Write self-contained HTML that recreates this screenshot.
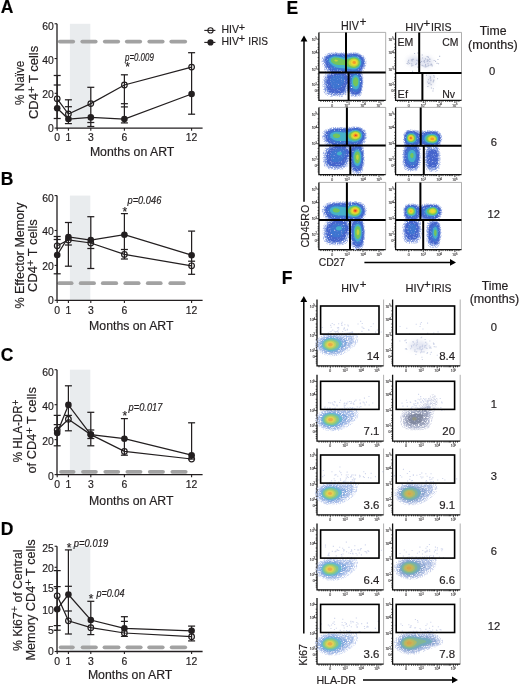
<!DOCTYPE html>
<html><head><meta charset="utf-8"><style>
html,body{margin:0;padding:0;background:#fff;}
body{width:520px;height:687px;overflow:hidden;}
svg{display:block;font-family:"Liberation Sans", sans-serif;will-change:transform;}
text{stroke:#231f20;stroke-width:0.18px;}
</style></head><body>
<svg width="520" height="687" viewBox="0 0 520 687" fill="#231f20">
<rect width="520" height="687" fill="#fff"/>
<text x="0.80" y="12.90" font-size="17.5" font-weight="bold" fill="#000">A</text>
<text x="0.80" y="184.60" font-size="17.5" font-weight="bold" fill="#000">B</text>
<text x="0.80" y="360.60" font-size="17.5" font-weight="bold" fill="#000">C</text>
<text x="0.80" y="534.60" font-size="17.5" font-weight="bold" fill="#000">D</text>
<text x="286.40" y="13.60" font-size="17.5" font-weight="bold" fill="#000">E</text>
<text x="281.80" y="283.60" font-size="17.5" font-weight="bold" fill="#000">F</text>
<rect x="69.9" y="23.80" width="20.4" height="104.30" fill="#e9ecee"/>
<line x1="59.80" y1="41.60" x2="73.20" y2="41.60" stroke="#a2a2a2" stroke-width="3.8" stroke-linecap="round"/>
<line x1="82.30" y1="41.60" x2="95.70" y2="41.60" stroke="#a2a2a2" stroke-width="3.8" stroke-linecap="round"/>
<line x1="104.80" y1="41.60" x2="118.20" y2="41.60" stroke="#a2a2a2" stroke-width="3.8" stroke-linecap="round"/>
<line x1="126.80" y1="41.60" x2="140.20" y2="41.60" stroke="#a2a2a2" stroke-width="3.8" stroke-linecap="round"/>
<line x1="149.30" y1="41.60" x2="162.70" y2="41.60" stroke="#a2a2a2" stroke-width="3.8" stroke-linecap="round"/>
<line x1="171.30" y1="41.60" x2="185.20" y2="41.60" stroke="#a2a2a2" stroke-width="3.8" stroke-linecap="round"/>
<path d="M57,23.80 V128.10 H202.6" fill="none" stroke="#231f20" stroke-width="1.3"/>
<line x1="54.6" y1="128.10" x2="57" y2="128.10" stroke="#231f20" stroke-width="1.1"/>
<text x="53.80" y="132.15" font-size="10.4" text-anchor="end">0</text>
<line x1="54.6" y1="93.32" x2="57" y2="93.32" stroke="#231f20" stroke-width="1.1"/>
<text x="53.80" y="97.85" font-size="10.4" text-anchor="end">20</text>
<line x1="54.6" y1="58.54" x2="57" y2="58.54" stroke="#231f20" stroke-width="1.1"/>
<text x="53.80" y="63.50" font-size="10.4" text-anchor="end">40</text>
<line x1="54.6" y1="23.76" x2="57" y2="23.76" stroke="#231f20" stroke-width="1.1"/>
<text x="53.80" y="29.65" font-size="10.4" text-anchor="end">60</text>
<line x1="57.20" y1="128.10" x2="57.20" y2="130.70" stroke="#231f20" stroke-width="1.1"/>
<text x="57.20" y="141.40" font-size="10.4" text-anchor="middle">0</text>
<line x1="68.40" y1="128.10" x2="68.40" y2="130.70" stroke="#231f20" stroke-width="1.1"/>
<text x="68.40" y="141.40" font-size="10.4" text-anchor="middle">1</text>
<line x1="90.80" y1="128.10" x2="90.80" y2="130.70" stroke="#231f20" stroke-width="1.1"/>
<text x="90.80" y="141.40" font-size="10.4" text-anchor="middle">3</text>
<line x1="124.40" y1="128.10" x2="124.40" y2="130.70" stroke="#231f20" stroke-width="1.1"/>
<text x="124.40" y="141.40" font-size="10.4" text-anchor="middle">6</text>
<line x1="191.60" y1="128.10" x2="191.60" y2="130.70" stroke="#231f20" stroke-width="1.1"/>
<text x="191.60" y="141.40" font-size="10.4" text-anchor="middle">12</text>
<text x="89.90" y="155.80" font-size="12" textLength="84.40" lengthAdjust="spacingAndGlyphs">Months on ART</text>
<line x1="57.20" y1="75.50" x2="57.20" y2="118.50" stroke="#231f20" stroke-width="1.25"/>
<line x1="53.70" y1="75.50" x2="60.70" y2="75.50" stroke="#231f20" stroke-width="1.25"/>
<line x1="53.70" y1="85.00" x2="60.70" y2="85.00" stroke="#231f20" stroke-width="1.25"/>
<line x1="53.70" y1="118.50" x2="60.70" y2="118.50" stroke="#231f20" stroke-width="1.25"/>
<line x1="68.40" y1="99.80" x2="68.40" y2="123.60" stroke="#231f20" stroke-width="1.25"/>
<line x1="64.90" y1="99.80" x2="71.90" y2="99.80" stroke="#231f20" stroke-width="1.25"/>
<line x1="64.90" y1="106.70" x2="71.90" y2="106.70" stroke="#231f20" stroke-width="1.25"/>
<line x1="64.90" y1="123.60" x2="71.90" y2="123.60" stroke="#231f20" stroke-width="1.25"/>
<line x1="90.80" y1="87.30" x2="90.80" y2="126.50" stroke="#231f20" stroke-width="1.25"/>
<line x1="87.30" y1="87.30" x2="94.30" y2="87.30" stroke="#231f20" stroke-width="1.25"/>
<line x1="87.30" y1="122.50" x2="94.30" y2="122.50" stroke="#231f20" stroke-width="1.25"/>
<line x1="87.30" y1="126.50" x2="94.30" y2="126.50" stroke="#231f20" stroke-width="1.25"/>
<line x1="124.40" y1="74.80" x2="124.40" y2="122.90" stroke="#231f20" stroke-width="1.25"/>
<line x1="120.90" y1="74.80" x2="127.90" y2="74.80" stroke="#231f20" stroke-width="1.25"/>
<line x1="120.90" y1="103.70" x2="127.90" y2="103.70" stroke="#231f20" stroke-width="1.25"/>
<line x1="120.90" y1="106.90" x2="127.90" y2="106.90" stroke="#231f20" stroke-width="1.25"/>
<line x1="120.90" y1="122.90" x2="127.90" y2="122.90" stroke="#231f20" stroke-width="1.25"/>
<line x1="191.60" y1="52.70" x2="191.60" y2="114.20" stroke="#231f20" stroke-width="1.25"/>
<line x1="188.10" y1="52.70" x2="195.10" y2="52.70" stroke="#231f20" stroke-width="1.25"/>
<line x1="188.10" y1="114.20" x2="195.10" y2="114.20" stroke="#231f20" stroke-width="1.25"/>
<polyline points="57.20,98.80 68.40,114.00 90.80,103.60 124.40,85.00 191.60,67.10" fill="none" stroke="#231f20" stroke-width="1.25"/>
<polyline points="57.20,108.30 68.40,119.00 90.80,117.40 124.40,119.00 191.60,94.00" fill="none" stroke="#231f20" stroke-width="1.25"/>
<circle cx="57.20" cy="108.30" r="3.3" fill="#231f20"/>
<circle cx="68.40" cy="119.00" r="3.3" fill="#231f20"/>
<circle cx="90.80" cy="117.40" r="3.3" fill="#231f20"/>
<circle cx="124.40" cy="119.00" r="3.3" fill="#231f20"/>
<circle cx="191.60" cy="94.00" r="3.3" fill="#231f20"/>
<circle cx="57.20" cy="98.80" r="2.8" fill="none" stroke="#231f20" stroke-width="1.2"/>
<circle cx="68.40" cy="114.00" r="2.8" fill="none" stroke="#231f20" stroke-width="1.2"/>
<circle cx="90.80" cy="103.60" r="2.8" fill="none" stroke="#231f20" stroke-width="1.2"/>
<circle cx="124.40" cy="85.00" r="2.8" fill="none" stroke="#231f20" stroke-width="1.2"/>
<circle cx="191.60" cy="67.10" r="2.8" fill="none" stroke="#231f20" stroke-width="1.2"/>
<text x="127.50" y="71.00" font-size="12" text-anchor="middle">*</text>
<text x="125.00" y="60.50" font-size="10.5" font-style="italic" textLength="28.80" lengthAdjust="spacingAndGlyphs">p=0.009</text>
<rect x="69.9" y="195.60" width="20.4" height="104.70" fill="#e9ecee"/>
<line x1="59.20" y1="283.20" x2="71.60" y2="283.20" stroke="#a2a2a2" stroke-width="3.8" stroke-linecap="round"/>
<line x1="80.70" y1="283.20" x2="94.00" y2="283.20" stroke="#a2a2a2" stroke-width="3.8" stroke-linecap="round"/>
<line x1="102.80" y1="283.20" x2="116.20" y2="283.20" stroke="#a2a2a2" stroke-width="3.8" stroke-linecap="round"/>
<line x1="125.30" y1="283.20" x2="138.60" y2="283.20" stroke="#a2a2a2" stroke-width="3.8" stroke-linecap="round"/>
<line x1="147.80" y1="283.20" x2="160.70" y2="283.20" stroke="#a2a2a2" stroke-width="3.8" stroke-linecap="round"/>
<line x1="170.30" y1="283.20" x2="183.80" y2="283.20" stroke="#a2a2a2" stroke-width="3.8" stroke-linecap="round"/>
<path d="M57,195.60 V300.30 H202.6" fill="none" stroke="#231f20" stroke-width="1.3"/>
<line x1="54.6" y1="300.30" x2="57" y2="300.30" stroke="#231f20" stroke-width="1.1"/>
<text x="53.80" y="304.45" font-size="10.4" text-anchor="end">0</text>
<line x1="54.6" y1="265.40" x2="57" y2="265.40" stroke="#231f20" stroke-width="1.1"/>
<text x="53.80" y="270.05" font-size="10.4" text-anchor="end">20</text>
<line x1="54.6" y1="230.50" x2="57" y2="230.50" stroke="#231f20" stroke-width="1.1"/>
<text x="53.80" y="235.45" font-size="10.4" text-anchor="end">40</text>
<line x1="54.6" y1="195.60" x2="57" y2="195.60" stroke="#231f20" stroke-width="1.1"/>
<text x="53.80" y="201.95" font-size="10.4" text-anchor="end">60</text>
<line x1="57.20" y1="300.30" x2="57.20" y2="302.90" stroke="#231f20" stroke-width="1.1"/>
<text x="57.20" y="313.60" font-size="10.4" text-anchor="middle">0</text>
<line x1="68.40" y1="300.30" x2="68.40" y2="302.90" stroke="#231f20" stroke-width="1.1"/>
<text x="68.40" y="313.60" font-size="10.4" text-anchor="middle">1</text>
<line x1="90.80" y1="300.30" x2="90.80" y2="302.90" stroke="#231f20" stroke-width="1.1"/>
<text x="90.80" y="313.60" font-size="10.4" text-anchor="middle">3</text>
<line x1="124.40" y1="300.30" x2="124.40" y2="302.90" stroke="#231f20" stroke-width="1.1"/>
<text x="124.40" y="313.60" font-size="10.4" text-anchor="middle">6</text>
<line x1="191.60" y1="300.30" x2="191.60" y2="302.90" stroke="#231f20" stroke-width="1.1"/>
<text x="191.60" y="313.60" font-size="10.4" text-anchor="middle">12</text>
<text x="89.10" y="329.80" font-size="12" textLength="84.40" lengthAdjust="spacingAndGlyphs">Months on ART</text>
<line x1="57.20" y1="236.50" x2="57.20" y2="273.80" stroke="#231f20" stroke-width="1.25"/>
<line x1="53.70" y1="236.50" x2="60.70" y2="236.50" stroke="#231f20" stroke-width="1.25"/>
<line x1="53.70" y1="239.50" x2="60.70" y2="239.50" stroke="#231f20" stroke-width="1.25"/>
<line x1="53.70" y1="273.80" x2="60.70" y2="273.80" stroke="#231f20" stroke-width="1.25"/>
<line x1="68.40" y1="222.50" x2="68.40" y2="266.20" stroke="#231f20" stroke-width="1.25"/>
<line x1="64.90" y1="222.50" x2="71.90" y2="222.50" stroke="#231f20" stroke-width="1.25"/>
<line x1="64.90" y1="245.00" x2="71.90" y2="245.00" stroke="#231f20" stroke-width="1.25"/>
<line x1="64.90" y1="266.20" x2="71.90" y2="266.20" stroke="#231f20" stroke-width="1.25"/>
<line x1="90.80" y1="216.70" x2="90.80" y2="268.50" stroke="#231f20" stroke-width="1.25"/>
<line x1="87.30" y1="216.70" x2="94.30" y2="216.70" stroke="#231f20" stroke-width="1.25"/>
<line x1="87.30" y1="248.50" x2="94.30" y2="248.50" stroke="#231f20" stroke-width="1.25"/>
<line x1="87.30" y1="268.50" x2="94.30" y2="268.50" stroke="#231f20" stroke-width="1.25"/>
<line x1="124.40" y1="213.60" x2="124.40" y2="259.00" stroke="#231f20" stroke-width="1.25"/>
<line x1="120.90" y1="213.60" x2="127.90" y2="213.60" stroke="#231f20" stroke-width="1.25"/>
<line x1="120.90" y1="249.50" x2="127.90" y2="249.50" stroke="#231f20" stroke-width="1.25"/>
<line x1="120.90" y1="259.00" x2="127.90" y2="259.00" stroke="#231f20" stroke-width="1.25"/>
<line x1="191.60" y1="231.10" x2="191.60" y2="274.30" stroke="#231f20" stroke-width="1.25"/>
<line x1="188.10" y1="231.10" x2="195.10" y2="231.10" stroke="#231f20" stroke-width="1.25"/>
<line x1="188.10" y1="261.20" x2="195.10" y2="261.20" stroke="#231f20" stroke-width="1.25"/>
<line x1="188.10" y1="274.30" x2="195.10" y2="274.30" stroke="#231f20" stroke-width="1.25"/>
<polyline points="57.20,245.80 68.40,240.00 90.80,243.00 124.40,254.40 191.60,265.80" fill="none" stroke="#231f20" stroke-width="1.25"/>
<polyline points="57.20,255.00 68.40,237.00 90.80,240.00 124.40,234.70 191.60,255.20" fill="none" stroke="#231f20" stroke-width="1.25"/>
<circle cx="57.20" cy="255.00" r="3.3" fill="#231f20"/>
<circle cx="68.40" cy="237.00" r="3.3" fill="#231f20"/>
<circle cx="90.80" cy="240.00" r="3.3" fill="#231f20"/>
<circle cx="124.40" cy="234.70" r="3.3" fill="#231f20"/>
<circle cx="191.60" cy="255.20" r="3.3" fill="#231f20"/>
<circle cx="57.20" cy="245.80" r="2.8" fill="none" stroke="#231f20" stroke-width="1.2"/>
<circle cx="68.40" cy="240.00" r="2.8" fill="none" stroke="#231f20" stroke-width="1.2"/>
<circle cx="90.80" cy="243.00" r="2.8" fill="none" stroke="#231f20" stroke-width="1.2"/>
<circle cx="124.40" cy="254.40" r="2.8" fill="none" stroke="#231f20" stroke-width="1.2"/>
<circle cx="191.60" cy="265.80" r="2.8" fill="none" stroke="#231f20" stroke-width="1.2"/>
<text x="124.80" y="215.50" font-size="12" text-anchor="middle">*</text>
<text x="127.50" y="203.70" font-size="10.5" font-style="italic" textLength="33.80" lengthAdjust="spacingAndGlyphs">p=0.046</text>
<rect x="69.9" y="369.70" width="20.4" height="104.90" fill="#e9ecee"/>
<line x1="61.00" y1="471.80" x2="73.60" y2="471.80" stroke="#a2a2a2" stroke-width="3.8" stroke-linecap="round"/>
<line x1="83.00" y1="471.80" x2="95.90" y2="471.80" stroke="#a2a2a2" stroke-width="3.8" stroke-linecap="round"/>
<line x1="105.30" y1="471.80" x2="118.20" y2="471.80" stroke="#a2a2a2" stroke-width="3.8" stroke-linecap="round"/>
<line x1="127.40" y1="471.80" x2="140.50" y2="471.80" stroke="#a2a2a2" stroke-width="3.8" stroke-linecap="round"/>
<line x1="149.80" y1="471.80" x2="163.00" y2="471.80" stroke="#a2a2a2" stroke-width="3.8" stroke-linecap="round"/>
<line x1="172.40" y1="471.80" x2="185.70" y2="471.80" stroke="#a2a2a2" stroke-width="3.8" stroke-linecap="round"/>
<path d="M57,369.70 V474.60 H202.6" fill="none" stroke="#231f20" stroke-width="1.3"/>
<line x1="54.6" y1="474.60" x2="57" y2="474.60" stroke="#231f20" stroke-width="1.1"/>
<text x="53.80" y="480.35" font-size="10.4" text-anchor="end">0</text>
<line x1="54.6" y1="439.64" x2="57" y2="439.64" stroke="#231f20" stroke-width="1.1"/>
<text x="53.80" y="445.35" font-size="10.4" text-anchor="end">20</text>
<line x1="54.6" y1="404.68" x2="57" y2="404.68" stroke="#231f20" stroke-width="1.1"/>
<text x="53.80" y="410.45" font-size="10.4" text-anchor="end">40</text>
<line x1="54.6" y1="369.72" x2="57" y2="369.72" stroke="#231f20" stroke-width="1.1"/>
<text x="53.80" y="376.35" font-size="10.4" text-anchor="end">60</text>
<line x1="57.20" y1="474.60" x2="57.20" y2="477.20" stroke="#231f20" stroke-width="1.1"/>
<text x="57.20" y="487.90" font-size="10.4" text-anchor="middle">0</text>
<line x1="68.40" y1="474.60" x2="68.40" y2="477.20" stroke="#231f20" stroke-width="1.1"/>
<text x="68.40" y="487.90" font-size="10.4" text-anchor="middle">1</text>
<line x1="90.80" y1="474.60" x2="90.80" y2="477.20" stroke="#231f20" stroke-width="1.1"/>
<text x="90.80" y="487.90" font-size="10.4" text-anchor="middle">3</text>
<line x1="124.40" y1="474.60" x2="124.40" y2="477.20" stroke="#231f20" stroke-width="1.1"/>
<text x="124.40" y="487.90" font-size="10.4" text-anchor="middle">6</text>
<line x1="191.60" y1="474.60" x2="191.60" y2="477.20" stroke="#231f20" stroke-width="1.1"/>
<text x="191.60" y="487.90" font-size="10.4" text-anchor="middle">12</text>
<text x="89.10" y="504.50" font-size="12" textLength="84.40" lengthAdjust="spacingAndGlyphs">Months on ART</text>
<line x1="57.20" y1="415.40" x2="57.20" y2="445.80" stroke="#231f20" stroke-width="1.25"/>
<line x1="53.70" y1="415.40" x2="60.70" y2="415.40" stroke="#231f20" stroke-width="1.25"/>
<line x1="53.70" y1="424.60" x2="60.70" y2="424.60" stroke="#231f20" stroke-width="1.25"/>
<line x1="53.70" y1="445.80" x2="60.70" y2="445.80" stroke="#231f20" stroke-width="1.25"/>
<line x1="68.40" y1="385.80" x2="68.40" y2="430.80" stroke="#231f20" stroke-width="1.25"/>
<line x1="64.90" y1="385.80" x2="71.90" y2="385.80" stroke="#231f20" stroke-width="1.25"/>
<line x1="64.90" y1="415.40" x2="71.90" y2="415.40" stroke="#231f20" stroke-width="1.25"/>
<line x1="64.90" y1="430.80" x2="71.90" y2="430.80" stroke="#231f20" stroke-width="1.25"/>
<line x1="90.80" y1="412.30" x2="90.80" y2="445.80" stroke="#231f20" stroke-width="1.25"/>
<line x1="87.30" y1="412.30" x2="94.30" y2="412.30" stroke="#231f20" stroke-width="1.25"/>
<line x1="87.30" y1="430.00" x2="94.30" y2="430.00" stroke="#231f20" stroke-width="1.25"/>
<line x1="87.30" y1="438.50" x2="94.30" y2="438.50" stroke="#231f20" stroke-width="1.25"/>
<line x1="87.30" y1="445.80" x2="94.30" y2="445.80" stroke="#231f20" stroke-width="1.25"/>
<line x1="124.40" y1="418.60" x2="124.40" y2="455.20" stroke="#231f20" stroke-width="1.25"/>
<line x1="120.90" y1="418.60" x2="127.90" y2="418.60" stroke="#231f20" stroke-width="1.25"/>
<line x1="120.90" y1="455.20" x2="127.90" y2="455.20" stroke="#231f20" stroke-width="1.25"/>
<line x1="191.60" y1="422.80" x2="191.60" y2="459.00" stroke="#231f20" stroke-width="1.25"/>
<line x1="188.10" y1="422.80" x2="195.10" y2="422.80" stroke="#231f20" stroke-width="1.25"/>
<line x1="188.10" y1="459.00" x2="195.10" y2="459.00" stroke="#231f20" stroke-width="1.25"/>
<polyline points="57.20,430.00 68.40,419.20 90.80,434.60 124.40,451.40 191.60,459.00" fill="none" stroke="#231f20" stroke-width="1.25"/>
<polyline points="57.20,433.00 68.40,404.90 90.80,434.60 124.40,438.70 191.60,455.20" fill="none" stroke="#231f20" stroke-width="1.25"/>
<circle cx="57.20" cy="433.00" r="3.3" fill="#231f20"/>
<circle cx="68.40" cy="404.90" r="3.3" fill="#231f20"/>
<circle cx="90.80" cy="434.60" r="3.3" fill="#231f20"/>
<circle cx="124.40" cy="438.70" r="3.3" fill="#231f20"/>
<circle cx="191.60" cy="455.20" r="3.3" fill="#231f20"/>
<circle cx="57.20" cy="430.00" r="2.8" fill="none" stroke="#231f20" stroke-width="1.2"/>
<circle cx="68.40" cy="419.20" r="2.8" fill="none" stroke="#231f20" stroke-width="1.2"/>
<circle cx="90.80" cy="434.60" r="2.8" fill="none" stroke="#231f20" stroke-width="1.2"/>
<circle cx="124.40" cy="451.40" r="2.8" fill="none" stroke="#231f20" stroke-width="1.2"/>
<circle cx="191.60" cy="459.00" r="2.8" fill="none" stroke="#231f20" stroke-width="1.2"/>
<text x="124.80" y="420.10" font-size="12" text-anchor="middle">*</text>
<text x="128.60" y="410.50" font-size="10.5" font-style="italic" textLength="33.80" lengthAdjust="spacingAndGlyphs">p=0.017</text>
<rect x="69.9" y="546.30" width="20.4" height="105.20" fill="#e9ecee"/>
<line x1="60.70" y1="647.30" x2="72.80" y2="647.30" stroke="#a2a2a2" stroke-width="3.8" stroke-linecap="round"/>
<line x1="82.60" y1="647.30" x2="95.90" y2="647.30" stroke="#a2a2a2" stroke-width="3.8" stroke-linecap="round"/>
<line x1="104.50" y1="647.30" x2="118.50" y2="647.30" stroke="#a2a2a2" stroke-width="3.8" stroke-linecap="round"/>
<line x1="127.40" y1="647.30" x2="140.70" y2="647.30" stroke="#a2a2a2" stroke-width="3.8" stroke-linecap="round"/>
<line x1="149.20" y1="647.30" x2="162.70" y2="647.30" stroke="#a2a2a2" stroke-width="3.8" stroke-linecap="round"/>
<line x1="171.70" y1="647.30" x2="185.20" y2="647.30" stroke="#a2a2a2" stroke-width="3.8" stroke-linecap="round"/>
<path d="M57,546.30 V651.50 H202.6" fill="none" stroke="#231f20" stroke-width="1.3"/>
<line x1="54.6" y1="651.50" x2="57" y2="651.50" stroke="#231f20" stroke-width="1.1"/>
<text x="53.80" y="654.65" font-size="10.4" text-anchor="end">0</text>
<line x1="54.6" y1="630.45" x2="57" y2="630.45" stroke="#231f20" stroke-width="1.1"/>
<text x="53.80" y="633.55" font-size="10.4" text-anchor="end">5</text>
<line x1="54.6" y1="609.40" x2="57" y2="609.40" stroke="#231f20" stroke-width="1.1"/>
<text x="53.80" y="613.95" font-size="10.4" text-anchor="end">10</text>
<line x1="54.6" y1="588.35" x2="57" y2="588.35" stroke="#231f20" stroke-width="1.1"/>
<text x="53.80" y="592.25" font-size="10.4" text-anchor="end">15</text>
<line x1="54.6" y1="567.30" x2="57" y2="567.30" stroke="#231f20" stroke-width="1.1"/>
<text x="53.80" y="572.45" font-size="10.4" text-anchor="end">20</text>
<line x1="54.6" y1="546.25" x2="57" y2="546.25" stroke="#231f20" stroke-width="1.1"/>
<text x="53.80" y="551.95" font-size="10.4" text-anchor="end">25</text>
<line x1="57.20" y1="651.50" x2="57.20" y2="654.10" stroke="#231f20" stroke-width="1.1"/>
<text x="57.20" y="664.80" font-size="10.4" text-anchor="middle">0</text>
<line x1="68.40" y1="651.50" x2="68.40" y2="654.10" stroke="#231f20" stroke-width="1.1"/>
<text x="68.40" y="664.80" font-size="10.4" text-anchor="middle">1</text>
<line x1="90.80" y1="651.50" x2="90.80" y2="654.10" stroke="#231f20" stroke-width="1.1"/>
<text x="90.80" y="664.80" font-size="10.4" text-anchor="middle">3</text>
<line x1="124.40" y1="651.50" x2="124.40" y2="654.10" stroke="#231f20" stroke-width="1.1"/>
<text x="124.40" y="664.80" font-size="10.4" text-anchor="middle">6</text>
<line x1="191.60" y1="651.50" x2="191.60" y2="654.10" stroke="#231f20" stroke-width="1.1"/>
<text x="191.60" y="664.80" font-size="10.4" text-anchor="middle">12</text>
<text x="87.90" y="679.00" font-size="12" textLength="84.40" lengthAdjust="spacingAndGlyphs">Months on ART</text>
<line x1="57.20" y1="570.60" x2="57.20" y2="630.20" stroke="#231f20" stroke-width="1.25"/>
<line x1="53.70" y1="570.60" x2="60.70" y2="570.60" stroke="#231f20" stroke-width="1.25"/>
<line x1="53.70" y1="586.60" x2="60.70" y2="586.60" stroke="#231f20" stroke-width="1.25"/>
<line x1="53.70" y1="625.60" x2="60.70" y2="625.60" stroke="#231f20" stroke-width="1.25"/>
<line x1="53.70" y1="630.20" x2="60.70" y2="630.20" stroke="#231f20" stroke-width="1.25"/>
<line x1="68.40" y1="549.90" x2="68.40" y2="634.00" stroke="#231f20" stroke-width="1.25"/>
<line x1="64.90" y1="549.90" x2="71.90" y2="549.90" stroke="#231f20" stroke-width="1.25"/>
<line x1="64.90" y1="586.30" x2="71.90" y2="586.30" stroke="#231f20" stroke-width="1.25"/>
<line x1="64.90" y1="611.00" x2="71.90" y2="611.00" stroke="#231f20" stroke-width="1.25"/>
<line x1="64.90" y1="634.00" x2="71.90" y2="634.00" stroke="#231f20" stroke-width="1.25"/>
<line x1="90.80" y1="601.30" x2="90.80" y2="634.60" stroke="#231f20" stroke-width="1.25"/>
<line x1="87.30" y1="601.30" x2="94.30" y2="601.30" stroke="#231f20" stroke-width="1.25"/>
<line x1="87.30" y1="634.60" x2="94.30" y2="634.60" stroke="#231f20" stroke-width="1.25"/>
<line x1="124.40" y1="616.70" x2="124.40" y2="636.40" stroke="#231f20" stroke-width="1.25"/>
<line x1="120.90" y1="616.70" x2="127.90" y2="616.70" stroke="#231f20" stroke-width="1.25"/>
<line x1="120.90" y1="621.40" x2="127.90" y2="621.40" stroke="#231f20" stroke-width="1.25"/>
<line x1="120.90" y1="636.40" x2="127.90" y2="636.40" stroke="#231f20" stroke-width="1.25"/>
<line x1="191.60" y1="626.10" x2="191.60" y2="640.90" stroke="#231f20" stroke-width="1.25"/>
<line x1="188.10" y1="626.10" x2="195.10" y2="626.10" stroke="#231f20" stroke-width="1.25"/>
<line x1="188.10" y1="640.90" x2="195.10" y2="640.90" stroke="#231f20" stroke-width="1.25"/>
<polyline points="57.20,595.80 68.40,620.80 90.80,627.70 124.40,633.00 191.60,636.70" fill="none" stroke="#231f20" stroke-width="1.25"/>
<polyline points="57.20,609.20 68.40,594.60 90.80,620.00 124.40,628.40 191.60,630.80" fill="none" stroke="#231f20" stroke-width="1.25"/>
<circle cx="57.20" cy="609.20" r="3.3" fill="#231f20"/>
<circle cx="68.40" cy="594.60" r="3.3" fill="#231f20"/>
<circle cx="90.80" cy="620.00" r="3.3" fill="#231f20"/>
<circle cx="124.40" cy="628.40" r="3.3" fill="#231f20"/>
<circle cx="191.60" cy="630.80" r="3.3" fill="#231f20"/>
<circle cx="57.20" cy="595.80" r="2.8" fill="none" stroke="#231f20" stroke-width="1.2"/>
<circle cx="68.40" cy="620.80" r="2.8" fill="none" stroke="#231f20" stroke-width="1.2"/>
<circle cx="90.80" cy="627.70" r="2.8" fill="none" stroke="#231f20" stroke-width="1.2"/>
<circle cx="124.40" cy="633.00" r="2.8" fill="none" stroke="#231f20" stroke-width="1.2"/>
<circle cx="191.60" cy="636.70" r="2.8" fill="none" stroke="#231f20" stroke-width="1.2"/>
<text x="69.00" y="552.40" font-size="12" text-anchor="middle">*</text>
<text x="73.80" y="546.60" font-size="10.5" font-style="italic" textLength="34.40" lengthAdjust="spacingAndGlyphs">p=0.019</text>
<text x="91.20" y="603.20" font-size="12" text-anchor="middle">*</text>
<text x="96.40" y="597.00" font-size="10.5" font-style="italic" textLength="28.10" lengthAdjust="spacingAndGlyphs">p=0.04</text>
<line x1="204.3" y1="30.4" x2="215.4" y2="30.4" stroke="#231f20" stroke-width="1.1"/>
<circle cx="210.5" cy="30.4" r="2.6" fill="none" stroke="#231f20" stroke-width="1.1"/>
<line x1="204.3" y1="42.4" x2="215.4" y2="42.4" stroke="#231f20" stroke-width="1.1"/>
<circle cx="210.5" cy="42.4" r="3.1" fill="#231f20"/>
<text x="221.54" y="32.60" font-size="11" textLength="17.50" lengthAdjust="spacingAndGlyphs">HIV</text>
<text x="238.66" y="30.57" font-size="10.8">+</text>
<text x="221.54" y="45.10" font-size="11" textLength="17.50" lengthAdjust="spacingAndGlyphs">HIV</text>
<text x="238.66" y="42.37" font-size="10.8">+</text>
<text x="248.34" y="45.10" font-size="11" textLength="19.60" lengthAdjust="spacingAndGlyphs">IRIS</text>
<text transform="translate(24.10,104.90) rotate(-90)" x="0" y="0" font-size="12" textLength="44.30" lengthAdjust="spacingAndGlyphs">% Naïve</text>
<text transform="translate(37.80,119.10) rotate(-90)" x="0" y="0" font-size="12" textLength="73.30" lengthAdjust="spacingAndGlyphs">CD4<tspan font-size="10.5" dy="-3.2">+</tspan><tspan dy="3.2"> T cells</tspan></text>
<text transform="translate(23.70,308.60) rotate(-90)" x="0" y="0" font-size="12" textLength="106.20" lengthAdjust="spacingAndGlyphs">% Effector Memory</text>
<text transform="translate(37.00,291.90) rotate(-90)" x="0" y="0" font-size="12" textLength="72.70" lengthAdjust="spacingAndGlyphs">CD4<tspan font-size="10.5" dy="-3.2">+</tspan><tspan dy="3.2"> T cells</tspan></text>
<text transform="translate(22.40,462.20) rotate(-90)" x="0" y="0" font-size="12" textLength="62.70" lengthAdjust="spacingAndGlyphs">% HLA-DR<tspan font-size="10.5" dy="-3.2">+</tspan><tspan dy="3.2"></tspan></text>
<text transform="translate(36.00,473.50) rotate(-90)" x="0" y="0" font-size="12" textLength="86.30" lengthAdjust="spacingAndGlyphs">of CD4<tspan font-size="10.5" dy="-3.2">+</tspan><tspan dy="3.2"> T cells</tspan></text>
<text transform="translate(21.50,651.10) rotate(-90)" x="0" y="0" font-size="12" textLength="101.60" lengthAdjust="spacingAndGlyphs">% Ki67<tspan font-size="10.5" dy="-3.2">+</tspan><tspan dy="3.2"> of Central</tspan></text>
<text transform="translate(35.10,660.60) rotate(-90)" x="0" y="0" font-size="12" textLength="121.20" lengthAdjust="spacingAndGlyphs">Memory CD4<tspan font-size="10.5" dy="-3.2">+</tspan><tspan dy="3.2"> T cells</tspan></text>
<defs><filter id="hz" x="-50%" y="-50%" width="200%" height="200%"><feGaussianBlur stdDeviation="2"/></filter><filter id="bl" x="-10%" y="-10%" width="120%" height="120%"><feGaussianBlur stdDeviation="0.6"/></filter><filter id="g1" x="0" y="0" width="100%" height="100%" filterUnits="objectBoundingBox"><feTurbulence type="fractalNoise" baseFrequency="0.85" numOctaves="2" seed="4" result="n"/><feColorMatrix in="n" type="matrix" values="0 0 0 0 0  0 0 0 0 0  0 0 0 0 0  3.5 0 0 0 -1.35" result="m"/><feComposite in="SourceGraphic" in2="m" operator="in" result="c"/><feGaussianBlur in="c" stdDeviation="0.3"/></filter><filter id="g2" x="0" y="0" width="100%" height="100%" filterUnits="objectBoundingBox"><feTurbulence type="fractalNoise" baseFrequency="0.8" numOctaves="2" seed="11" result="n"/><feColorMatrix in="n" type="matrix" values="0 0 0 0 0  0 0 0 0 0  0 0 0 0 0  3.5 0 0 0 -1.0" result="m"/><feComposite in="SourceGraphic" in2="m" operator="in" result="c"/><feGaussianBlur in="c" stdDeviation="0.35"/></filter><filter id="g3" x="0" y="0" width="100%" height="100%" filterUnits="objectBoundingBox"><feTurbulence type="fractalNoise" baseFrequency="0.7" numOctaves="2" seed="23" result="n"/><feColorMatrix in="n" type="matrix" values="0 0 0 0 0  0 0 0 0 0  0 0 0 0 0  4 0 0 0 -0.8" result="m"/><feComposite in="SourceGraphic" in2="m" operator="in" result="c"/><feGaussianBlur in="c" stdDeviation="0.4"/></filter><filter id="g" x="0" y="0" width="100%" height="100%" filterUnits="objectBoundingBox"><feTurbulence type="fractalNoise" baseFrequency="0.85" numOctaves="2" seed="4" result="n"/><feColorMatrix in="n" type="matrix" values="0 0 0 0 0  0 0 0 0 0  0 0 0 0 0  3.5 0 0 0 -1.35" result="m"/><feComposite in="SourceGraphic" in2="m" operator="in" result="c"/><feGaussianBlur in="c" stdDeviation="0.3"/></filter><filter id="d" x="0" y="0" width="100%" height="100%" filterUnits="objectBoundingBox"><feTurbulence type="fractalNoise" baseFrequency="0.7" numOctaves="2" seed="23" result="n"/><feColorMatrix in="n" type="matrix" values="0 0 0 0 0  0 0 0 0 0  0 0 0 0 0  4 0 0 0 -0.8" result="m"/><feComposite in="SourceGraphic" in2="m" operator="in" result="c"/><feGaussianBlur in="c" stdDeviation="0.4"/></filter></defs>
<path d="M318.9,32.4 H385.7 V100.4" fill="none" stroke="#9a9a9a" stroke-width="0.8"/>
<path d="M316.5,39.2h2.4M316.5,52.8h2.4M316.5,69.1h2.4M316.5,84.8h2.4M316.5,90.9h2.4M317.6,44.0h1.3M317.6,47.4h1.3M317.6,49.4h1.3M317.6,57.6h1.3M317.6,61.0h1.3M317.6,63.7h1.3M317.6,65.7h1.3M317.6,73.9h1.3M317.6,77.3h1.3M317.6,79.3h1.3M317.6,81.4h1.3M317.6,87.5h1.3M317.6,89.5h1.3M317.6,93.6h1.3M317.6,95.6h1.3M317.6,97.7h1.3" stroke="#111" stroke-width="0.7" fill="none"/>
<text x="311.7" y="40.6" font-size="3.4" fill="#999" stroke="none">10<tspan font-size="2.6" dy="-1.3">5</tspan></text><text x="311.7" y="54.2" font-size="3.4" fill="#999" stroke="none">10<tspan font-size="2.6" dy="-1.3">4</tspan></text><text x="311.7" y="70.5" font-size="3.4" fill="#999" stroke="none">10<tspan font-size="2.6" dy="-1.3">3</tspan></text><text x="311.7" y="86.2" font-size="3.4" fill="#999" stroke="none">10<tspan font-size="2.6" dy="-1.3">2</tspan></text><text x="314.7" y="92.3" font-size="3.4" fill="#999" stroke="none">0</text>
<path d="M320.9,100.4v1.5M323.6,100.4v1.5M325.6,100.4v1.5M327.6,100.4v1.5M329.6,100.4v1.5M334.9,100.4v1.5M337.6,100.4v1.5M339.6,100.4v1.5M341.6,100.4v1.5M343.6,100.4v1.5M345.0,100.4v1.5M349.0,100.4v1.5M351.0,100.4v1.5M353.6,100.4v1.5M355.6,100.4v1.5M357.6,100.4v1.5M359.0,100.4v1.5M360.3,100.4v1.5M365.0,100.4v1.5M367.0,100.4v1.5M369.7,100.4v1.5M371.7,100.4v1.5M373.7,100.4v1.5M375.0,100.4v1.5M376.3,100.4v1.5M381.0,100.4v1.5M383.0,100.4v1.5M332.3,100.4v2.6M347.0,100.4v2.6M363.0,100.4v2.6M379.0,100.4v2.6" stroke="#111" stroke-width="0.8" fill="none"/>
<text x="331.3" y="106.6" font-size="3.4" fill="#aaa" stroke="none">0</text><text x="344.4" y="106.6" font-size="3.4" fill="#aaa" stroke="none">10<tspan font-size="2.6" dy="-1.3">3</tspan></text><text x="360.4" y="106.6" font-size="3.4" fill="#aaa" stroke="none">10<tspan font-size="2.6" dy="-1.3">4</tspan></text><text x="376.4" y="106.6" font-size="3.4" fill="#aaa" stroke="none">10<tspan font-size="2.6" dy="-1.3">5</tspan></text>
<path d="M318.9,32.4 V100.4 H385.7" fill="none" stroke="#111" stroke-width="1.3"/>
<g opacity="1.0">
<path d="M358.4,97.1 L355.9,97.4 L352.9,97.1 L351.4,96.6 L347.9,94.3 L346.9,94.6 L343.9,96.2 L341.4,96.9 L337.9,97.1 L331.9,97.0 L327.9,96.1 L326.4,95.3 L324.8,93.9 L323.6,91.9 L323.0,89.9 L322.7,86.9 L322.5,81.4 L323.1,77.4 L325.0,73.4 L325.2,71.9 L322.9,66.9 L321.7,62.4 L321.5,60.4 L321.7,58.9 L322.3,57.4 L324.4,55.0 L327.9,53.1 L332.9,52.0 L336.9,52.0 L345.9,52.6 L354.9,52.1 L357.9,52.5 L360.4,53.3 L362.9,54.8 L364.6,56.4 L366.2,59.4 L366.6,62.9 L366.3,65.4 L365.6,67.4 L363.4,70.9 L362.8,72.4 L363.6,80.9 L363.1,89.4 L362.6,91.9 L361.6,94.4 L360.4,96.0 L358.4,97.1Z" fill="#a8b8ea" filter="url(#g1)"/>
<path d="M356.4,95.9 L353.9,95.8 L351.9,95.2 L350.4,94.1 L347.9,91.3 L346.9,91.5 L345.1,93.4 L343.4,94.5 L341.4,95.1 L338.9,95.4 L333.4,95.5 L330.4,95.1 L327.9,94.1 L326.0,92.4 L325.0,90.4 L324.5,88.4 L324.2,80.4 L325.1,76.9 L327.5,73.4 L327.9,72.4 L327.6,71.4 L325.9,68.9 L324.8,66.9 L323.5,62.9 L323.1,60.4 L323.7,57.9 L324.8,56.4 L325.9,55.4 L329.4,53.7 L333.4,53.0 L337.4,52.9 L345.4,53.6 L354.9,53.0 L357.9,53.5 L359.9,54.2 L361.9,55.4 L363.8,57.4 L365.0,59.9 L365.3,62.9 L364.6,66.4 L361.9,70.9 L361.5,71.9 L361.6,73.4 L362.6,77.9 L362.8,80.4 L362.7,85.4 L362.2,89.9 L361.4,92.4 L360.1,94.4 L358.4,95.6 L356.4,95.9Z" fill="#7691dc" filter="url(#g2)"/>
<path d="M357.9,94.1 L356.4,94.3 L353.9,94.2 L352.4,93.7 L351.4,93.0 L349.8,90.4 L348.4,84.9 L347.9,83.7 L347.4,83.5 L346.4,85.0 L344.5,90.4 L343.2,91.9 L341.4,92.9 L337.9,93.4 L332.4,93.3 L329.9,92.6 L327.9,91.0 L327.1,89.4 L326.6,87.4 L326.2,81.9 L326.4,79.4 L326.9,77.9 L327.8,76.4 L331.1,73.4 L331.6,72.4 L331.0,71.4 L327.6,67.9 L325.0,62.4 L324.7,60.4 L325.0,58.9 L325.8,57.4 L326.7,56.4 L329.9,54.7 L333.9,53.9 L336.9,53.9 L345.4,54.6 L354.4,54.0 L356.9,54.3 L358.9,55.0 L360.9,56.1 L362.3,57.4 L363.3,58.9 L363.8,60.4 L364.1,61.9 L364.0,63.9 L363.2,66.4 L360.5,70.4 L360.0,71.9 L361.4,76.4 L361.8,78.9 L362.0,82.4 L361.7,86.9 L361.1,89.9 L360.4,91.8 L359.4,93.1 L357.9,94.1ZM347.9,76.4 L348.9,75.7 L349.6,73.9 L349.4,73.4 L348.9,73.0 L347.1,72.9 L346.2,73.4 L346.1,74.4 L346.9,75.7 L347.9,76.4Z" fill="#4565cc" filter="url(#g3)"/>
<path d="M356.4,92.0 L353.9,91.7 L352.4,90.8 L351.3,88.9 L350.6,86.4 L350.1,81.9 L350.2,78.9 L351.0,76.4 L353.2,72.9 L353.3,72.4 L353.0,71.9 L350.9,71.0 L348.4,70.6 L340.4,70.8 L337.9,70.6 L334.9,69.9 L332.4,68.7 L329.9,66.4 L328.2,63.9 L327.1,61.9 L326.9,60.4 L327.2,58.9 L327.8,57.9 L328.8,56.9 L331.4,55.7 L334.4,55.1 L337.4,55.2 L345.4,56.1 L354.4,55.3 L356.4,55.5 L358.4,56.2 L359.9,57.1 L361.2,58.4 L362.0,59.9 L362.5,61.4 L362.5,62.9 L362.1,64.9 L360.7,67.4 L357.3,70.9 L356.8,71.9 L359.4,75.3 L360.4,77.9 L360.8,81.4 L360.5,85.9 L359.9,88.6 L359.1,90.4 L357.9,91.5 L356.4,92.0ZM338.9,88.4 L337.4,88.7 L334.9,88.6 L333.4,88.3 L332.4,87.8 L331.6,86.9 L330.9,85.3 L330.1,82.9 L329.8,80.9 L330.2,78.9 L331.9,76.9 L334.9,75.4 L338.4,74.7 L340.9,75.1 L342.9,76.1 L344.0,77.4 L344.6,79.4 L344.0,81.9 L342.4,84.7 L340.5,87.4 L338.9,88.4Z" fill="#3c74d0" filter="url(#g3)"/>
<path d="M354.9,69.5 L352.9,69.5 L345.9,68.5 L339.4,68.1 L335.9,67.4 L332.9,65.7 L330.3,63.4 L329.1,61.4 L329.1,59.4 L329.6,58.4 L330.9,57.4 L332.4,56.7 L334.4,56.3 L337.9,56.4 L344.9,57.7 L346.9,57.6 L353.4,56.4 L355.4,56.5 L357.4,57.1 L358.9,57.9 L360.4,59.6 L361.1,61.4 L361.1,63.4 L360.4,65.4 L358.9,67.4 L356.9,68.8 L354.9,69.5ZM355.9,89.4 L354.4,89.1 L352.9,87.8 L352.0,85.4 L351.5,81.9 L351.7,79.4 L352.4,77.4 L353.9,75.6 L355.4,75.1 L356.9,75.3 L358.4,76.7 L359.2,78.4 L359.6,80.9 L359.4,84.4 L358.6,87.4 L357.4,88.9 L355.9,89.4Z" fill="#44b0c9" filter="url(#bl)"/>
<path d="M355.4,67.9 L353.4,68.1 L350.9,67.8 L343.9,65.0 L338.4,64.9 L335.4,64.4 L333.4,63.5 L331.9,62.4 L331.0,60.9 L331.0,59.9 L332.1,58.4 L333.4,57.8 L334.9,57.5 L338.4,57.8 L343.4,59.5 L344.9,59.8 L346.4,59.5 L352.4,57.6 L354.4,57.4 L356.4,57.8 L357.9,58.6 L359.2,59.9 L359.9,61.4 L360.0,62.9 L359.6,64.4 L358.7,65.9 L357.4,67.0 L355.4,67.9ZM355.9,86.5 L354.9,86.2 L353.9,85.2 L353.2,83.4 L353.0,81.4 L353.3,79.4 L353.9,78.3 L354.9,77.4 L355.9,77.2 L356.9,77.6 L357.6,78.4 L358.2,79.9 L358.3,81.4 L358.1,83.4 L357.7,84.9 L356.9,86.0 L355.9,86.5Z" fill="#72c55c" filter="url(#bl)"/>
<path d="M355.4,66.5 L353.9,66.7 L352.4,66.5 L350.8,65.9 L349.5,64.9 L348.8,63.9 L348.5,62.4 L348.7,61.4 L349.4,60.4 L351.4,59.1 L353.9,58.6 L355.9,58.9 L357.6,59.9 L358.5,61.4 L358.5,63.4 L357.4,65.3 L355.4,66.5ZM336.9,61.5 L335.4,61.4 L334.6,60.9 L334.4,60.4 L334.7,59.9 L335.4,59.6 L337.3,59.9 L337.9,60.4 L337.9,60.9 L336.9,61.5Z" fill="#c3d63a" filter="url(#bl)"/>
<path d="M354.4,65.4 L352.9,65.3 L351.9,64.8 L351.0,63.9 L350.6,62.9 L350.6,61.9 L351.2,60.9 L352.4,60.0 L353.4,59.7 L354.9,59.7 L355.9,60.1 L356.9,60.9 L357.4,61.9 L357.3,63.4 L356.6,64.4 L355.4,65.2 L354.4,65.4Z" fill="#eed830" filter="url(#bl)"/>
<path d="M354.4,64.0 L352.9,63.5 L352.5,62.4 L352.9,61.5 L353.9,61.0 L355.4,61.3 L356.0,62.4 L355.6,63.4 L354.4,64.0Z" fill="#f49a28" filter="url(#bl)"/>
</g>
<path d="M346.0,32.4 V72.4 M318.9,72.4 H385.7 M348.6,72.4 V100.4" stroke="#000" stroke-width="2" fill="none"/>
<path d="M318.9,107.4 H385.7 V174.6" fill="none" stroke="#9a9a9a" stroke-width="0.8"/>
<path d="M316.5,114.1h2.4M316.5,127.6h2.4M316.5,143.7h2.4M316.5,159.1h2.4M316.5,165.2h2.4M317.6,118.8h1.3M317.6,122.2h1.3M317.6,124.2h1.3M317.6,132.3h1.3M317.6,135.6h1.3M317.6,138.3h1.3M317.6,140.3h1.3M317.6,148.4h1.3M317.6,151.8h1.3M317.6,153.8h1.3M317.6,155.8h1.3M317.6,161.8h1.3M317.6,163.8h1.3M317.6,167.9h1.3M317.6,169.9h1.3M317.6,171.9h1.3" stroke="#111" stroke-width="0.7" fill="none"/>
<text x="311.7" y="115.5" font-size="3.4" fill="#999" stroke="none">10<tspan font-size="2.6" dy="-1.3">5</tspan></text><text x="311.7" y="129.0" font-size="3.4" fill="#999" stroke="none">10<tspan font-size="2.6" dy="-1.3">4</tspan></text><text x="311.7" y="145.1" font-size="3.4" fill="#999" stroke="none">10<tspan font-size="2.6" dy="-1.3">3</tspan></text><text x="311.7" y="160.5" font-size="3.4" fill="#999" stroke="none">10<tspan font-size="2.6" dy="-1.3">2</tspan></text><text x="314.7" y="166.6" font-size="3.4" fill="#999" stroke="none">0</text>
<path d="M320.9,174.6v1.5M323.6,174.6v1.5M325.6,174.6v1.5M327.6,174.6v1.5M329.6,174.6v1.5M334.9,174.6v1.5M337.6,174.6v1.5M339.6,174.6v1.5M341.6,174.6v1.5M343.6,174.6v1.5M345.0,174.6v1.5M349.0,174.6v1.5M351.0,174.6v1.5M353.6,174.6v1.5M355.6,174.6v1.5M357.6,174.6v1.5M359.0,174.6v1.5M360.3,174.6v1.5M365.0,174.6v1.5M367.0,174.6v1.5M369.7,174.6v1.5M371.7,174.6v1.5M373.7,174.6v1.5M375.0,174.6v1.5M376.3,174.6v1.5M381.0,174.6v1.5M383.0,174.6v1.5M332.3,174.6v2.6M347.0,174.6v2.6M363.0,174.6v2.6M379.0,174.6v2.6" stroke="#111" stroke-width="0.8" fill="none"/>
<text x="331.3" y="180.8" font-size="3.4" fill="#aaa" stroke="none">0</text><text x="344.4" y="180.8" font-size="3.4" fill="#aaa" stroke="none">10<tspan font-size="2.6" dy="-1.3">3</tspan></text><text x="360.4" y="180.8" font-size="3.4" fill="#aaa" stroke="none">10<tspan font-size="2.6" dy="-1.3">4</tspan></text><text x="376.4" y="180.8" font-size="3.4" fill="#aaa" stroke="none">10<tspan font-size="2.6" dy="-1.3">5</tspan></text>
<path d="M318.9,107.4 V174.6 H385.7" fill="none" stroke="#111" stroke-width="1.3"/>
<g opacity="1.0">
<path d="M358.4,174.4 L354.9,174.3 L352.9,173.2 L351.5,171.4 L349.9,167.0 L349.4,165.9 L348.9,165.5 L348.4,165.7 L346.1,167.9 L344.4,168.9 L341.9,169.6 L338.4,169.9 L332.4,169.9 L329.4,169.4 L326.4,168.2 L324.4,166.4 L323.4,164.4 L322.8,161.9 L322.7,153.9 L323.6,150.4 L326.1,146.9 L326.3,145.9 L323.0,140.9 L322.2,138.4 L321.9,135.4 L322.0,133.9 L322.6,132.4 L323.6,130.9 L324.8,129.9 L328.4,128.1 L332.9,127.1 L337.4,126.9 L346.9,126.9 L355.9,126.1 L358.9,126.5 L361.4,127.3 L363.9,128.8 L365.5,130.4 L366.8,132.9 L367.2,135.9 L366.8,138.4 L366.2,140.4 L363.9,144.1 L363.4,145.4 L364.8,155.4 L364.7,160.4 L364.1,165.9 L363.2,169.9 L361.9,172.4 L360.4,173.8 L358.4,174.4Z" fill="#a8b8ea" filter="url(#g1)"/>
<path d="M359.4,172.5 L357.9,172.8 L355.4,172.7 L353.9,172.1 L352.9,171.2 L352.0,169.9 L351.3,167.9 L349.7,160.9 L349.4,160.1 L348.9,159.9 L345.9,165.6 L344.4,166.9 L341.9,167.9 L337.9,168.4 L331.4,168.2 L328.4,167.3 L327.0,166.4 L326.0,165.4 L325.1,163.9 L324.5,161.4 L324.3,156.4 L324.5,153.4 L325.6,150.4 L326.9,148.9 L329.2,146.9 L329.5,145.9 L328.9,144.9 L325.7,141.9 L324.5,139.9 L323.9,137.9 L323.6,135.9 L323.8,133.9 L324.4,132.4 L325.9,130.7 L328.9,129.1 L332.9,128.1 L337.4,127.8 L346.9,127.8 L355.4,127.0 L357.9,127.2 L360.9,128.1 L362.9,129.3 L364.5,130.9 L365.4,132.4 L365.8,133.9 L365.8,137.4 L364.7,140.4 L362.4,143.9 L362.0,145.4 L363.3,149.9 L363.9,153.4 L364.0,157.9 L363.7,163.4 L363.1,166.9 L362.1,169.9 L360.9,171.6 L359.4,172.5Z" fill="#7691dc" filter="url(#g2)"/>
<path d="M358.4,171.0 L356.4,171.0 L354.9,170.6 L353.9,170.0 L352.9,168.8 L351.6,164.9 L350.4,156.2 L349.9,154.6 L349.4,154.4 L346.9,158.4 L344.7,163.4 L343.4,164.9 L341.9,165.7 L338.4,166.4 L332.4,166.3 L329.9,165.6 L327.9,164.1 L327.0,162.4 L326.6,160.4 L326.3,155.4 L326.7,152.9 L327.4,151.4 L328.4,150.2 L329.9,149.1 L333.8,146.9 L334.3,146.4 L334.3,145.9 L333.9,145.4 L328.8,142.4 L327.3,140.9 L326.1,138.9 L325.5,136.9 L325.3,134.9 L326.0,132.9 L327.4,131.4 L330.4,129.8 L333.9,129.0 L337.4,128.8 L346.9,128.9 L355.4,127.9 L357.9,128.1 L359.9,128.7 L361.9,129.8 L363.5,131.4 L364.3,132.9 L364.7,134.4 L364.5,137.4 L363.5,139.9 L360.7,143.4 L360.1,144.9 L362.2,149.4 L363.0,152.9 L363.3,157.4 L363.0,162.4 L362.4,165.9 L361.4,168.6 L359.9,170.4 L358.4,171.0ZM350.2,151.4 L352.2,147.9 L352.5,146.9 L352.4,146.3 L351.4,145.6 L349.9,145.4 L347.9,145.6 L346.4,146.3 L346.1,146.9 L346.4,147.4 L349.4,151.5 L349.9,151.8 L350.2,151.4Z" fill="#4565cc" filter="url(#g3)"/>
<path d="M355.9,143.5 L340.4,143.6 L336.9,143.3 L334.4,142.7 L331.4,141.3 L329.3,139.4 L327.9,136.9 L327.7,135.4 L327.8,134.4 L328.7,132.9 L329.9,131.9 L331.4,131.1 L333.9,130.5 L337.4,130.3 L346.4,130.6 L354.9,129.0 L356.9,129.1 L358.9,129.6 L360.9,130.7 L362.5,132.4 L363.2,134.4 L363.1,136.9 L362.0,139.4 L360.4,141.2 L358.4,142.6 L355.9,143.5ZM357.9,168.4 L355.4,168.0 L354.4,167.3 L353.8,166.4 L352.6,162.9 L352.1,157.4 L352.2,153.4 L353.1,150.4 L354.9,148.1 L356.9,147.3 L358.9,147.7 L360.6,149.4 L361.7,151.9 L362.2,155.9 L362.1,160.9 L361.2,164.9 L359.9,167.4 L358.9,168.2 L357.9,168.4ZM338.9,162.0 L334.4,162.0 L332.9,161.5 L332.0,160.9 L331.1,159.4 L330.4,157.0 L330.1,155.4 L330.3,153.9 L331.4,151.9 L334.4,149.9 L338.4,148.6 L341.9,148.7 L343.9,149.5 L345.4,150.8 L346.0,152.4 L346.0,153.9 L344.9,156.3 L342.4,159.5 L340.9,161.0 L338.9,162.0Z" fill="#3c74d0" filter="url(#g3)"/>
<path d="M356.9,141.5 L353.9,141.8 L346.9,141.0 L339.4,141.1 L335.9,140.7 L333.4,139.8 L331.4,138.3 L330.2,136.4 L330.1,134.9 L330.5,133.9 L331.6,132.9 L334.4,131.9 L337.9,131.8 L345.4,132.8 L347.4,132.4 L353.4,130.2 L355.4,130.0 L357.4,130.2 L359.4,131.0 L360.9,132.2 L361.7,133.4 L362.1,135.4 L361.7,137.4 L360.8,138.9 L358.9,140.6 L356.9,141.5ZM358.9,165.4 L357.4,165.9 L356.4,165.7 L355.4,165.1 L354.3,163.4 L353.4,159.9 L353.2,155.9 L353.7,152.9 L354.9,150.7 L355.9,149.9 L356.9,149.6 L358.4,149.7 L359.8,150.9 L360.6,152.4 L361.2,154.9 L361.3,157.9 L360.9,161.4 L360.1,163.9 L358.9,165.4ZM339.4,155.4 L337.9,155.1 L337.0,154.4 L336.8,153.9 L337.0,152.9 L337.9,152.1 L338.9,151.7 L339.9,151.6 L341.1,151.9 L342.0,152.9 L341.9,153.9 L340.9,155.0 L339.4,155.4Z" fill="#44b0c9" filter="url(#bl)"/>
<path d="M355.9,140.5 L353.4,140.4 L350.9,139.6 L349.4,138.4 L348.4,136.4 L348.5,134.9 L349.5,133.4 L351.5,131.9 L353.9,131.0 L356.4,130.9 L358.4,131.4 L360.2,132.9 L361.0,134.4 L360.9,136.4 L359.9,138.4 L358.4,139.6 L355.9,140.5ZM337.9,137.9 L335.9,137.9 L334.2,137.4 L333.1,136.4 L332.8,135.9 L332.9,134.9 L334.0,133.9 L335.9,133.5 L337.9,133.7 L339.5,134.4 L340.3,135.4 L340.2,136.4 L339.2,137.4 L337.9,137.9ZM357.4,163.4 L356.4,163.1 L355.3,161.9 L354.7,159.9 L354.3,156.9 L354.5,154.9 L355.3,152.9 L356.4,151.8 L357.4,151.5 L358.4,151.8 L359.4,152.9 L360.0,154.4 L360.3,156.9 L360.0,159.9 L359.4,161.9 L358.4,163.1 L357.4,163.4Z" fill="#72c55c" filter="url(#bl)"/>
<path d="M356.9,139.1 L355.4,139.3 L353.9,139.1 L352.4,138.5 L351.4,137.5 L350.9,136.4 L350.8,134.9 L351.2,133.9 L352.2,132.9 L353.9,132.1 L355.9,131.8 L357.9,132.3 L359.3,133.4 L359.9,134.9 L359.8,136.4 L358.8,137.9 L356.9,139.1ZM357.4,159.9 L356.4,159.0 L356.0,156.9 L356.4,155.2 L357.4,154.4 L358.4,155.1 L358.8,156.9 L358.4,159.2 L357.9,159.8 L357.4,159.9Z" fill="#c3d63a" filter="url(#bl)"/>
<path d="M356.9,138.1 L355.9,138.3 L354.4,138.2 L353.4,137.7 L352.6,136.9 L352.2,135.9 L352.2,134.9 L353.2,133.4 L354.4,132.8 L355.9,132.6 L357.4,133.0 L358.5,133.9 L358.9,134.9 L358.8,136.4 L358.0,137.4 L356.9,138.1Z" fill="#eed830" filter="url(#bl)"/>
<path d="M356.9,137.0 L355.4,137.3 L354.2,136.9 L353.4,135.9 L353.4,134.9 L353.7,134.4 L354.4,133.8 L355.4,133.5 L357.1,133.9 L357.6,134.4 L358.0,135.4 L357.6,136.4 L356.9,137.0Z" fill="#f49a28" filter="url(#bl)"/>
<path d="M356.4,135.9 L355.9,136.1 L355.1,135.9 L354.8,135.4 L355.0,134.9 L355.9,134.6 L356.4,134.8 L356.6,135.4 L356.4,135.9Z" fill="#e63b27" filter="url(#bl)"/>
</g>
<path d="M346.9,107.4 V145.4 M318.9,145.4 H385.7 M350.3,145.4 V174.6" stroke="#000" stroke-width="2" fill="none"/>
<path d="M318.9,182.4 H385.7 V249.6" fill="none" stroke="#9a9a9a" stroke-width="0.8"/>
<path d="M316.5,189.1h2.4M316.5,202.6h2.4M316.5,218.7h2.4M316.5,234.1h2.4M316.5,240.2h2.4M317.6,193.8h1.3M317.6,197.2h1.3M317.6,199.2h1.3M317.6,207.3h1.3M317.6,210.6h1.3M317.6,213.3h1.3M317.6,215.3h1.3M317.6,223.4h1.3M317.6,226.8h1.3M317.6,228.8h1.3M317.6,230.8h1.3M317.6,236.8h1.3M317.6,238.8h1.3M317.6,242.9h1.3M317.6,244.9h1.3M317.6,246.9h1.3" stroke="#111" stroke-width="0.7" fill="none"/>
<text x="311.7" y="190.5" font-size="3.4" fill="#999" stroke="none">10<tspan font-size="2.6" dy="-1.3">5</tspan></text><text x="311.7" y="204.0" font-size="3.4" fill="#999" stroke="none">10<tspan font-size="2.6" dy="-1.3">4</tspan></text><text x="311.7" y="220.1" font-size="3.4" fill="#999" stroke="none">10<tspan font-size="2.6" dy="-1.3">3</tspan></text><text x="311.7" y="235.5" font-size="3.4" fill="#999" stroke="none">10<tspan font-size="2.6" dy="-1.3">2</tspan></text><text x="314.7" y="241.6" font-size="3.4" fill="#999" stroke="none">0</text>
<path d="M320.9,249.6v1.5M323.6,249.6v1.5M325.6,249.6v1.5M327.6,249.6v1.5M329.6,249.6v1.5M334.9,249.6v1.5M337.6,249.6v1.5M339.6,249.6v1.5M341.6,249.6v1.5M343.6,249.6v1.5M345.0,249.6v1.5M349.0,249.6v1.5M351.0,249.6v1.5M353.6,249.6v1.5M355.6,249.6v1.5M357.6,249.6v1.5M359.0,249.6v1.5M360.3,249.6v1.5M365.0,249.6v1.5M367.0,249.6v1.5M369.7,249.6v1.5M371.7,249.6v1.5M373.7,249.6v1.5M375.0,249.6v1.5M376.3,249.6v1.5M381.0,249.6v1.5M383.0,249.6v1.5M332.3,249.6v2.6M347.0,249.6v2.6M363.0,249.6v2.6M379.0,249.6v2.6" stroke="#111" stroke-width="0.8" fill="none"/>
<text x="331.3" y="255.8" font-size="3.4" fill="#aaa" stroke="none">0</text><text x="344.4" y="255.8" font-size="3.4" fill="#aaa" stroke="none">10<tspan font-size="2.6" dy="-1.3">3</tspan></text><text x="360.4" y="255.8" font-size="3.4" fill="#aaa" stroke="none">10<tspan font-size="2.6" dy="-1.3">4</tspan></text><text x="376.4" y="255.8" font-size="3.4" fill="#aaa" stroke="none">10<tspan font-size="2.6" dy="-1.3">5</tspan></text>
<path d="M318.9,182.4 V249.6 H385.7" fill="none" stroke="#111" stroke-width="1.3"/>
<g opacity="1.0">
<path d="M359.9,250.1 L358.4,250.3 L355.9,250.2 L354.4,249.7 L353.4,249.0 L351.7,246.4 L349.9,240.6 L349.4,239.9 L348.9,240.1 L346.7,242.9 L345.4,244.0 L342.9,245.0 L340.4,245.5 L333.9,245.6 L329.9,245.2 L326.9,244.1 L324.8,242.4 L323.6,240.4 L322.9,237.9 L322.6,229.4 L323.3,225.4 L325.8,221.4 L326.1,220.4 L325.7,219.4 L323.7,216.9 L322.7,214.9 L322.0,212.9 L321.7,210.4 L322.3,207.4 L323.1,205.9 L324.4,204.6 L327.9,202.8 L332.9,201.7 L354.9,201.1 L358.4,201.5 L360.9,202.2 L363.4,203.6 L365.3,205.4 L366.6,207.9 L367.0,210.9 L366.3,214.9 L364.4,218.4 L363.9,219.9 L365.2,229.9 L365.2,235.4 L364.8,240.4 L364.1,243.9 L363.2,246.9 L361.9,248.8 L359.9,250.1Z" fill="#a8b8ea" filter="url(#g1)"/>
<path d="M359.4,248.5 L357.4,248.6 L355.4,248.3 L353.9,247.4 L353.0,246.4 L352.3,244.9 L351.5,242.4 L350.3,234.4 L349.9,233.3 L349.4,233.1 L348.4,234.7 L347.2,238.4 L346.3,240.4 L344.9,242.0 L342.4,243.4 L338.4,244.0 L331.4,243.8 L328.4,242.9 L327.0,241.9 L326.0,240.9 L325.0,238.9 L324.5,236.9 L324.2,231.4 L324.3,228.4 L324.8,226.4 L325.5,224.9 L328.8,221.4 L329.2,220.4 L328.6,219.4 L325.2,215.9 L324.2,213.9 L323.6,211.9 L323.4,209.9 L323.6,208.4 L324.4,206.8 L325.9,205.2 L328.9,203.6 L333.4,202.6 L354.9,202.0 L357.4,202.2 L360.4,203.1 L362.4,204.2 L364.1,205.9 L365.2,207.9 L365.7,210.9 L365.0,214.4 L362.9,218.4 L362.7,219.4 L362.8,220.9 L364.1,225.9 L364.5,229.4 L364.5,233.9 L364.2,238.9 L363.6,242.4 L362.7,245.4 L361.4,247.3 L359.4,248.5ZM350.7,222.9 L350.8,222.4 L350.5,221.9 L349.9,221.8 L349.4,222.0 L349.4,222.9 L349.9,223.3 L350.4,223.3 L350.7,222.9Z" fill="#7691dc" filter="url(#g2)"/>
<path d="M359.4,246.6 L356.9,246.7 L354.9,246.1 L353.4,244.4 L352.6,242.4 L351.8,237.9 L351.1,228.9 L351.6,225.9 L353.1,221.4 L352.5,220.4 L351.4,220.0 L347.9,219.9 L345.9,220.4 L345.1,220.9 L345.4,221.9 L348.1,225.4 L348.6,226.9 L348.6,228.4 L345.1,237.9 L343.4,240.3 L341.9,241.2 L339.9,241.8 L333.9,241.9 L330.4,241.3 L328.9,240.5 L327.9,239.5 L327.1,237.9 L326.5,235.4 L326.2,230.4 L326.6,227.4 L327.3,225.9 L328.5,224.4 L333.4,221.4 L333.9,220.9 L334.0,220.4 L333.6,219.9 L328.4,216.7 L327.1,215.4 L325.9,213.4 L325.2,211.4 L325.2,209.4 L325.9,207.4 L327.3,205.9 L329.9,204.5 L333.9,203.6 L346.4,203.5 L354.9,202.9 L357.4,203.1 L359.4,203.7 L361.4,204.8 L363.1,206.4 L364.3,208.9 L364.5,210.4 L364.3,212.4 L363.7,214.4 L361.5,217.9 L360.9,219.4 L362.7,223.9 L363.5,227.4 L363.8,231.4 L363.6,236.4 L363.1,240.4 L362.3,243.4 L360.9,245.6 L359.4,246.6Z" fill="#4565cc" filter="url(#g3)"/>
<path d="M356.9,218.5 L354.9,218.6 L348.4,217.9 L339.4,218.0 L336.4,217.7 L333.9,217.1 L330.9,215.6 L328.9,213.7 L327.6,211.4 L327.5,209.9 L327.7,208.9 L328.6,207.4 L329.9,206.4 L331.9,205.5 L333.9,205.1 L337.4,204.9 L345.9,205.1 L354.4,204.1 L356.4,204.2 L358.4,204.7 L360.4,205.7 L362.0,207.4 L362.9,209.4 L363.0,211.4 L362.5,213.4 L361.3,215.4 L358.9,217.6 L356.9,218.5ZM358.9,244.0 L356.4,243.9 L355.4,243.4 L354.4,242.2 L353.3,238.9 L352.7,234.4 L352.7,229.4 L353.3,225.9 L354.9,223.1 L355.9,222.1 L357.4,221.5 L358.4,221.6 L359.4,222.0 L360.9,223.5 L362.1,226.4 L362.7,229.9 L362.6,235.4 L361.9,239.9 L360.5,242.9 L358.9,244.0ZM339.4,237.0 L337.4,237.3 L334.9,237.3 L333.4,237.0 L332.4,236.4 L331.5,235.4 L330.9,234.2 L330.0,231.4 L329.8,229.4 L330.1,227.9 L330.6,226.9 L332.4,225.2 L335.9,223.7 L339.4,223.2 L341.9,223.5 L343.9,224.5 L345.1,225.9 L345.7,227.9 L345.3,229.9 L343.9,232.3 L341.4,235.5 L339.4,237.0Z" fill="#3c74d0" filter="url(#g3)"/>
<path d="M355.9,216.9 L352.9,216.9 L345.9,215.5 L338.4,215.6 L334.9,215.0 L332.5,213.9 L330.9,212.6 L329.9,210.9 L329.9,209.4 L330.4,208.4 L331.4,207.6 L334.4,206.5 L337.9,206.4 L345.4,207.3 L352.9,205.3 L355.4,205.1 L357.4,205.4 L359.4,206.4 L360.9,207.9 L361.6,209.4 L361.7,211.4 L361.1,213.4 L359.9,215.0 L357.9,216.4 L355.9,216.9ZM358.4,241.5 L357.4,241.5 L356.4,241.1 L355.0,239.4 L354.1,236.4 L353.8,232.4 L354.0,228.9 L354.7,226.4 L355.9,224.8 L356.9,224.1 L357.9,223.9 L359.4,224.4 L360.6,225.9 L361.4,228.4 L361.8,231.4 L361.6,235.4 L360.9,238.6 L359.9,240.5 L358.4,241.5ZM339.4,230.5 L337.4,230.3 L336.1,229.4 L335.8,228.9 L335.9,227.9 L336.7,226.9 L337.9,226.3 L339.4,226.2 L340.6,226.4 L341.4,227.0 L341.8,227.9 L341.7,228.9 L340.8,229.9 L339.4,230.5Z" fill="#44b0c9" filter="url(#bl)"/>
<path d="M356.9,215.6 L354.9,215.9 L352.9,215.7 L350.9,215.0 L349.4,214.0 L348.4,212.9 L347.9,211.4 L348.0,209.9 L348.5,208.9 L350.4,207.3 L353.4,206.1 L356.4,206.1 L358.9,207.2 L359.9,208.2 L360.5,209.4 L360.7,210.4 L360.6,211.9 L359.4,214.0 L358.4,214.9 L356.9,215.6ZM337.4,212.5 L335.4,212.5 L333.9,211.9 L332.8,210.9 L332.6,209.9 L332.8,209.4 L333.9,208.6 L335.4,208.2 L337.4,208.4 L338.9,208.9 L339.8,209.9 L339.8,210.9 L338.9,211.9 L337.4,212.5ZM357.9,238.9 L356.7,238.4 L355.7,236.9 L355.1,234.9 L354.9,231.9 L355.0,229.9 L355.6,227.9 L356.4,226.8 L357.9,226.1 L358.9,226.4 L359.9,227.5 L360.5,229.4 L360.8,231.9 L360.6,234.9 L359.9,237.3 L358.9,238.6 L357.9,238.9Z" fill="#72c55c" filter="url(#bl)"/>
<path d="M356.4,214.5 L354.9,214.7 L353.4,214.5 L352.1,213.9 L351.0,212.9 L350.5,211.9 L350.3,210.4 L350.9,208.9 L352.0,207.9 L353.9,207.1 L355.9,207.0 L357.9,207.7 L359.1,208.9 L359.6,210.4 L359.2,212.4 L357.9,213.8 L356.4,214.5ZM358.4,235.0 L357.9,235.2 L357.4,234.9 L356.8,233.9 L356.5,232.4 L356.9,230.1 L357.4,229.5 L357.9,229.2 L358.4,229.4 L358.9,230.0 L359.3,231.4 L359.2,233.4 L358.4,235.0Z" fill="#c3d63a" filter="url(#bl)"/>
<path d="M356.4,213.6 L355.4,213.8 L353.9,213.6 L352.2,212.4 L351.7,211.4 L351.7,210.4 L352.0,209.4 L352.9,208.5 L354.4,207.9 L355.9,207.9 L357.3,208.4 L358.3,209.4 L358.6,210.4 L358.4,211.9 L357.6,212.9 L356.4,213.6Z" fill="#eed830" filter="url(#bl)"/>
<path d="M356.4,212.6 L354.9,212.8 L353.4,212.0 L352.9,210.9 L353.4,209.4 L354.4,208.8 L355.4,208.7 L356.4,208.9 L357.1,209.4 L357.5,209.9 L357.7,210.9 L357.3,211.9 L356.4,212.6Z" fill="#f49a28" filter="url(#bl)"/>
<path d="M355.9,211.6 L355.4,211.7 L354.5,211.4 L354.2,210.9 L354.4,210.2 L354.9,209.8 L356.0,209.9 L356.4,210.4 L356.5,210.9 L355.9,211.6Z" fill="#e63b27" filter="url(#bl)"/>
</g>
<path d="M346.9,182.4 V219.9 M318.9,219.9 H385.7 M350.0,219.9 V249.6" stroke="#000" stroke-width="2" fill="none"/>
<path d="M395.6,32.4 H461.5 V100.4" fill="none" stroke="#9a9a9a" stroke-width="0.8"/>
<path d="M393.2,39.2h2.4M393.2,52.8h2.4M393.2,69.1h2.4M393.2,84.8h2.4M393.2,90.9h2.4M394.3,44.0h1.3M394.3,47.4h1.3M394.3,49.4h1.3M394.3,57.6h1.3M394.3,61.0h1.3M394.3,63.7h1.3M394.3,65.7h1.3M394.3,73.9h1.3M394.3,77.3h1.3M394.3,79.3h1.3M394.3,81.4h1.3M394.3,87.5h1.3M394.3,89.5h1.3M394.3,93.6h1.3M394.3,95.6h1.3M394.3,97.7h1.3" stroke="#111" stroke-width="0.7" fill="none"/>
<text x="388.4" y="40.6" font-size="3.4" fill="#999" stroke="none">10<tspan font-size="2.6" dy="-1.3">5</tspan></text><text x="388.4" y="54.2" font-size="3.4" fill="#999" stroke="none">10<tspan font-size="2.6" dy="-1.3">4</tspan></text><text x="388.4" y="70.5" font-size="3.4" fill="#999" stroke="none">10<tspan font-size="2.6" dy="-1.3">3</tspan></text><text x="388.4" y="86.2" font-size="3.4" fill="#999" stroke="none">10<tspan font-size="2.6" dy="-1.3">2</tspan></text><text x="391.4" y="92.3" font-size="3.4" fill="#999" stroke="none">0</text>
<path d="M397.6,100.4v1.5M400.2,100.4v1.5M402.2,100.4v1.5M404.2,100.4v1.5M406.1,100.4v1.5M411.4,100.4v1.5M414.1,100.4v1.5M416.0,100.4v1.5M418.0,100.4v1.5M420.0,100.4v1.5M421.3,100.4v1.5M425.3,100.4v1.5M427.2,100.4v1.5M429.9,100.4v1.5M431.8,100.4v1.5M433.8,100.4v1.5M435.1,100.4v1.5M436.5,100.4v1.5M441.1,100.4v1.5M443.0,100.4v1.5M445.7,100.4v1.5M447.7,100.4v1.5M449.6,100.4v1.5M451.0,100.4v1.5M452.3,100.4v1.5M456.9,100.4v1.5M458.9,100.4v1.5M408.8,100.4v2.6M423.3,100.4v2.6M439.1,100.4v2.6M454.9,100.4v2.6" stroke="#111" stroke-width="0.8" fill="none"/>
<text x="407.8" y="106.6" font-size="3.4" fill="#aaa" stroke="none">0</text><text x="420.7" y="106.6" font-size="3.4" fill="#aaa" stroke="none">10<tspan font-size="2.6" dy="-1.3">3</tspan></text><text x="436.5" y="106.6" font-size="3.4" fill="#aaa" stroke="none">10<tspan font-size="2.6" dy="-1.3">4</tspan></text><text x="452.3" y="106.6" font-size="3.4" fill="#aaa" stroke="none">10<tspan font-size="2.6" dy="-1.3">5</tspan></text>
<path d="M395.6,32.4 V100.4 H461.5" fill="none" stroke="#111" stroke-width="1.3"/>
<g filter="url(#hz)" opacity="0.55"><ellipse cx="414" cy="61" rx="7" ry="4.5" fill="#c4cae4"/><ellipse cx="426" cy="62" rx="7" ry="5" fill="#c4cae4"/><ellipse cx="430" cy="80" rx="3.5" ry="7" fill="#c8cce0"/></g>
<path d="M431.6,65.3h1.1v1.1h-1.1zM427.1,81.4h1.1v1.1h-1.1zM425.9,74.7h1.1v1.1h-1.1zM408.1,59.8h1.1v1.1h-1.1zM433.6,60.0h1.1v1.1h-1.1zM433.1,80.1h1.1v1.1h-1.1zM414.0,52.9h1.1v1.1h-1.1zM430.0,77.2h1.1v1.1h-1.1zM429.7,76.1h1.1v1.1h-1.1zM406.5,62.9h1.1v1.1h-1.1zM407.4,61.3h1.1v1.1h-1.1zM417.8,60.8h1.1v1.1h-1.1zM427.6,60.2h1.1v1.1h-1.1zM419.9,62.0h1.1v1.1h-1.1zM438.0,63.2h1.1v1.1h-1.1zM419.1,64.0h1.1v1.1h-1.1zM432.4,90.4h1.1v1.1h-1.1zM433.3,75.1h1.1v1.1h-1.1zM428.3,64.8h1.1v1.1h-1.1zM432.8,88.2h1.1v1.1h-1.1zM427.5,59.5h1.1v1.1h-1.1zM411.9,58.7h1.1v1.1h-1.1zM421.6,64.8h1.1v1.1h-1.1zM426.6,55.9h1.1v1.1h-1.1zM439.1,55.8h1.1v1.1h-1.1zM415.8,63.5h1.1v1.1h-1.1zM436.5,62.8h1.1v1.1h-1.1zM428.0,82.8h1.1v1.1h-1.1zM411.2,65.3h1.1v1.1h-1.1zM415.1,63.9h1.1v1.1h-1.1zM427.4,63.2h1.1v1.1h-1.1zM423.8,60.1h1.1v1.1h-1.1zM421.7,54.4h1.1v1.1h-1.1zM410.9,59.3h1.1v1.1h-1.1zM425.3,66.5h1.1v1.1h-1.1zM416.3,59.8h1.1v1.1h-1.1zM423.4,61.0h1.1v1.1h-1.1zM417.2,52.4h1.1v1.1h-1.1zM429.7,78.1h1.1v1.1h-1.1zM437.4,58.9h1.1v1.1h-1.1zM411.6,60.5h1.1v1.1h-1.1zM430.2,80.1h1.1v1.1h-1.1zM411.2,63.3h1.1v1.1h-1.1zM427.9,79.2h1.1v1.1h-1.1zM424.8,65.0h1.1v1.1h-1.1zM412.0,70.7h1.1v1.1h-1.1zM422.0,57.4h1.1v1.1h-1.1zM407.5,63.4h1.1v1.1h-1.1zM409.1,62.9h1.1v1.1h-1.1zM430.4,79.6h1.1v1.1h-1.1zM418.3,61.5h1.1v1.1h-1.1zM430.1,64.5h1.1v1.1h-1.1zM427.8,56.6h1.1v1.1h-1.1zM408.1,61.7h1.1v1.1h-1.1zM421.0,60.9h1.1v1.1h-1.1zM428.9,58.6h1.1v1.1h-1.1zM433.7,76.6h1.1v1.1h-1.1zM429.2,60.9h1.1v1.1h-1.1zM430.9,87.4h1.1v1.1h-1.1zM425.0,64.0h1.1v1.1h-1.1zM412.4,64.7h1.1v1.1h-1.1zM422.7,65.5h1.1v1.1h-1.1zM424.4,66.2h1.1v1.1h-1.1zM429.5,58.7h1.1v1.1h-1.1zM416.2,62.7h1.1v1.1h-1.1zM418.5,59.6h1.1v1.1h-1.1zM418.2,62.0h1.1v1.1h-1.1zM427.7,57.0h1.1v1.1h-1.1zM427.3,86.0h1.1v1.1h-1.1zM426.9,59.7h1.1v1.1h-1.1zM417.4,66.6h1.1v1.1h-1.1zM435.0,60.8h1.1v1.1h-1.1zM433.3,79.4h1.1v1.1h-1.1zM427.3,65.6h1.1v1.1h-1.1zM412.7,58.8h1.1v1.1h-1.1zM437.0,78.2h1.1v1.1h-1.1zM430.6,84.1h1.1v1.1h-1.1zM432.7,81.3h1.1v1.1h-1.1zM431.2,64.1h1.1v1.1h-1.1zM424.9,58.3h1.1v1.1h-1.1zM411.5,59.4h1.1v1.1h-1.1zM429.3,82.6h1.1v1.1h-1.1zM418.4,63.9h1.1v1.1h-1.1zM426.7,59.2h1.1v1.1h-1.1zM433.2,80.2h1.1v1.1h-1.1zM425.7,65.7h1.1v1.1h-1.1zM430.7,63.5h1.1v1.1h-1.1zM426.7,61.0h1.1v1.1h-1.1zM424.0,61.7h1.1v1.1h-1.1zM417.9,60.2h1.1v1.1h-1.1z" fill="#a8b0cc" opacity="0.8"/>
<path d="M419.2,32.4 V73.0 M395.6,73.0 H461.5 M422.4,73.0 V100.4" stroke="#000" stroke-width="2" fill="none"/>
<path d="M395.6,107.4 H461.5 V174.6" fill="none" stroke="#9a9a9a" stroke-width="0.8"/>
<path d="M393.2,114.1h2.4M393.2,127.6h2.4M393.2,143.7h2.4M393.2,159.1h2.4M393.2,165.2h2.4M394.3,118.8h1.3M394.3,122.2h1.3M394.3,124.2h1.3M394.3,132.3h1.3M394.3,135.6h1.3M394.3,138.3h1.3M394.3,140.3h1.3M394.3,148.4h1.3M394.3,151.8h1.3M394.3,153.8h1.3M394.3,155.8h1.3M394.3,161.8h1.3M394.3,163.8h1.3M394.3,167.9h1.3M394.3,169.9h1.3M394.3,171.9h1.3" stroke="#111" stroke-width="0.7" fill="none"/>
<text x="388.4" y="115.5" font-size="3.4" fill="#999" stroke="none">10<tspan font-size="2.6" dy="-1.3">5</tspan></text><text x="388.4" y="129.0" font-size="3.4" fill="#999" stroke="none">10<tspan font-size="2.6" dy="-1.3">4</tspan></text><text x="388.4" y="145.1" font-size="3.4" fill="#999" stroke="none">10<tspan font-size="2.6" dy="-1.3">3</tspan></text><text x="388.4" y="160.5" font-size="3.4" fill="#999" stroke="none">10<tspan font-size="2.6" dy="-1.3">2</tspan></text><text x="391.4" y="166.6" font-size="3.4" fill="#999" stroke="none">0</text>
<path d="M397.6,174.6v1.5M400.2,174.6v1.5M402.2,174.6v1.5M404.2,174.6v1.5M406.1,174.6v1.5M411.4,174.6v1.5M414.1,174.6v1.5M416.0,174.6v1.5M418.0,174.6v1.5M420.0,174.6v1.5M421.3,174.6v1.5M425.3,174.6v1.5M427.2,174.6v1.5M429.9,174.6v1.5M431.8,174.6v1.5M433.8,174.6v1.5M435.1,174.6v1.5M436.5,174.6v1.5M441.1,174.6v1.5M443.0,174.6v1.5M445.7,174.6v1.5M447.7,174.6v1.5M449.6,174.6v1.5M451.0,174.6v1.5M452.3,174.6v1.5M456.9,174.6v1.5M458.9,174.6v1.5M408.8,174.6v2.6M423.3,174.6v2.6M439.1,174.6v2.6M454.9,174.6v2.6" stroke="#111" stroke-width="0.8" fill="none"/>
<text x="407.8" y="180.8" font-size="3.4" fill="#aaa" stroke="none">0</text><text x="420.7" y="180.8" font-size="3.4" fill="#aaa" stroke="none">10<tspan font-size="2.6" dy="-1.3">3</tspan></text><text x="436.5" y="180.8" font-size="3.4" fill="#aaa" stroke="none">10<tspan font-size="2.6" dy="-1.3">4</tspan></text><text x="452.3" y="180.8" font-size="3.4" fill="#aaa" stroke="none">10<tspan font-size="2.6" dy="-1.3">5</tspan></text>
<path d="M395.6,107.4 V174.6 H461.5" fill="none" stroke="#111" stroke-width="1.3"/>
<g opacity="1.0">
<path d="M435.1,172.0 L431.6,172.1 L429.1,171.8 L427.1,170.7 L425.8,168.9 L424.8,165.9 L424.3,161.4 L424.3,154.4 L425.1,148.4 L424.4,147.4 L422.6,146.8 L421.6,146.9 L421.1,147.2 L420.7,147.9 L421.3,154.9 L421.0,161.4 L420.2,165.9 L418.6,169.0 L417.1,170.4 L415.6,171.2 L411.6,171.6 L409.1,171.5 L407.1,171.0 L405.6,170.2 L404.4,168.9 L403.3,166.9 L402.5,163.9 L402.1,154.9 L402.5,150.9 L404.1,145.4 L403.0,139.9 L403.2,134.9 L404.1,132.4 L405.6,130.8 L408.1,129.8 L410.6,129.6 L415.1,129.7 L420.1,130.7 L426.1,130.1 L434.1,130.2 L438.1,131.0 L439.6,131.9 L440.9,133.4 L442.0,135.9 L442.4,138.9 L441.7,142.4 L439.2,146.9 L440.3,151.4 L440.6,153.9 L440.7,160.4 L440.4,164.9 L439.7,167.9 L438.6,169.9 L437.1,171.3 L435.1,172.0Z" fill="#a8b8ea" filter="url(#g1)"/>
<path d="M435.1,170.0 L432.1,170.2 L429.6,169.9 L428.1,169.1 L426.7,167.4 L426.0,165.4 L425.7,163.4 L425.5,156.4 L425.8,152.4 L427.1,148.4 L427.1,147.4 L425.7,146.4 L421.1,145.1 L419.6,145.4 L418.9,146.4 L420.0,152.4 L420.2,157.4 L419.4,163.9 L418.8,165.9 L418.0,167.4 L417.1,168.4 L415.6,169.4 L414.1,169.8 L412.1,170.0 L409.6,169.9 L407.6,169.4 L406.1,168.5 L405.1,167.4 L404.1,165.4 L403.5,162.9 L403.1,154.9 L403.7,150.4 L405.5,145.9 L403.9,140.9 L403.8,135.9 L404.5,133.4 L406.1,131.5 L408.1,130.6 L410.6,130.3 L415.1,130.6 L420.1,132.1 L426.1,131.0 L433.6,131.0 L437.1,131.6 L438.6,132.4 L439.7,133.4 L440.6,134.9 L441.3,136.9 L441.3,140.4 L440.4,142.9 L437.5,146.4 L437.2,147.4 L438.6,150.4 L439.3,153.4 L439.5,157.9 L439.3,163.4 L438.8,165.9 L438.0,167.9 L436.6,169.3 L435.1,170.0Z" fill="#7691dc" filter="url(#g2)"/>
<path d="M414.1,168.0 L410.6,168.2 L407.8,167.4 L406.1,165.8 L404.9,162.9 L404.3,157.4 L404.5,152.9 L405.3,149.9 L407.1,146.9 L407.5,145.9 L405.3,142.4 L404.6,139.9 L404.5,136.4 L404.8,134.9 L405.5,133.4 L406.4,132.4 L407.6,131.7 L410.6,131.1 L413.6,131.3 L415.6,131.7 L419.1,133.7 L420.1,134.0 L425.1,132.2 L428.6,131.8 L434.1,131.9 L436.1,132.2 L437.6,132.9 L438.8,133.9 L439.8,135.4 L440.3,136.9 L440.5,138.9 L440.2,140.9 L439.6,142.4 L438.6,143.7 L437.1,144.9 L434.1,145.9 L430.1,146.0 L425.6,145.1 L420.1,143.1 L418.6,143.5 L416.7,145.4 L416.6,146.4 L418.2,149.9 L418.9,152.4 L419.1,155.9 L418.9,159.9 L418.3,162.9 L417.4,165.4 L416.1,167.0 L414.1,168.0ZM434.6,167.4 L431.6,167.6 L429.6,167.1 L428.3,165.9 L427.5,163.9 L427.1,159.4 L427.4,153.4 L427.9,151.9 L428.6,150.7 L429.6,149.9 L430.6,149.5 L433.6,149.4 L435.6,150.0 L436.9,151.4 L437.6,153.4 L437.9,158.9 L437.6,163.6 L436.6,166.0 L435.6,167.0 L434.6,167.4Z" fill="#4565cc" filter="url(#g3)"/>
<path d="M412.6,144.5 L410.1,144.4 L408.1,143.6 L406.7,142.4 L405.9,140.9 L405.4,138.4 L405.8,135.4 L407.1,133.4 L408.6,132.6 L412.1,132.3 L415.1,133.0 L416.9,134.4 L418.3,136.9 L418.5,139.4 L417.1,141.9 L415.1,143.6 L412.6,144.5ZM434.1,144.4 L431.6,144.6 L428.1,144.2 L426.1,143.7 L424.1,142.6 L422.3,140.9 L421.5,139.4 L421.5,137.9 L422.2,136.4 L423.6,134.9 L424.6,134.2 L428.1,133.1 L433.6,133.0 L435.6,133.4 L437.1,134.2 L438.3,135.4 L439.0,136.9 L439.3,138.9 L439.1,140.4 L438.4,141.9 L437.1,143.2 L435.6,144.0 L434.1,144.4ZM414.1,164.9 L412.6,165.3 L411.1,165.3 L409.6,165.0 L408.6,164.4 L407.1,162.5 L406.3,159.9 L406.0,154.9 L406.7,151.4 L407.5,149.9 L408.6,148.8 L411.1,147.5 L413.1,147.5 L415.1,148.7 L416.6,150.7 L417.4,153.4 L417.5,156.9 L416.9,160.9 L415.8,163.4 L414.1,164.9Z" fill="#3c74d0" filter="url(#g3)"/>
<path d="M412.6,142.9 L410.6,143.1 L409.1,142.7 L407.6,141.7 L406.7,140.4 L406.3,138.4 L406.6,135.9 L407.6,134.4 L409.1,133.5 L411.1,133.2 L413.6,133.6 L415.4,134.9 L416.3,136.4 L416.5,138.9 L415.8,140.9 L414.6,142.1 L412.6,142.9ZM433.6,143.4 L431.6,143.5 L429.1,143.2 L427.1,142.6 L425.6,141.6 L424.7,140.4 L424.3,138.9 L424.5,137.4 L425.4,135.9 L427.6,134.5 L431.1,133.9 L434.6,134.2 L436.8,135.4 L437.6,136.4 L438.1,137.9 L437.9,140.4 L437.4,141.4 L436.4,142.4 L435.1,143.1 L433.6,143.4ZM413.1,161.9 L411.1,162.1 L409.6,161.2 L408.5,159.4 L407.9,156.9 L407.9,154.4 L408.6,152.1 L410.1,150.4 L411.6,149.9 L413.1,150.1 L414.4,150.9 L415.3,152.4 L415.8,154.4 L415.8,156.9 L415.2,159.4 L414.4,160.9 L413.1,161.9Z" fill="#44b0c9" filter="url(#bl)"/>
<path d="M412.1,142.0 L410.6,142.1 L409.1,141.7 L408.0,140.9 L407.2,139.4 L407.1,137.4 L407.5,135.9 L408.3,134.9 L409.6,134.2 L411.1,134.0 L413.1,134.5 L414.4,135.4 L415.2,136.9 L415.3,138.9 L414.7,140.4 L413.6,141.4 L412.1,142.0ZM434.1,142.5 L432.6,142.7 L430.6,142.6 L428.6,142.0 L427.5,141.4 L426.5,140.4 L426.1,139.4 L426.2,137.9 L426.6,136.9 L428.1,135.6 L430.6,134.9 L433.6,134.9 L435.6,135.7 L437.0,137.4 L437.2,139.4 L436.9,140.4 L436.1,141.4 L434.1,142.5ZM412.6,158.0 L412.1,158.2 L411.1,157.8 L410.6,157.3 L410.1,155.9 L410.5,153.9 L411.6,152.9 L412.6,153.0 L413.1,153.4 L413.6,154.4 L413.6,156.5 L412.6,158.0Z" fill="#72c55c" filter="url(#bl)"/>
<path d="M412.1,141.0 L410.6,141.2 L409.6,140.9 L408.8,140.4 L408.1,139.4 L407.9,138.4 L408.0,136.9 L408.6,135.9 L409.6,135.1 L410.6,134.9 L412.1,135.1 L413.4,135.9 L414.0,136.9 L414.2,138.4 L413.9,139.4 L413.2,140.4 L412.1,141.0ZM434.1,141.5 L431.6,141.8 L428.9,140.9 L427.8,139.4 L427.7,138.4 L428.1,137.4 L429.3,136.4 L431.1,135.8 L433.1,135.8 L434.8,136.4 L436.1,137.9 L436.2,139.4 L435.6,140.5 L434.1,141.5Z" fill="#c3d63a" filter="url(#bl)"/>
<path d="M411.1,140.4 L410.1,140.3 L409.4,139.9 L408.6,138.4 L408.6,137.4 L409.1,136.4 L410.6,135.6 L411.6,135.7 L412.6,136.3 L413.1,136.9 L413.4,137.9 L413.2,138.9 L412.6,139.8 L411.1,140.4ZM433.1,141.0 L431.1,140.9 L429.4,139.9 L429.0,138.4 L429.6,137.4 L430.6,136.8 L432.1,136.5 L433.6,136.7 L434.7,137.4 L435.2,138.4 L435.2,139.4 L434.4,140.4 L433.1,141.0Z" fill="#eed830" filter="url(#bl)"/>
<path d="M411.6,139.5 L410.6,139.6 L409.5,138.9 L409.4,137.4 L410.1,136.6 L411.6,136.6 L412.4,137.4 L412.5,138.4 L411.6,139.5ZM433.6,139.9 L432.6,140.2 L431.1,140.0 L430.4,139.4 L430.3,138.4 L430.6,137.9 L431.6,137.4 L433.1,137.4 L434.2,138.4 L434.1,139.4 L433.6,139.9Z" fill="#f49a28" filter="url(#bl)"/>
<path d="M411.1,138.7 L410.3,138.4 L410.2,137.9 L410.6,137.3 L411.2,137.4 L411.6,137.9 L411.1,138.7Z" fill="#e63b27" filter="url(#bl)"/>
</g>
<path d="M420.7,107.4 V145.7 M395.6,145.7 H461.5 M423.8,145.7 V174.6" stroke="#000" stroke-width="2" fill="none"/>
<path d="M395.6,182.4 H461.5 V249.6" fill="none" stroke="#9a9a9a" stroke-width="0.8"/>
<path d="M393.2,189.1h2.4M393.2,202.6h2.4M393.2,218.7h2.4M393.2,234.1h2.4M393.2,240.2h2.4M394.3,193.8h1.3M394.3,197.2h1.3M394.3,199.2h1.3M394.3,207.3h1.3M394.3,210.6h1.3M394.3,213.3h1.3M394.3,215.3h1.3M394.3,223.4h1.3M394.3,226.8h1.3M394.3,228.8h1.3M394.3,230.8h1.3M394.3,236.8h1.3M394.3,238.8h1.3M394.3,242.9h1.3M394.3,244.9h1.3M394.3,246.9h1.3" stroke="#111" stroke-width="0.7" fill="none"/>
<text x="388.4" y="190.5" font-size="3.4" fill="#999" stroke="none">10<tspan font-size="2.6" dy="-1.3">5</tspan></text><text x="388.4" y="204.0" font-size="3.4" fill="#999" stroke="none">10<tspan font-size="2.6" dy="-1.3">4</tspan></text><text x="388.4" y="220.1" font-size="3.4" fill="#999" stroke="none">10<tspan font-size="2.6" dy="-1.3">3</tspan></text><text x="388.4" y="235.5" font-size="3.4" fill="#999" stroke="none">10<tspan font-size="2.6" dy="-1.3">2</tspan></text><text x="391.4" y="241.6" font-size="3.4" fill="#999" stroke="none">0</text>
<path d="M397.6,249.6v1.5M400.2,249.6v1.5M402.2,249.6v1.5M404.2,249.6v1.5M406.1,249.6v1.5M411.4,249.6v1.5M414.1,249.6v1.5M416.0,249.6v1.5M418.0,249.6v1.5M420.0,249.6v1.5M421.3,249.6v1.5M425.3,249.6v1.5M427.2,249.6v1.5M429.9,249.6v1.5M431.8,249.6v1.5M433.8,249.6v1.5M435.1,249.6v1.5M436.5,249.6v1.5M441.1,249.6v1.5M443.0,249.6v1.5M445.7,249.6v1.5M447.7,249.6v1.5M449.6,249.6v1.5M451.0,249.6v1.5M452.3,249.6v1.5M456.9,249.6v1.5M458.9,249.6v1.5M408.8,249.6v2.6M423.3,249.6v2.6M439.1,249.6v2.6M454.9,249.6v2.6" stroke="#111" stroke-width="0.8" fill="none"/>
<text x="407.8" y="255.8" font-size="3.4" fill="#aaa" stroke="none">0</text><text x="420.7" y="255.8" font-size="3.4" fill="#aaa" stroke="none">10<tspan font-size="2.6" dy="-1.3">3</tspan></text><text x="436.5" y="255.8" font-size="3.4" fill="#aaa" stroke="none">10<tspan font-size="2.6" dy="-1.3">4</tspan></text><text x="452.3" y="255.8" font-size="3.4" fill="#aaa" stroke="none">10<tspan font-size="2.6" dy="-1.3">5</tspan></text>
<path d="M395.6,182.4 V249.6 H461.5" fill="none" stroke="#111" stroke-width="1.3"/>
<g opacity="1.0">
<path d="M436.1,247.9 L433.1,248.0 L430.1,247.4 L428.2,245.9 L427.1,243.9 L426.2,239.4 L426.0,231.9 L426.3,226.4 L427.2,221.9 L426.7,220.9 L425.4,220.4 L422.6,220.1 L421.6,220.4 L421.1,220.9 L421.0,221.9 L421.7,228.4 L421.5,235.4 L420.8,238.9 L420.1,240.4 L419.0,241.9 L417.6,243.0 L416.1,243.6 L414.1,243.9 L410.6,243.9 L407.1,243.3 L405.6,242.5 L404.5,241.4 L403.4,239.4 L402.7,236.9 L402.4,233.4 L402.3,227.9 L402.8,223.9 L404.2,219.9 L403.2,214.4 L403.2,208.9 L404.1,206.4 L405.6,204.7 L407.6,203.8 L410.1,203.5 L414.6,203.6 L419.6,204.5 L426.6,203.6 L434.1,203.5 L436.1,203.8 L438.6,204.6 L440.1,205.6 L441.3,206.9 L442.3,209.4 L442.4,212.4 L441.4,215.9 L439.5,219.4 L439.4,220.4 L440.8,224.9 L441.4,228.4 L441.5,233.9 L441.2,238.9 L440.5,242.9 L439.4,245.4 L438.1,247.0 L436.1,247.9Z" fill="#a8b8ea" filter="url(#g1)"/>
<path d="M436.6,245.9 L434.1,246.2 L430.6,245.4 L428.8,243.9 L427.7,241.4 L427.1,236.9 L427.2,228.4 L427.9,224.9 L429.8,221.4 L429.8,220.9 L429.3,220.4 L428.0,219.9 L421.6,218.4 L420.6,218.3 L419.6,218.6 L418.5,219.9 L418.6,220.9 L420.0,224.9 L420.4,229.4 L419.9,236.4 L419.3,238.4 L418.4,239.9 L417.4,240.9 L416.1,241.6 L414.6,242.0 L412.1,242.1 L408.1,241.7 L406.6,240.9 L405.6,239.9 L404.7,238.4 L404.0,235.9 L403.6,228.4 L404.1,224.4 L405.8,220.9 L406.0,219.9 L404.3,215.9 L403.8,210.9 L404.0,208.9 L404.5,207.4 L406.1,205.4 L408.6,204.4 L412.1,204.2 L415.6,204.7 L419.1,205.9 L420.1,206.1 L426.1,204.6 L433.6,204.2 L437.6,205.1 L439.1,205.9 L440.5,207.4 L441.5,209.9 L441.4,212.9 L440.3,215.9 L437.6,219.9 L437.8,220.9 L439.5,223.9 L440.4,227.4 L440.8,231.9 L440.5,237.4 L439.9,240.9 L439.3,242.9 L438.1,244.8 L436.6,245.9Z" fill="#7691dc" filter="url(#g2)"/>
<path d="M414.6,239.5 L411.1,239.7 L408.6,239.2 L406.9,237.9 L405.8,235.4 L405.1,229.4 L405.5,225.4 L406.2,223.9 L407.1,222.6 L410.1,220.4 L410.0,219.9 L407.6,218.7 L406.6,217.8 L405.2,215.4 L404.7,213.4 L404.6,210.4 L404.8,208.9 L405.6,207.2 L406.6,206.1 L407.6,205.5 L410.6,204.9 L413.1,205.1 L415.1,205.5 L416.6,206.1 L419.1,207.8 L420.1,208.1 L424.6,206.0 L429.1,205.1 L434.6,205.1 L436.6,205.6 L438.2,206.4 L439.3,207.4 L440.2,208.9 L440.6,210.4 L440.6,211.9 L440.1,213.9 L439.1,215.9 L438.1,217.1 L436.6,218.2 L435.1,218.8 L433.6,219.0 L428.1,218.7 L424.6,217.9 L420.1,216.0 L419.1,216.3 L416.6,218.4 L414.2,219.9 L414.1,220.4 L416.6,222.2 L417.9,223.9 L418.6,225.9 L418.9,228.4 L418.6,233.4 L417.9,236.4 L416.6,238.5 L414.6,239.5ZM436.1,244.1 L435.1,244.3 L433.6,244.1 L431.6,243.3 L430.4,242.4 L429.6,241.4 L429.0,239.9 L428.5,235.9 L428.6,229.4 L429.4,225.9 L430.4,224.4 L431.6,223.3 L433.6,222.2 L435.1,221.8 L436.1,222.0 L437.1,222.6 L438.5,224.4 L439.4,226.9 L439.9,230.9 L439.8,235.9 L439.1,239.9 L437.7,242.9 L436.1,244.1Z" fill="#4565cc" filter="url(#g3)"/>
<path d="M413.1,217.4 L410.6,217.5 L408.6,217.1 L407.1,216.1 L406.1,214.4 L405.6,211.9 L405.8,209.4 L406.9,207.4 L408.6,206.3 L411.1,205.9 L414.1,206.4 L416.1,207.6 L417.4,209.4 L417.9,210.9 L417.9,212.4 L417.1,214.9 L415.6,216.6 L413.1,217.4ZM435.1,217.0 L432.6,217.4 L429.1,217.2 L426.6,216.7 L424.8,215.9 L423.2,214.4 L422.6,212.9 L422.5,211.4 L423.2,209.4 L424.1,208.4 L425.5,207.4 L429.1,206.3 L433.6,206.0 L435.6,206.4 L437.1,207.0 L438.9,208.9 L439.3,210.4 L439.3,211.9 L438.7,213.9 L437.6,215.4 L436.6,216.3 L435.1,217.0ZM413.1,234.5 L411.1,234.5 L409.6,233.8 L408.6,232.5 L407.9,230.4 L407.7,228.4 L408.1,226.4 L409.2,224.9 L411.1,224.0 L413.1,224.1 L414.6,224.7 L415.7,225.9 L416.2,227.4 L416.2,229.9 L415.6,232.1 L414.6,233.6 L413.1,234.5ZM435.6,241.5 L434.1,241.2 L432.2,239.4 L431.2,236.9 L430.8,233.4 L431.0,229.9 L431.7,227.4 L433.2,225.4 L434.1,224.7 L435.1,224.4 L436.6,224.8 L437.8,226.4 L438.6,228.9 L438.9,231.9 L438.7,235.4 L438.1,238.4 L437.1,240.4 L435.6,241.5Z" fill="#3c74d0" filter="url(#g3)"/>
<path d="M412.6,216.0 L410.6,216.1 L409.1,215.8 L407.8,214.9 L406.9,213.4 L406.5,211.4 L406.8,209.4 L407.6,208.0 L409.1,207.1 L411.1,206.8 L413.1,207.1 L414.6,208.0 L415.8,209.4 L416.1,211.4 L415.6,213.9 L414.6,215.2 L412.6,216.0ZM433.6,216.0 L431.6,216.0 L429.1,215.7 L427.6,215.2 L426.3,214.4 L425.4,212.9 L425.1,211.4 L425.5,209.9 L426.2,208.9 L428.6,207.5 L432.1,206.9 L435.1,207.2 L437.1,208.4 L437.9,209.4 L438.2,210.4 L438.3,211.4 L437.9,212.9 L437.1,214.1 L436.1,215.0 L433.6,216.0ZM436.1,238.5 L435.1,238.8 L433.9,237.9 L433.1,236.4 L432.6,233.9 L432.6,231.4 L433.0,229.4 L434.1,227.4 L435.1,226.8 L436.1,227.0 L436.9,227.9 L437.5,229.4 L437.8,231.4 L437.8,233.9 L437.5,235.9 L437.0,237.4 L436.1,238.5Z" fill="#44b0c9" filter="url(#bl)"/>
<path d="M412.1,214.9 L410.6,215.1 L409.1,214.6 L408.1,213.7 L407.5,212.4 L407.3,210.9 L407.6,209.4 L408.4,208.4 L409.6,207.7 L411.1,207.5 L412.6,207.9 L414.1,208.9 L414.7,209.9 L414.9,211.9 L414.4,213.4 L413.4,214.4 L412.1,214.9ZM433.1,214.9 L431.1,214.8 L429.6,214.4 L428.5,213.9 L427.6,213.0 L427.1,211.9 L427.0,210.9 L427.3,209.9 L428.3,208.9 L430.5,207.9 L433.1,207.6 L435.1,208.1 L436.6,209.2 L437.3,210.9 L436.7,212.9 L435.1,214.4 L433.1,214.9ZM436.1,235.4 L435.6,235.9 L435.1,235.9 L434.6,235.4 L434.1,233.9 L434.1,231.2 L434.6,229.9 L435.1,229.5 L435.6,229.5 L436.1,229.9 L436.6,231.4 L436.6,233.9 L436.1,235.4Z" fill="#72c55c" filter="url(#bl)"/>
<path d="M411.1,213.9 L410.1,213.8 L409.1,213.3 L408.5,212.4 L408.2,211.4 L408.2,210.4 L408.7,209.4 L409.6,208.7 L410.6,208.4 L412.6,208.9 L413.5,209.9 L413.8,210.9 L413.7,211.9 L413.1,213.0 L412.1,213.7 L411.1,213.9ZM434.1,213.6 L432.1,213.8 L429.8,212.9 L428.8,211.4 L429.3,209.9 L430.6,209.0 L432.1,208.6 L433.6,208.6 L435.1,209.2 L436.0,210.4 L436.1,211.4 L435.2,212.9 L434.1,213.6Z" fill="#c3d63a" filter="url(#bl)"/>
<path d="M411.1,213.0 L409.6,212.5 L409.0,211.4 L409.4,209.9 L410.6,209.2 L412.1,209.6 L412.8,210.9 L412.3,212.4 L411.1,213.0ZM434.1,212.4 L432.6,212.8 L431.2,212.4 L430.4,211.4 L430.5,210.4 L431.1,209.8 L432.1,209.5 L433.1,209.4 L434.1,209.7 L434.9,210.9 L434.7,211.9 L434.1,212.4Z" fill="#eed830" filter="url(#bl)"/>
<path d="M411.6,211.4 L411.1,211.8 L410.6,211.8 L410.1,211.4 L410.0,210.9 L410.4,210.4 L411.1,210.3 L411.7,210.9 L411.6,211.4Z" fill="#f49a28" filter="url(#bl)"/>
</g>
<path d="M420.4,182.4 V220.1 M395.6,220.1 H461.5 M423.2,220.1 V249.6" stroke="#000" stroke-width="2" fill="none"/>
<text x="397.60" y="45.60" font-size="10.4" textLength="15.80" lengthAdjust="spacingAndGlyphs">EM</text>
<text x="442.20" y="45.60" font-size="10.4" textLength="16.20" lengthAdjust="spacingAndGlyphs">CM</text>
<text x="397.60" y="97.50" font-size="10.4" textLength="10.40" lengthAdjust="spacingAndGlyphs">Ef</text>
<text x="442.20" y="97.50" font-size="10.4" textLength="12.80" lengthAdjust="spacingAndGlyphs">Nv</text>
<text x="341.08" y="30.20" font-size="12" textLength="17.90" lengthAdjust="spacingAndGlyphs">HIV</text>
<text x="359.60" y="26.38" font-size="12">+</text>
<text x="405.30" y="30.70" font-size="11.6" textLength="18.46" lengthAdjust="spacingAndGlyphs">HIV</text>
<text x="423.62" y="26.81" font-size="11.5">+</text>
<text x="431.00" y="30.70" font-size="11.6" textLength="20.46" lengthAdjust="spacingAndGlyphs">IRIS</text>
<text x="479.78" y="35.00" font-size="12" textLength="26.80" lengthAdjust="spacingAndGlyphs">Time</text>
<text x="467.98" y="48.80" font-size="12" textLength="49.80" lengthAdjust="spacingAndGlyphs">(months)</text>
<text x="492.00" y="75.40" font-size="11.2" text-anchor="middle">0</text>
<text x="493.90" y="145.70" font-size="11.2" text-anchor="middle">6</text>
<text x="493.70" y="218.40" font-size="11.2" text-anchor="middle">12</text>
<path d="M304,201.8 V40" stroke="#000" stroke-width="1.5"/><path d="M300.6,41.5 L304,35.5 L307.4,41.5Z" fill="#000"/>
<text transform="translate(309.2,226.2) rotate(-90)" font-size="11" text-anchor="middle" textLength="42.6" lengthAdjust="spacingAndGlyphs">CD45RO</text>
<text x="318.70" y="266.20" font-size="11" textLength="26.40" lengthAdjust="spacingAndGlyphs">CD27</text>
<path d="M364.4,262.4 H451" stroke="#000" stroke-width="1.5"/><path d="M450,259 L456,262.4 L450,265.8Z" fill="#000"/>
<path d="M383.6,299.5 V365.8" fill="none" stroke="#9a9a9a" stroke-width="0.8"/>
<path d="M314.6,306.1h2.4M314.6,319.4h2.4M314.6,335.3h2.4M314.6,350.6h2.4M314.6,356.5h2.4M315.7,310.8h1.3M315.7,314.1h1.3M315.7,316.1h1.3M315.7,324.0h1.3M315.7,327.3h1.3M315.7,330.0h1.3M315.7,332.0h1.3M315.7,339.9h1.3M315.7,343.3h1.3M315.7,345.2h1.3M315.7,347.2h1.3M315.7,353.2h1.3M315.7,355.2h1.3M315.7,359.2h1.3M315.7,361.2h1.3M315.7,363.1h1.3" stroke="#111" stroke-width="0.7" fill="none"/>
<text x="309.8" y="307.5" font-size="3.4" fill="#999" stroke="none">10<tspan font-size="2.6" dy="-1.3">5</tspan></text><text x="309.8" y="320.8" font-size="3.4" fill="#999" stroke="none">10<tspan font-size="2.6" dy="-1.3">4</tspan></text><text x="309.8" y="336.7" font-size="3.4" fill="#999" stroke="none">10<tspan font-size="2.6" dy="-1.3">3</tspan></text><text x="309.8" y="352.0" font-size="3.4" fill="#999" stroke="none">10<tspan font-size="2.6" dy="-1.3">2</tspan></text><text x="312.8" y="357.9" font-size="3.4" fill="#999" stroke="none">0</text>
<path d="M319.0,365.8v1.5M321.7,365.8v1.5M323.7,365.8v1.5M325.7,365.8v1.5M327.7,365.8v1.5M333.0,365.8v1.5M335.6,365.8v1.5M337.6,365.8v1.5M339.6,365.8v1.5M341.6,365.8v1.5M343.0,365.8v1.5M347.0,365.8v1.5M349.0,365.8v1.5M351.6,365.8v1.5M353.6,365.8v1.5M355.6,365.8v1.5M357.0,365.8v1.5M358.3,365.8v1.5M363.0,365.8v1.5M365.0,365.8v1.5M367.6,365.8v1.5M369.6,365.8v1.5M371.6,365.8v1.5M372.9,365.8v1.5M374.3,365.8v1.5M378.9,365.8v1.5M380.9,365.8v1.5M330.3,365.8v2.6M345.0,365.8v2.6M361.0,365.8v2.6M376.9,365.8v2.6" stroke="#111" stroke-width="0.8" fill="none"/>
<text x="329.3" y="372.0" font-size="3.4" fill="#aaa" stroke="none">0</text><text x="342.4" y="372.0" font-size="3.4" fill="#aaa" stroke="none">10<tspan font-size="2.6" dy="-1.3">3</tspan></text><text x="358.4" y="372.0" font-size="3.4" fill="#aaa" stroke="none">10<tspan font-size="2.6" dy="-1.3">4</tspan></text><text x="374.3" y="372.0" font-size="3.4" fill="#aaa" stroke="none">10<tspan font-size="2.6" dy="-1.3">5</tspan></text>
<path d="M317.0,299.5 V365.8 H383.6" fill="none" stroke="#111" stroke-width="1.3"/>
<path d="M368.1,328.9h1.1v1.1h-1.1zM344.3,324.2h1.1v1.1h-1.1zM336.9,327.2h1.1v1.1h-1.1zM327.8,332.6h1.1v1.1h-1.1zM370.5,326.0h1.1v1.1h-1.1zM368.3,329.8h1.1v1.1h-1.1zM331.7,323.0h1.1v1.1h-1.1zM342.1,331.0h1.1v1.1h-1.1zM351.4,331.4h1.1v1.1h-1.1zM380.7,331.4h1.1v1.1h-1.1zM332.2,329.6h1.1v1.1h-1.1zM361.5,326.5h1.1v1.1h-1.1zM341.6,321.7h1.1v1.1h-1.1zM363.4,328.0h1.1v1.1h-1.1zM329.7,331.2h1.1v1.1h-1.1zM347.3,324.5h1.1v1.1h-1.1zM347.8,325.5h1.1v1.1h-1.1zM338.1,328.5h1.1v1.1h-1.1zM361.4,330.8h1.1v1.1h-1.1zM351.9,332.7h1.1v1.1h-1.1zM341.1,323.1h1.1v1.1h-1.1zM341.5,324.9h1.1v1.1h-1.1zM337.7,332.0h1.1v1.1h-1.1zM346.7,329.5h1.1v1.1h-1.1zM336.5,330.9h1.1v1.1h-1.1zM341.0,338.8h1.1v1.1h-1.1zM363.6,333.6h1.1v1.1h-1.1zM349.7,332.0h1.1v1.1h-1.1zM351.9,331.3h1.1v1.1h-1.1zM343.8,327.3h1.1v1.1h-1.1zM344.7,329.8h1.1v1.1h-1.1zM341.2,324.7h1.1v1.1h-1.1zM333.8,330.7h1.1v1.1h-1.1zM330.8,330.7h1.1v1.1h-1.1zM337.4,330.6h1.1v1.1h-1.1zM343.8,327.9h1.1v1.1h-1.1zM321.7,327.0h1.1v1.1h-1.1zM362.6,327.5h1.1v1.1h-1.1zM360.1,320.8h1.1v1.1h-1.1zM351.3,332.3h1.1v1.1h-1.1zM343.2,328.6h1.1v1.1h-1.1zM338.0,326.9h1.1v1.1h-1.1zM346.9,328.7h1.1v1.1h-1.1zM337.3,330.3h1.1v1.1h-1.1zM330.7,326.7h1.1v1.1h-1.1zM335.1,332.3h1.1v1.1h-1.1zM355.1,333.7h1.1v1.1h-1.1zM337.0,327.5h1.1v1.1h-1.1zM357.5,323.4h1.1v1.1h-1.1zM335.2,331.0h1.1v1.1h-1.1zM334.2,337.6h1.1v1.1h-1.1zM333.6,324.1h1.1v1.1h-1.1zM376.9,329.5h1.1v1.1h-1.1zM375.0,331.6h1.1v1.1h-1.1zM358.1,333.1h1.1v1.1h-1.1zM338.1,323.2h1.1v1.1h-1.1zM361.7,322.9h1.1v1.1h-1.1zM349.2,337.0h1.1v1.1h-1.1zM372.8,323.2h1.1v1.1h-1.1zM330.1,324.8h1.1v1.1h-1.1z" fill="#9aa6d6" opacity="0.45"/>
<g opacity="0.85">
<path d="M336.0,356.1 L331.0,356.3 L326.5,355.7 L322.0,354.0 L318.4,351.5 L316.1,348.5 L315.6,347.0 L315.2,345.0 L315.3,343.5 L315.9,341.5 L317.9,338.5 L320.0,336.7 L322.5,335.2 L325.5,334.1 L329.5,333.3 L333.5,333.1 L341.5,333.4 L351.0,332.1 L354.0,332.6 L356.6,334.0 L357.5,335.0 L358.2,336.5 L358.4,339.5 L357.3,343.0 L355.1,346.0 L351.0,349.5 L346.0,352.8 L341.5,354.8 L336.0,356.1Z" fill="#bccaee" filter="url(#g1)"/>
<path d="M334.0,354.5 L330.0,354.6 L325.5,353.6 L322.0,352.0 L319.5,349.8 L317.9,347.0 L317.5,344.0 L318.5,341.0 L320.5,338.6 L323.0,336.8 L325.5,335.7 L328.0,335.1 L331.0,334.7 L334.5,334.8 L342.5,335.6 L350.0,335.6 L351.8,336.0 L353.2,337.0 L354.0,339.0 L353.8,341.5 L352.8,343.5 L350.6,346.0 L346.0,349.7 L342.0,352.2 L338.0,353.8 L334.0,354.5Z" fill="#96b0e2" filter="url(#g2)"/>
<path d="M334.5,352.6 L331.0,352.8 L327.5,352.4 L324.5,351.3 L322.1,349.5 L320.5,347.5 L319.8,345.0 L320.2,342.5 L321.9,340.0 L324.0,338.4 L326.5,337.2 L329.0,336.6 L332.0,336.4 L335.5,336.7 L340.0,337.8 L344.0,339.1 L346.3,340.5 L347.0,342.0 L346.8,343.5 L345.6,345.5 L343.8,347.5 L341.6,349.5 L339.5,350.8 L337.0,351.9 L334.5,352.6Z" fill="#6e9ad8" filter="url(#g2)"/>
<path d="M334.0,351.1 L331.5,351.4 L328.5,351.1 L325.5,350.1 L323.5,348.7 L322.3,347.0 L321.7,345.0 L322.0,343.0 L323.1,341.0 L324.5,339.8 L326.5,338.7 L329.0,338.0 L331.5,337.8 L334.0,338.1 L336.5,338.7 L339.0,339.8 L340.8,341.0 L341.6,342.0 L342.0,343.5 L341.8,345.0 L341.0,346.5 L339.8,348.0 L338.0,349.4 L336.0,350.4 L334.0,351.1Z" fill="#4eaac8" filter="url(#bl)"/>
<path d="M331.5,350.0 L329.0,349.9 L327.0,349.3 L325.0,348.1 L323.7,346.5 L323.3,345.0 L323.6,343.0 L324.6,341.5 L326.5,340.1 L329.5,339.2 L333.0,339.3 L336.2,340.5 L337.5,341.5 L338.4,342.5 L338.8,343.5 L338.8,345.0 L338.2,346.5 L337.4,347.5 L335.0,349.1 L331.5,350.0Z" fill="#6cbe7a" filter="url(#bl)"/>
<path d="M332.0,348.6 L330.0,348.7 L328.5,348.5 L327.0,347.8 L325.9,347.0 L325.2,346.0 L324.9,344.5 L325.4,343.0 L326.2,342.0 L328.5,340.7 L331.0,340.5 L333.5,341.0 L335.6,342.5 L336.3,344.0 L335.9,346.0 L334.5,347.5 L332.0,348.6Z" fill="#a8c84a" filter="url(#bl)"/>
<path d="M331.5,347.5 L329.0,347.4 L327.9,347.0 L326.8,346.0 L326.4,345.0 L326.4,344.0 L327.5,342.5 L329.0,341.8 L331.0,341.6 L332.5,342.0 L333.9,343.0 L334.5,344.0 L334.3,345.5 L333.0,346.9 L331.5,347.5Z" fill="#dcc83a" filter="url(#bl)"/>
<path d="M331.5,346.1 L330.0,346.4 L328.9,346.0 L328.0,345.0 L328.1,344.0 L329.0,343.1 L330.0,342.8 L331.0,342.9 L332.0,343.4 L332.6,344.0 L332.6,345.0 L331.5,346.1Z" fill="#e69c2c" filter="url(#bl)"/>
</g>
<rect x="320.6" y="306.0" width="58.4" height="28.1" fill="none" stroke="#000" stroke-width="1.6"/>
<text x="379.40" y="359.50" font-size="11.4" text-anchor="end">14</text>
<path d="M383.6,374.8 V441.1" fill="none" stroke="#9a9a9a" stroke-width="0.8"/>
<path d="M314.6,381.4h2.4M314.6,394.7h2.4M314.6,410.6h2.4M314.6,425.9h2.4M314.6,431.8h2.4M315.7,386.1h1.3M315.7,389.4h1.3M315.7,391.4h1.3M315.7,399.3h1.3M315.7,402.6h1.3M315.7,405.3h1.3M315.7,407.3h1.3M315.7,415.2h1.3M315.7,418.6h1.3M315.7,420.5h1.3M315.7,422.5h1.3M315.7,428.5h1.3M315.7,430.5h1.3M315.7,434.5h1.3M315.7,436.5h1.3M315.7,438.4h1.3" stroke="#111" stroke-width="0.7" fill="none"/>
<text x="309.8" y="382.8" font-size="3.4" fill="#999" stroke="none">10<tspan font-size="2.6" dy="-1.3">5</tspan></text><text x="309.8" y="396.1" font-size="3.4" fill="#999" stroke="none">10<tspan font-size="2.6" dy="-1.3">4</tspan></text><text x="309.8" y="412.0" font-size="3.4" fill="#999" stroke="none">10<tspan font-size="2.6" dy="-1.3">3</tspan></text><text x="309.8" y="427.3" font-size="3.4" fill="#999" stroke="none">10<tspan font-size="2.6" dy="-1.3">2</tspan></text><text x="312.8" y="433.2" font-size="3.4" fill="#999" stroke="none">0</text>
<path d="M319.0,441.1v1.5M321.7,441.1v1.5M323.7,441.1v1.5M325.7,441.1v1.5M327.7,441.1v1.5M333.0,441.1v1.5M335.6,441.1v1.5M337.6,441.1v1.5M339.6,441.1v1.5M341.6,441.1v1.5M343.0,441.1v1.5M347.0,441.1v1.5M349.0,441.1v1.5M351.6,441.1v1.5M353.6,441.1v1.5M355.6,441.1v1.5M357.0,441.1v1.5M358.3,441.1v1.5M363.0,441.1v1.5M365.0,441.1v1.5M367.6,441.1v1.5M369.6,441.1v1.5M371.6,441.1v1.5M372.9,441.1v1.5M374.3,441.1v1.5M378.9,441.1v1.5M380.9,441.1v1.5M330.3,441.1v2.6M345.0,441.1v2.6M361.0,441.1v2.6M376.9,441.1v2.6" stroke="#111" stroke-width="0.8" fill="none"/>
<text x="329.3" y="447.3" font-size="3.4" fill="#aaa" stroke="none">0</text><text x="342.4" y="447.3" font-size="3.4" fill="#aaa" stroke="none">10<tspan font-size="2.6" dy="-1.3">3</tspan></text><text x="358.4" y="447.3" font-size="3.4" fill="#aaa" stroke="none">10<tspan font-size="2.6" dy="-1.3">4</tspan></text><text x="374.3" y="447.3" font-size="3.4" fill="#aaa" stroke="none">10<tspan font-size="2.6" dy="-1.3">5</tspan></text>
<path d="M317.0,374.8 V441.1 H383.6" fill="none" stroke="#111" stroke-width="1.3"/>
<path d="M359.7,403.1h1.1v1.1h-1.1zM368.6,404.5h1.1v1.1h-1.1zM358.8,406.7h1.1v1.1h-1.1zM336.6,405.5h1.1v1.1h-1.1zM344.7,404.9h1.1v1.1h-1.1zM350.9,402.4h1.1v1.1h-1.1zM353.3,403.8h1.1v1.1h-1.1zM344.0,402.4h1.1v1.1h-1.1zM356.7,406.3h1.1v1.1h-1.1zM328.3,402.1h1.1v1.1h-1.1zM359.8,402.4h1.1v1.1h-1.1zM324.4,406.6h1.1v1.1h-1.1zM350.2,403.0h1.1v1.1h-1.1zM334.6,401.6h1.1v1.1h-1.1zM324.3,407.3h1.1v1.1h-1.1zM329.9,402.5h1.1v1.1h-1.1zM352.1,407.6h1.1v1.1h-1.1zM360.3,406.1h1.1v1.1h-1.1zM345.8,402.7h1.1v1.1h-1.1zM378.5,404.9h1.1v1.1h-1.1zM368.4,395.9h1.1v1.1h-1.1zM339.1,401.9h1.1v1.1h-1.1zM334.7,407.6h1.1v1.1h-1.1zM332.5,403.8h1.1v1.1h-1.1zM353.2,403.5h1.1v1.1h-1.1zM364.5,404.3h1.1v1.1h-1.1zM336.5,405.0h1.1v1.1h-1.1zM336.3,404.6h1.1v1.1h-1.1zM363.7,402.4h1.1v1.1h-1.1zM339.9,399.7h1.1v1.1h-1.1zM333.8,401.0h1.1v1.1h-1.1zM334.4,401.7h1.1v1.1h-1.1zM331.7,402.3h1.1v1.1h-1.1zM344.7,415.9h1.1v1.1h-1.1zM347.3,401.5h1.1v1.1h-1.1zM346.5,403.2h1.1v1.1h-1.1zM362.6,401.6h1.1v1.1h-1.1zM333.5,404.6h1.1v1.1h-1.1zM348.9,410.3h1.1v1.1h-1.1zM340.6,408.5h1.1v1.1h-1.1zM349.0,400.9h1.1v1.1h-1.1zM329.3,408.3h1.1v1.1h-1.1zM343.5,403.5h1.1v1.1h-1.1zM343.7,405.2h1.1v1.1h-1.1zM363.9,397.6h1.1v1.1h-1.1zM344.3,407.4h1.1v1.1h-1.1zM350.6,401.0h1.1v1.1h-1.1zM343.8,403.2h1.1v1.1h-1.1zM355.4,399.6h1.1v1.1h-1.1zM363.9,402.5h1.1v1.1h-1.1zM329.4,407.2h1.1v1.1h-1.1zM327.0,407.6h1.1v1.1h-1.1zM372.2,402.4h1.1v1.1h-1.1zM343.8,406.5h1.1v1.1h-1.1zM352.7,402.6h1.1v1.1h-1.1zM365.9,401.6h1.1v1.1h-1.1zM345.7,403.4h1.1v1.1h-1.1zM359.3,399.4h1.1v1.1h-1.1zM354.0,400.8h1.1v1.1h-1.1z" fill="#9aa6d6" opacity="0.45"/>
<g opacity="0.85">
<path d="M333.0,431.3 L328.0,430.9 L323.5,429.6 L320.0,427.7 L317.5,425.3 L315.8,422.3 L315.5,420.3 L315.5,418.8 L316.5,415.8 L318.8,412.8 L321.0,411.2 L324.0,409.7 L327.5,408.7 L330.5,408.2 L342.0,408.4 L349.0,407.3 L351.5,407.1 L354.9,407.8 L357.1,409.3 L358.1,410.8 L358.6,412.3 L358.4,415.8 L357.6,417.8 L356.7,419.3 L354.0,422.3 L348.5,426.4 L343.5,429.1 L338.5,430.7 L333.0,431.3Z" fill="#bccaee" filter="url(#g1)"/>
<path d="M335.5,429.4 L331.0,429.6 L327.0,429.0 L323.0,427.5 L320.1,425.3 L318.9,423.8 L318.2,422.3 L317.7,419.3 L318.6,416.3 L320.5,413.8 L322.5,412.2 L325.0,411.0 L328.0,410.1 L331.0,409.7 L334.5,409.8 L343.0,410.6 L350.0,410.5 L352.0,411.0 L353.2,411.8 L354.1,413.3 L354.2,415.8 L353.2,418.3 L351.5,420.3 L347.4,423.8 L343.5,426.5 L339.5,428.4 L335.5,429.4Z" fill="#96b0e2" filter="url(#g2)"/>
<path d="M332.5,427.8 L329.0,427.6 L325.5,426.6 L323.0,425.2 L321.2,423.3 L320.3,421.3 L320.1,418.8 L321.1,416.3 L322.8,414.3 L325.0,412.9 L327.5,412.0 L330.5,411.5 L333.5,411.5 L337.5,412.1 L342.5,413.5 L345.5,414.7 L346.8,415.8 L347.2,417.3 L346.8,418.8 L345.1,421.3 L342.6,423.8 L340.5,425.4 L338.0,426.6 L335.0,427.5 L332.5,427.8Z" fill="#6e9ad8" filter="url(#g2)"/>
<path d="M332.5,426.3 L329.5,426.3 L326.5,425.5 L324.0,423.9 L322.6,422.3 L321.9,420.3 L322.1,418.3 L323.1,416.3 L325.0,414.6 L327.0,413.6 L329.0,413.1 L333.5,413.0 L336.0,413.5 L338.5,414.4 L340.5,415.6 L341.7,416.8 L342.1,417.8 L342.2,419.3 L341.7,420.8 L340.2,422.8 L337.0,425.1 L334.5,426.0 L332.5,426.3Z" fill="#4eaac8" filter="url(#bl)"/>
<path d="M333.0,424.9 L330.5,425.1 L328.5,424.8 L326.5,424.0 L324.9,422.8 L323.8,421.3 L323.5,419.3 L323.9,417.8 L325.0,416.3 L326.5,415.2 L328.0,414.6 L331.5,414.1 L333.5,414.4 L335.5,415.1 L338.0,416.8 L339.0,418.8 L338.9,420.3 L338.5,421.3 L336.5,423.4 L335.0,424.2 L333.0,424.9Z" fill="#6cbe7a" filter="url(#bl)"/>
<path d="M333.0,423.4 L331.5,423.7 L329.5,423.6 L328.0,423.2 L326.5,422.3 L325.6,421.3 L325.1,419.8 L325.4,418.3 L326.1,417.3 L328.0,416.0 L330.5,415.5 L333.0,415.8 L335.0,416.8 L336.3,418.3 L336.4,420.3 L335.9,421.3 L335.0,422.3 L333.0,423.4Z" fill="#a8c84a" filter="url(#bl)"/>
<path d="M332.0,422.4 L329.5,422.5 L328.0,421.9 L327.2,421.3 L326.6,420.3 L326.5,419.3 L327.3,417.8 L328.5,417.0 L330.5,416.6 L332.5,416.9 L333.9,417.8 L334.6,418.8 L334.6,420.3 L333.5,421.7 L332.0,422.4Z" fill="#dcc83a" filter="url(#bl)"/>
<path d="M331.0,421.3 L329.5,421.2 L328.3,420.3 L328.2,419.3 L328.9,418.3 L330.0,417.9 L331.0,417.9 L332.0,418.2 L332.6,418.8 L332.9,419.3 L332.7,420.3 L332.0,421.0 L331.0,421.3Z" fill="#e69c2c" filter="url(#bl)"/>
</g>
<rect x="320.6" y="381.3" width="58.4" height="28.1" fill="none" stroke="#000" stroke-width="1.6"/>
<text x="379.40" y="434.80" font-size="11.4" text-anchor="end">7.1</text>
<path d="M383.6,448.5 V514.8" fill="none" stroke="#9a9a9a" stroke-width="0.8"/>
<path d="M314.6,455.1h2.4M314.6,468.4h2.4M314.6,484.3h2.4M314.6,499.6h2.4M314.6,505.5h2.4M315.7,459.8h1.3M315.7,463.1h1.3M315.7,465.1h1.3M315.7,473.0h1.3M315.7,476.3h1.3M315.7,479.0h1.3M315.7,481.0h1.3M315.7,488.9h1.3M315.7,492.3h1.3M315.7,494.2h1.3M315.7,496.2h1.3M315.7,502.2h1.3M315.7,504.2h1.3M315.7,508.2h1.3M315.7,510.2h1.3M315.7,512.1h1.3" stroke="#111" stroke-width="0.7" fill="none"/>
<text x="309.8" y="456.5" font-size="3.4" fill="#999" stroke="none">10<tspan font-size="2.6" dy="-1.3">5</tspan></text><text x="309.8" y="469.8" font-size="3.4" fill="#999" stroke="none">10<tspan font-size="2.6" dy="-1.3">4</tspan></text><text x="309.8" y="485.7" font-size="3.4" fill="#999" stroke="none">10<tspan font-size="2.6" dy="-1.3">3</tspan></text><text x="309.8" y="501.0" font-size="3.4" fill="#999" stroke="none">10<tspan font-size="2.6" dy="-1.3">2</tspan></text><text x="312.8" y="506.9" font-size="3.4" fill="#999" stroke="none">0</text>
<path d="M319.0,514.8v1.5M321.7,514.8v1.5M323.7,514.8v1.5M325.7,514.8v1.5M327.7,514.8v1.5M333.0,514.8v1.5M335.6,514.8v1.5M337.6,514.8v1.5M339.6,514.8v1.5M341.6,514.8v1.5M343.0,514.8v1.5M347.0,514.8v1.5M349.0,514.8v1.5M351.6,514.8v1.5M353.6,514.8v1.5M355.6,514.8v1.5M357.0,514.8v1.5M358.3,514.8v1.5M363.0,514.8v1.5M365.0,514.8v1.5M367.6,514.8v1.5M369.6,514.8v1.5M371.6,514.8v1.5M372.9,514.8v1.5M374.3,514.8v1.5M378.9,514.8v1.5M380.9,514.8v1.5M330.3,514.8v2.6M345.0,514.8v2.6M361.0,514.8v2.6M376.9,514.8v2.6" stroke="#111" stroke-width="0.8" fill="none"/>
<text x="329.3" y="521.0" font-size="3.4" fill="#aaa" stroke="none">0</text><text x="342.4" y="521.0" font-size="3.4" fill="#aaa" stroke="none">10<tspan font-size="2.6" dy="-1.3">3</tspan></text><text x="358.4" y="521.0" font-size="3.4" fill="#aaa" stroke="none">10<tspan font-size="2.6" dy="-1.3">4</tspan></text><text x="374.3" y="521.0" font-size="3.4" fill="#aaa" stroke="none">10<tspan font-size="2.6" dy="-1.3">5</tspan></text>
<path d="M317.0,448.5 V514.8 H383.6" fill="none" stroke="#111" stroke-width="1.3"/>
<path d="M347.8,477.0h1.1v1.1h-1.1zM353.9,480.7h1.1v1.1h-1.1zM346.6,471.6h1.1v1.1h-1.1zM355.0,474.6h1.1v1.1h-1.1zM340.1,479.8h1.1v1.1h-1.1zM354.6,478.3h1.1v1.1h-1.1zM351.1,475.3h1.1v1.1h-1.1zM333.6,478.2h1.1v1.1h-1.1zM350.6,476.5h1.1v1.1h-1.1zM338.2,481.6h1.1v1.1h-1.1zM334.3,474.6h1.1v1.1h-1.1zM331.0,480.2h1.1v1.1h-1.1zM339.9,478.3h1.1v1.1h-1.1zM353.4,479.5h1.1v1.1h-1.1zM322.2,476.1h1.1v1.1h-1.1zM340.1,479.8h1.1v1.1h-1.1zM353.9,478.6h1.1v1.1h-1.1zM337.2,475.7h1.1v1.1h-1.1zM322.8,469.9h1.1v1.1h-1.1zM358.0,483.8h1.1v1.1h-1.1zM318.2,479.5h1.1v1.1h-1.1zM364.9,473.1h1.1v1.1h-1.1zM345.2,479.5h1.1v1.1h-1.1zM359.0,474.7h1.1v1.1h-1.1zM362.9,476.1h1.1v1.1h-1.1zM333.9,482.0h1.1v1.1h-1.1zM346.8,476.1h1.1v1.1h-1.1zM323.8,474.8h1.1v1.1h-1.1zM345.8,474.5h1.1v1.1h-1.1zM331.4,471.2h1.1v1.1h-1.1zM341.0,474.2h1.1v1.1h-1.1zM351.5,474.2h1.1v1.1h-1.1zM370.6,472.8h1.1v1.1h-1.1zM339.1,470.7h1.1v1.1h-1.1zM359.1,476.5h1.1v1.1h-1.1zM335.4,474.1h1.1v1.1h-1.1zM351.8,479.0h1.1v1.1h-1.1zM362.8,482.8h1.1v1.1h-1.1zM353.3,474.4h1.1v1.1h-1.1zM370.3,477.4h1.1v1.1h-1.1zM352.9,477.4h1.1v1.1h-1.1zM382.3,471.2h1.1v1.1h-1.1zM340.3,472.1h1.1v1.1h-1.1zM330.9,482.1h1.1v1.1h-1.1zM374.9,476.1h1.1v1.1h-1.1zM343.7,480.5h1.1v1.1h-1.1zM346.6,471.5h1.1v1.1h-1.1zM345.7,477.6h1.1v1.1h-1.1zM342.9,481.1h1.1v1.1h-1.1zM344.6,481.3h1.1v1.1h-1.1zM339.4,466.5h1.1v1.1h-1.1zM367.9,477.1h1.1v1.1h-1.1zM359.6,475.6h1.1v1.1h-1.1zM334.5,480.1h1.1v1.1h-1.1zM363.2,471.2h1.1v1.1h-1.1zM347.5,474.2h1.1v1.1h-1.1zM351.8,480.4h1.1v1.1h-1.1zM363.8,476.9h1.1v1.1h-1.1zM350.0,476.3h1.1v1.1h-1.1zM344.5,484.9h1.1v1.1h-1.1z" fill="#9aa6d6" opacity="0.45"/>
<g opacity="0.85">
<path d="M335.0,505.0 L330.0,505.2 L325.0,504.3 L321.0,502.6 L317.6,500.0 L315.6,497.0 L315.1,495.5 L314.8,493.5 L315.1,491.5 L315.7,490.0 L317.9,487.0 L320.0,485.3 L323.0,483.7 L326.0,482.8 L329.5,482.2 L341.5,482.3 L348.5,481.2 L351.0,481.0 L354.0,481.6 L356.3,483.0 L357.2,484.0 L357.8,485.5 L358.0,488.5 L356.9,492.0 L354.6,495.0 L350.0,498.9 L345.0,502.0 L340.5,503.9 L335.0,505.0Z" fill="#bccaee" filter="url(#g1)"/>
<path d="M332.5,503.5 L328.5,503.3 L324.5,502.3 L321.0,500.5 L318.6,498.0 L317.4,495.5 L317.2,492.5 L318.4,489.5 L320.5,487.1 L322.5,485.8 L325.0,484.7 L328.0,483.9 L331.0,483.6 L334.5,483.7 L342.0,484.5 L349.5,484.4 L351.5,485.0 L352.9,486.0 L353.6,488.0 L353.4,490.5 L352.0,493.0 L349.6,495.5 L345.0,499.1 L341.0,501.4 L337.0,502.8 L332.5,503.5Z" fill="#96b0e2" filter="url(#g2)"/>
<path d="M333.5,501.6 L330.0,501.7 L326.5,501.1 L323.5,499.8 L321.3,498.0 L319.8,495.5 L319.5,493.0 L320.3,490.5 L322.0,488.4 L324.5,486.8 L327.0,485.9 L329.5,485.4 L332.5,485.4 L336.0,485.8 L340.7,487.0 L344.0,488.2 L346.0,489.5 L346.6,491.0 L346.3,492.5 L345.1,494.5 L342.8,497.0 L340.5,498.9 L338.5,500.0 L336.0,501.0 L333.5,501.6Z" fill="#6e9ad8" filter="url(#g2)"/>
<path d="M333.0,500.1 L330.0,500.2 L327.0,499.7 L324.5,498.6 L322.6,497.0 L321.5,495.0 L321.3,493.0 L322.0,491.0 L323.5,489.2 L325.5,487.9 L327.5,487.2 L329.5,486.8 L332.0,486.8 L334.5,487.2 L337.1,488.0 L339.1,489.0 L340.9,490.5 L341.5,491.5 L341.6,493.0 L341.2,494.5 L340.2,496.0 L338.7,497.5 L337.0,498.7 L333.0,500.1Z" fill="#4eaac8" filter="url(#bl)"/>
<path d="M333.0,498.6 L331.0,498.9 L328.5,498.8 L326.5,498.1 L324.5,496.8 L323.2,495.0 L323.0,493.5 L323.2,492.0 L324.2,490.5 L325.5,489.4 L327.0,488.7 L330.5,488.1 L332.5,488.3 L334.5,488.8 L337.2,490.5 L338.4,492.5 L338.3,494.0 L337.9,495.0 L336.0,497.2 L333.0,498.6Z" fill="#6cbe7a" filter="url(#bl)"/>
<path d="M331.0,497.5 L329.0,497.5 L327.5,497.1 L326.0,496.2 L325.0,495.0 L324.7,494.0 L324.8,492.5 L325.4,491.5 L326.5,490.5 L329.0,489.5 L331.5,489.6 L334.0,490.5 L335.5,492.0 L335.8,493.0 L335.8,494.0 L335.0,495.5 L333.5,496.7 L331.0,497.5Z" fill="#a8c84a" filter="url(#bl)"/>
<path d="M331.5,496.2 L329.0,496.3 L327.0,495.3 L326.3,494.5 L326.1,493.5 L326.7,492.0 L328.0,491.0 L329.5,490.6 L331.5,490.8 L333.0,491.6 L333.7,492.5 L333.9,494.0 L333.0,495.4 L331.5,496.2Z" fill="#dcc83a" filter="url(#bl)"/>
<path d="M330.0,495.0 L328.5,494.6 L327.9,493.5 L328.4,492.5 L329.5,492.0 L330.5,492.0 L331.5,492.5 L332.0,493.5 L331.5,494.5 L330.0,495.0Z" fill="#e69c2c" filter="url(#bl)"/>
</g>
<rect x="320.6" y="455.0" width="58.4" height="28.1" fill="none" stroke="#000" stroke-width="1.6"/>
<text x="379.40" y="508.50" font-size="11.4" text-anchor="end">3.6</text>
<path d="M383.6,523.5 V589.8" fill="none" stroke="#9a9a9a" stroke-width="0.8"/>
<path d="M314.6,530.1h2.4M314.6,543.4h2.4M314.6,559.3h2.4M314.6,574.6h2.4M314.6,580.5h2.4M315.7,534.8h1.3M315.7,538.1h1.3M315.7,540.1h1.3M315.7,548.0h1.3M315.7,551.3h1.3M315.7,554.0h1.3M315.7,556.0h1.3M315.7,563.9h1.3M315.7,567.3h1.3M315.7,569.2h1.3M315.7,571.2h1.3M315.7,577.2h1.3M315.7,579.2h1.3M315.7,583.2h1.3M315.7,585.2h1.3M315.7,587.1h1.3" stroke="#111" stroke-width="0.7" fill="none"/>
<text x="309.8" y="531.5" font-size="3.4" fill="#999" stroke="none">10<tspan font-size="2.6" dy="-1.3">5</tspan></text><text x="309.8" y="544.8" font-size="3.4" fill="#999" stroke="none">10<tspan font-size="2.6" dy="-1.3">4</tspan></text><text x="309.8" y="560.7" font-size="3.4" fill="#999" stroke="none">10<tspan font-size="2.6" dy="-1.3">3</tspan></text><text x="309.8" y="576.0" font-size="3.4" fill="#999" stroke="none">10<tspan font-size="2.6" dy="-1.3">2</tspan></text><text x="312.8" y="581.9" font-size="3.4" fill="#999" stroke="none">0</text>
<path d="M319.0,589.8v1.5M321.7,589.8v1.5M323.7,589.8v1.5M325.7,589.8v1.5M327.7,589.8v1.5M333.0,589.8v1.5M335.6,589.8v1.5M337.6,589.8v1.5M339.6,589.8v1.5M341.6,589.8v1.5M343.0,589.8v1.5M347.0,589.8v1.5M349.0,589.8v1.5M351.6,589.8v1.5M353.6,589.8v1.5M355.6,589.8v1.5M357.0,589.8v1.5M358.3,589.8v1.5M363.0,589.8v1.5M365.0,589.8v1.5M367.6,589.8v1.5M369.6,589.8v1.5M371.6,589.8v1.5M372.9,589.8v1.5M374.3,589.8v1.5M378.9,589.8v1.5M380.9,589.8v1.5M330.3,589.8v2.6M345.0,589.8v2.6M361.0,589.8v2.6M376.9,589.8v2.6" stroke="#111" stroke-width="0.8" fill="none"/>
<text x="329.3" y="596.0" font-size="3.4" fill="#aaa" stroke="none">0</text><text x="342.4" y="596.0" font-size="3.4" fill="#aaa" stroke="none">10<tspan font-size="2.6" dy="-1.3">3</tspan></text><text x="358.4" y="596.0" font-size="3.4" fill="#aaa" stroke="none">10<tspan font-size="2.6" dy="-1.3">4</tspan></text><text x="374.3" y="596.0" font-size="3.4" fill="#aaa" stroke="none">10<tspan font-size="2.6" dy="-1.3">5</tspan></text>
<path d="M317.0,523.5 V589.8 H383.6" fill="none" stroke="#111" stroke-width="1.3"/>
<path d="M342.8,558.1h1.1v1.1h-1.1zM364.5,550.9h1.1v1.1h-1.1zM368.9,557.7h1.1v1.1h-1.1zM351.2,550.5h1.1v1.1h-1.1zM368.2,551.0h1.1v1.1h-1.1zM328.4,555.1h1.1v1.1h-1.1zM365.6,551.3h1.1v1.1h-1.1zM346.0,551.2h1.1v1.1h-1.1zM335.5,550.6h1.1v1.1h-1.1zM334.6,551.1h1.1v1.1h-1.1zM360.7,547.9h1.1v1.1h-1.1zM332.8,545.8h1.1v1.1h-1.1zM379.1,554.8h1.1v1.1h-1.1zM358.7,552.5h1.1v1.1h-1.1zM328.1,553.6h1.1v1.1h-1.1zM341.3,555.6h1.1v1.1h-1.1zM351.0,549.3h1.1v1.1h-1.1zM354.1,549.0h1.1v1.1h-1.1zM357.5,549.9h1.1v1.1h-1.1zM343.6,549.6h1.1v1.1h-1.1zM335.7,555.3h1.1v1.1h-1.1zM367.8,550.5h1.1v1.1h-1.1zM359.7,549.5h1.1v1.1h-1.1zM340.9,554.0h1.1v1.1h-1.1zM343.2,548.9h1.1v1.1h-1.1zM348.4,546.8h1.1v1.1h-1.1zM352.5,553.5h1.1v1.1h-1.1zM327.4,554.7h1.1v1.1h-1.1zM338.2,550.0h1.1v1.1h-1.1zM340.9,553.9h1.1v1.1h-1.1zM364.8,544.3h1.1v1.1h-1.1zM350.4,551.0h1.1v1.1h-1.1zM328.6,552.5h1.1v1.1h-1.1zM337.0,549.6h1.1v1.1h-1.1zM343.1,550.5h1.1v1.1h-1.1zM355.5,552.9h1.1v1.1h-1.1zM342.5,553.4h1.1v1.1h-1.1zM342.1,547.7h1.1v1.1h-1.1zM360.9,554.3h1.1v1.1h-1.1zM339.1,546.7h1.1v1.1h-1.1zM349.1,559.2h1.1v1.1h-1.1zM360.8,548.0h1.1v1.1h-1.1zM336.7,549.2h1.1v1.1h-1.1zM357.5,549.0h1.1v1.1h-1.1zM351.5,561.1h1.1v1.1h-1.1zM380.9,549.7h1.1v1.1h-1.1zM352.1,552.8h1.1v1.1h-1.1zM341.5,561.5h1.1v1.1h-1.1zM353.9,558.5h1.1v1.1h-1.1zM354.3,545.2h1.1v1.1h-1.1zM366.2,552.4h1.1v1.1h-1.1zM350.0,553.0h1.1v1.1h-1.1zM356.5,554.4h1.1v1.1h-1.1zM331.8,550.8h1.1v1.1h-1.1zM367.3,550.2h1.1v1.1h-1.1zM345.8,541.6h1.1v1.1h-1.1zM324.9,544.6h1.1v1.1h-1.1zM348.3,552.5h1.1v1.1h-1.1zM324.9,546.4h1.1v1.1h-1.1zM360.1,548.3h1.1v1.1h-1.1z" fill="#9aa6d6" opacity="0.45"/>
<g opacity="0.85">
<path d="M336.5,580.5 L331.5,580.9 L326.5,580.3 L322.0,578.8 L318.4,576.5 L316.0,573.5 L315.3,572.0 L314.9,570.0 L314.9,568.5 L315.4,566.5 L317.2,563.5 L319.3,561.5 L322.0,559.9 L325.0,558.7 L329.0,557.9 L332.5,557.7 L341.5,558.0 L348.5,556.9 L351.0,556.7 L354.0,557.3 L356.1,558.5 L357.6,560.5 L358.1,563.5 L357.2,567.0 L355.3,570.0 L351.0,573.8 L346.0,577.2 L341.5,579.2 L336.5,580.5Z" fill="#bccaee" filter="url(#g1)"/>
<path d="M334.5,579.0 L330.5,579.2 L326.5,578.7 L322.5,577.1 L319.5,574.8 L317.6,572.0 L317.1,569.0 L317.9,566.0 L319.8,563.5 L322.0,561.8 L324.5,560.6 L327.5,559.7 L330.5,559.3 L334.0,559.4 L342.5,560.2 L349.5,560.1 L351.5,560.7 L352.7,561.5 L353.6,563.5 L353.4,566.0 L352.2,568.5 L350.3,570.5 L345.5,574.4 L342.0,576.6 L338.0,578.3 L334.5,579.0Z" fill="#96b0e2" filter="url(#g2)"/>
<path d="M334.5,577.1 L331.0,577.4 L327.5,577.1 L324.0,575.8 L321.6,574.0 L320.1,572.0 L319.4,569.5 L319.9,567.0 L321.6,564.5 L323.5,563.0 L326.0,561.9 L329.0,561.2 L332.0,561.0 L335.5,561.4 L339.5,562.3 L343.5,563.7 L345.8,565.0 L346.5,566.0 L346.5,567.5 L345.6,569.5 L344.0,571.5 L341.9,573.5 L339.5,575.2 L337.0,576.4 L334.5,577.1Z" fill="#6e9ad8" filter="url(#g2)"/>
<path d="M334.0,575.6 L331.0,576.0 L328.0,575.7 L325.5,574.9 L323.4,573.5 L321.8,571.5 L321.3,569.5 L321.6,567.5 L322.8,565.5 L324.5,564.1 L326.5,563.2 L328.5,562.6 L331.0,562.4 L333.5,562.7 L336.0,563.3 L338.5,564.3 L340.2,565.5 L341.1,566.5 L341.6,568.0 L341.4,569.5 L340.7,571.0 L339.5,572.5 L338.0,573.8 L336.0,574.9 L334.0,575.6Z" fill="#4eaac8" filter="url(#bl)"/>
<path d="M332.0,574.5 L329.5,574.6 L327.5,574.3 L325.5,573.4 L323.9,572.0 L323.1,570.5 L322.9,568.5 L323.5,567.0 L324.9,565.5 L326.5,564.5 L328.0,564.0 L331.5,563.8 L335.0,564.7 L337.5,566.5 L338.2,567.5 L338.4,569.0 L338.3,570.0 L337.5,571.5 L335.1,573.5 L332.0,574.5Z" fill="#6cbe7a" filter="url(#bl)"/>
<path d="M332.0,573.1 L330.5,573.3 L328.5,573.2 L327.0,572.6 L325.5,571.5 L324.8,570.5 L324.5,569.0 L324.8,568.0 L325.5,566.9 L327.5,565.6 L330.0,565.1 L333.0,565.6 L335.0,566.9 L335.9,568.5 L335.6,570.5 L334.3,572.0 L332.0,573.1Z" fill="#a8c84a" filter="url(#bl)"/>
<path d="M331.5,572.0 L329.0,572.1 L327.5,571.6 L326.7,571.0 L325.9,569.5 L326.0,568.5 L326.6,567.5 L328.0,566.6 L330.0,566.2 L332.0,566.5 L333.4,567.5 L334.0,568.5 L334.0,570.0 L333.0,571.2 L331.5,572.0Z" fill="#dcc83a" filter="url(#bl)"/>
<path d="M331.5,570.5 L330.0,571.0 L328.5,570.6 L327.6,569.5 L327.7,568.5 L328.5,567.8 L329.5,567.5 L330.5,567.5 L331.5,567.9 L332.3,569.0 L332.0,570.0 L331.5,570.5Z" fill="#e69c2c" filter="url(#bl)"/>
</g>
<rect x="320.6" y="530.0" width="58.4" height="28.1" fill="none" stroke="#000" stroke-width="1.6"/>
<text x="379.40" y="583.50" font-size="11.4" text-anchor="end">6.4</text>
<path d="M383.6,597.9 V664.1999999999999" fill="none" stroke="#9a9a9a" stroke-width="0.8"/>
<path d="M314.6,604.5h2.4M314.6,617.8h2.4M314.6,633.7h2.4M314.6,649.0h2.4M314.6,654.9h2.4M315.7,609.2h1.3M315.7,612.5h1.3M315.7,614.5h1.3M315.7,622.4h1.3M315.7,625.7h1.3M315.7,628.4h1.3M315.7,630.4h1.3M315.7,638.3h1.3M315.7,641.7h1.3M315.7,643.6h1.3M315.7,645.6h1.3M315.7,651.6h1.3M315.7,653.6h1.3M315.7,657.6h1.3M315.7,659.6h1.3M315.7,661.5h1.3" stroke="#111" stroke-width="0.7" fill="none"/>
<text x="309.8" y="605.9" font-size="3.4" fill="#999" stroke="none">10<tspan font-size="2.6" dy="-1.3">5</tspan></text><text x="309.8" y="619.2" font-size="3.4" fill="#999" stroke="none">10<tspan font-size="2.6" dy="-1.3">4</tspan></text><text x="309.8" y="635.1" font-size="3.4" fill="#999" stroke="none">10<tspan font-size="2.6" dy="-1.3">3</tspan></text><text x="309.8" y="650.4" font-size="3.4" fill="#999" stroke="none">10<tspan font-size="2.6" dy="-1.3">2</tspan></text><text x="312.8" y="656.3" font-size="3.4" fill="#999" stroke="none">0</text>
<path d="M319.0,664.2v1.5M321.7,664.2v1.5M323.7,664.2v1.5M325.7,664.2v1.5M327.7,664.2v1.5M333.0,664.2v1.5M335.6,664.2v1.5M337.6,664.2v1.5M339.6,664.2v1.5M341.6,664.2v1.5M343.0,664.2v1.5M347.0,664.2v1.5M349.0,664.2v1.5M351.6,664.2v1.5M353.6,664.2v1.5M355.6,664.2v1.5M357.0,664.2v1.5M358.3,664.2v1.5M363.0,664.2v1.5M365.0,664.2v1.5M367.6,664.2v1.5M369.6,664.2v1.5M371.6,664.2v1.5M372.9,664.2v1.5M374.3,664.2v1.5M378.9,664.2v1.5M380.9,664.2v1.5M330.3,664.2v2.6M345.0,664.2v2.6M361.0,664.2v2.6M376.9,664.2v2.6" stroke="#111" stroke-width="0.8" fill="none"/>
<text x="329.3" y="670.4" font-size="3.4" fill="#aaa" stroke="none">0</text><text x="342.4" y="670.4" font-size="3.4" fill="#aaa" stroke="none">10<tspan font-size="2.6" dy="-1.3">3</tspan></text><text x="358.4" y="670.4" font-size="3.4" fill="#aaa" stroke="none">10<tspan font-size="2.6" dy="-1.3">4</tspan></text><text x="374.3" y="670.4" font-size="3.4" fill="#aaa" stroke="none">10<tspan font-size="2.6" dy="-1.3">5</tspan></text>
<path d="M317.0,597.9 V664.1999999999999 H383.6" fill="none" stroke="#111" stroke-width="1.3"/>
<path d="M318.1,627.9h1.1v1.1h-1.1zM333.6,621.3h1.1v1.1h-1.1zM356.0,633.0h1.1v1.1h-1.1zM327.6,635.2h1.1v1.1h-1.1zM340.7,631.2h1.1v1.1h-1.1zM346.0,630.1h1.1v1.1h-1.1zM332.4,622.8h1.1v1.1h-1.1zM350.8,633.6h1.1v1.1h-1.1zM361.1,623.1h1.1v1.1h-1.1zM347.5,631.3h1.1v1.1h-1.1zM359.5,630.9h1.1v1.1h-1.1zM374.8,627.8h1.1v1.1h-1.1zM366.3,626.6h1.1v1.1h-1.1zM357.4,623.3h1.1v1.1h-1.1zM363.9,625.9h1.1v1.1h-1.1zM331.0,624.5h1.1v1.1h-1.1zM341.6,621.9h1.1v1.1h-1.1zM344.5,621.9h1.1v1.1h-1.1zM339.7,629.8h1.1v1.1h-1.1zM362.3,632.0h1.1v1.1h-1.1zM366.8,622.3h1.1v1.1h-1.1zM355.8,617.5h1.1v1.1h-1.1zM345.5,623.8h1.1v1.1h-1.1zM353.0,621.5h1.1v1.1h-1.1zM345.9,623.1h1.1v1.1h-1.1zM335.8,627.7h1.1v1.1h-1.1zM366.8,625.8h1.1v1.1h-1.1zM329.1,625.5h1.1v1.1h-1.1zM366.8,622.8h1.1v1.1h-1.1zM364.1,627.9h1.1v1.1h-1.1zM327.8,624.4h1.1v1.1h-1.1zM346.7,625.8h1.1v1.1h-1.1zM356.6,626.0h1.1v1.1h-1.1zM370.0,631.4h1.1v1.1h-1.1zM320.8,623.5h1.1v1.1h-1.1zM333.9,629.0h1.1v1.1h-1.1zM348.9,624.7h1.1v1.1h-1.1zM348.9,631.0h1.1v1.1h-1.1zM343.2,625.1h1.1v1.1h-1.1zM350.8,626.2h1.1v1.1h-1.1zM358.6,631.0h1.1v1.1h-1.1zM330.4,627.9h1.1v1.1h-1.1zM377.7,620.8h1.1v1.1h-1.1zM356.3,621.9h1.1v1.1h-1.1zM343.0,636.2h1.1v1.1h-1.1zM342.2,618.7h1.1v1.1h-1.1zM341.6,624.4h1.1v1.1h-1.1zM345.9,633.5h1.1v1.1h-1.1zM334.1,617.8h1.1v1.1h-1.1zM350.4,622.5h1.1v1.1h-1.1zM334.1,623.9h1.1v1.1h-1.1zM350.3,620.8h1.1v1.1h-1.1zM367.6,626.3h1.1v1.1h-1.1zM343.7,627.4h1.1v1.1h-1.1zM355.8,624.4h1.1v1.1h-1.1zM352.0,621.2h1.1v1.1h-1.1zM349.6,630.2h1.1v1.1h-1.1zM343.3,630.2h1.1v1.1h-1.1zM356.6,626.9h1.1v1.1h-1.1z" fill="#9aa6d6" opacity="0.45"/>
<g opacity="0.85">
<path d="M335.0,655.4 L330.0,655.6 L325.0,654.7 L321.0,653.0 L317.6,650.4 L315.6,647.4 L315.1,645.9 L314.8,643.9 L315.1,641.9 L315.7,640.4 L317.9,637.4 L320.0,635.7 L323.0,634.1 L326.0,633.2 L329.5,632.6 L341.5,632.7 L348.5,631.6 L351.0,631.4 L354.0,632.0 L356.3,633.4 L357.2,634.4 L357.8,635.9 L358.0,638.9 L356.9,642.4 L354.6,645.4 L350.0,649.3 L345.0,652.4 L340.5,654.3 L335.0,655.4Z" fill="#bccaee" filter="url(#g1)"/>
<path d="M332.5,653.9 L328.5,653.7 L324.5,652.7 L321.0,650.9 L318.6,648.4 L317.3,645.9 L317.2,642.9 L318.4,639.9 L320.5,637.5 L322.5,636.2 L325.0,635.1 L328.0,634.3 L331.0,634.0 L334.5,634.1 L342.0,634.9 L349.5,634.8 L351.5,635.4 L352.9,636.4 L353.6,638.4 L353.4,640.9 L352.0,643.4 L349.6,645.9 L345.0,649.5 L341.0,651.8 L337.0,653.2 L332.5,653.9Z" fill="#96b0e2" filter="url(#g2)"/>
<path d="M333.5,652.0 L330.0,652.1 L326.5,651.5 L323.5,650.2 L321.3,648.4 L319.8,645.9 L319.5,643.4 L320.3,640.9 L322.0,638.8 L324.5,637.2 L327.0,636.3 L329.5,635.8 L332.5,635.7 L336.0,636.2 L340.7,637.4 L344.0,638.6 L346.0,639.9 L346.6,641.4 L346.3,642.9 L345.1,644.9 L342.8,647.4 L340.5,649.3 L338.5,650.4 L336.0,651.4 L333.5,652.0Z" fill="#6e9ad8" filter="url(#g2)"/>
<path d="M333.0,650.5 L330.0,650.7 L327.0,650.2 L324.5,649.0 L322.6,647.4 L321.5,645.4 L321.3,643.4 L322.0,641.4 L323.5,639.6 L325.5,638.3 L327.5,637.6 L329.5,637.2 L332.0,637.2 L334.5,637.6 L337.1,638.4 L339.1,639.4 L340.9,640.9 L341.5,641.9 L341.6,643.4 L341.2,644.9 L340.2,646.4 L338.7,647.9 L337.0,649.1 L333.0,650.5Z" fill="#4eaac8" filter="url(#bl)"/>
<path d="M333.0,649.0 L331.0,649.3 L328.5,649.2 L326.5,648.6 L324.6,647.4 L323.4,645.9 L322.9,644.4 L323.2,642.4 L324.1,640.9 L325.5,639.8 L327.0,639.0 L330.5,638.4 L332.5,638.6 L334.5,639.2 L337.2,640.9 L338.4,642.9 L338.4,644.4 L338.0,645.4 L336.0,647.6 L333.0,649.0Z" fill="#6cbe7a" filter="url(#bl)"/>
<path d="M331.5,647.9 L329.5,648.0 L328.0,647.7 L326.5,647.1 L325.2,645.9 L324.7,644.9 L324.6,643.4 L325.0,642.3 L326.0,641.1 L328.0,640.1 L331.0,639.8 L333.5,640.5 L335.2,641.9 L335.9,643.4 L335.5,645.4 L334.0,646.9 L331.5,647.9Z" fill="#a8c84a" filter="url(#bl)"/>
<path d="M330.0,646.9 L328.5,646.7 L327.0,646.0 L326.2,644.9 L325.9,643.9 L326.2,642.9 L327.0,641.9 L328.5,641.1 L330.0,640.9 L331.5,641.1 L333.0,641.8 L333.9,642.9 L334.1,643.9 L333.9,644.9 L333.0,645.9 L331.5,646.7 L330.0,646.9Z" fill="#dcc83a" filter="url(#bl)"/>
<path d="M331.0,645.5 L329.5,645.6 L328.0,645.0 L327.5,643.9 L328.0,642.9 L329.0,642.3 L330.0,642.1 L331.0,642.3 L331.9,642.9 L332.2,643.4 L332.2,644.4 L331.0,645.5Z" fill="#e69c2c" filter="url(#bl)"/>
</g>
<rect x="320.6" y="604.4" width="58.4" height="28.1" fill="none" stroke="#000" stroke-width="1.6"/>
<text x="379.40" y="657.90" font-size="11.4" text-anchor="end">3.6</text>
<path d="M460.2,299.5 V365.8" fill="none" stroke="#9a9a9a" stroke-width="0.8"/>
<path d="M390.2,306.1h2.4M390.2,319.4h2.4M390.2,335.3h2.4M390.2,350.6h2.4M390.2,356.5h2.4M391.3,310.8h1.3M391.3,314.1h1.3M391.3,316.1h1.3M391.3,324.0h1.3M391.3,327.3h1.3M391.3,330.0h1.3M391.3,332.0h1.3M391.3,339.9h1.3M391.3,343.3h1.3M391.3,345.2h1.3M391.3,347.2h1.3M391.3,353.2h1.3M391.3,355.2h1.3M391.3,359.2h1.3M391.3,361.2h1.3M391.3,363.1h1.3" stroke="#111" stroke-width="0.7" fill="none"/>
<text x="385.4" y="307.5" font-size="3.4" fill="#999" stroke="none">10<tspan font-size="2.6" dy="-1.3">5</tspan></text><text x="385.4" y="320.8" font-size="3.4" fill="#999" stroke="none">10<tspan font-size="2.6" dy="-1.3">4</tspan></text><text x="385.4" y="336.7" font-size="3.4" fill="#999" stroke="none">10<tspan font-size="2.6" dy="-1.3">3</tspan></text><text x="385.4" y="352.0" font-size="3.4" fill="#999" stroke="none">10<tspan font-size="2.6" dy="-1.3">2</tspan></text><text x="388.4" y="357.9" font-size="3.4" fill="#999" stroke="none">0</text>
<path d="M394.6,365.8v1.5M397.3,365.8v1.5M399.4,365.8v1.5M401.4,365.8v1.5M403.4,365.8v1.5M408.8,365.8v1.5M411.5,365.8v1.5M413.6,365.8v1.5M415.6,365.8v1.5M417.6,365.8v1.5M419.0,365.8v1.5M423.0,365.8v1.5M425.0,365.8v1.5M427.8,365.8v1.5M429.8,365.8v1.5M431.8,365.8v1.5M433.2,365.8v1.5M434.5,365.8v1.5M439.2,365.8v1.5M441.3,365.8v1.5M444.0,365.8v1.5M446.0,365.8v1.5M448.0,365.8v1.5M449.4,365.8v1.5M450.7,365.8v1.5M455.5,365.8v1.5M457.5,365.8v1.5M406.1,365.8v2.6M421.0,365.8v2.6M437.2,365.8v2.6M453.4,365.8v2.6" stroke="#111" stroke-width="0.8" fill="none"/>
<text x="405.1" y="372.0" font-size="3.4" fill="#aaa" stroke="none">0</text><text x="418.4" y="372.0" font-size="3.4" fill="#aaa" stroke="none">10<tspan font-size="2.6" dy="-1.3">3</tspan></text><text x="434.6" y="372.0" font-size="3.4" fill="#aaa" stroke="none">10<tspan font-size="2.6" dy="-1.3">4</tspan></text><text x="450.8" y="372.0" font-size="3.4" fill="#aaa" stroke="none">10<tspan font-size="2.6" dy="-1.3">5</tspan></text>
<path d="M392.6,299.5 V365.8 H460.2" fill="none" stroke="#111" stroke-width="1.3"/>
<path d="M427.0,322.6h1.1v1.1h-1.1zM437.5,331.3h1.1v1.1h-1.1zM420.8,322.0h1.1v1.1h-1.1zM433.2,332.5h1.1v1.1h-1.1zM419.5,325.9h1.1v1.1h-1.1zM419.9,323.6h1.1v1.1h-1.1zM408.9,333.4h1.1v1.1h-1.1zM406.2,327.7h1.1v1.1h-1.1zM415.7,323.7h1.1v1.1h-1.1zM422.4,328.4h1.1v1.1h-1.1zM399.5,325.9h1.1v1.1h-1.1z" fill="#9aa6d6" opacity="0.45"/>
<g filter="url(#hz)" opacity="0.5"><ellipse cx="419" cy="346.0" rx="10" ry="5" fill="#c8cee6"/></g>
<path d="M414.0,343.4h1.1v1.1h-1.1zM427.1,332.8h1.1v1.1h-1.1zM412.8,344.6h1.1v1.1h-1.1zM426.5,352.8h1.1v1.1h-1.1zM414.4,349.3h1.1v1.1h-1.1zM404.4,340.1h1.1v1.1h-1.1zM426.5,347.9h1.1v1.1h-1.1zM422.2,351.4h1.1v1.1h-1.1zM415.3,354.0h1.1v1.1h-1.1zM406.2,349.0h1.1v1.1h-1.1zM414.3,350.8h1.1v1.1h-1.1zM420.7,350.4h1.1v1.1h-1.1zM421.9,344.7h1.1v1.1h-1.1zM412.4,341.0h1.1v1.1h-1.1zM416.8,348.2h1.1v1.1h-1.1zM425.2,341.8h1.1v1.1h-1.1zM410.9,345.2h1.1v1.1h-1.1zM421.4,356.7h1.1v1.1h-1.1zM424.2,346.7h1.1v1.1h-1.1zM433.7,346.1h1.1v1.1h-1.1zM420.0,352.2h1.1v1.1h-1.1zM433.8,343.5h1.1v1.1h-1.1zM421.8,358.9h1.1v1.1h-1.1zM415.7,351.5h1.1v1.1h-1.1zM425.2,344.9h1.1v1.1h-1.1zM433.0,343.6h1.1v1.1h-1.1zM416.9,341.3h1.1v1.1h-1.1zM420.8,351.4h1.1v1.1h-1.1zM416.4,342.5h1.1v1.1h-1.1zM421.1,336.7h1.1v1.1h-1.1zM416.2,351.2h1.1v1.1h-1.1zM419.5,347.2h1.1v1.1h-1.1zM405.9,348.1h1.1v1.1h-1.1zM419.6,348.6h1.1v1.1h-1.1zM424.6,339.0h1.1v1.1h-1.1zM429.3,340.4h1.1v1.1h-1.1zM419.7,346.2h1.1v1.1h-1.1zM417.0,339.4h1.1v1.1h-1.1zM421.7,346.1h1.1v1.1h-1.1zM421.2,348.9h1.1v1.1h-1.1zM425.7,347.4h1.1v1.1h-1.1zM430.1,346.6h1.1v1.1h-1.1zM405.4,339.3h1.1v1.1h-1.1zM426.3,343.5h1.1v1.1h-1.1zM423.5,351.3h1.1v1.1h-1.1zM412.7,341.6h1.1v1.1h-1.1zM411.0,346.3h1.1v1.1h-1.1zM416.4,339.7h1.1v1.1h-1.1zM430.7,351.8h1.1v1.1h-1.1zM432.9,342.5h1.1v1.1h-1.1zM424.2,345.4h1.1v1.1h-1.1zM419.1,346.7h1.1v1.1h-1.1zM410.2,348.2h1.1v1.1h-1.1zM427.0,352.1h1.1v1.1h-1.1zM422.0,348.3h1.1v1.1h-1.1zM416.5,344.0h1.1v1.1h-1.1zM399.3,340.4h1.1v1.1h-1.1zM430.4,347.7h1.1v1.1h-1.1zM429.8,353.7h1.1v1.1h-1.1zM420.6,337.2h1.1v1.1h-1.1zM421.0,349.2h1.1v1.1h-1.1zM405.8,342.1h1.1v1.1h-1.1zM424.6,345.2h1.1v1.1h-1.1zM435.4,346.3h1.1v1.1h-1.1zM429.0,347.3h1.1v1.1h-1.1zM436.7,354.7h1.1v1.1h-1.1zM418.4,348.2h1.1v1.1h-1.1zM415.8,345.2h1.1v1.1h-1.1zM404.9,348.3h1.1v1.1h-1.1zM428.8,345.5h1.1v1.1h-1.1z" fill="#a8b2d6" opacity="0.55"/>
<rect x="396.2" y="306.0" width="58.4" height="28.1" fill="none" stroke="#000" stroke-width="1.6"/>
<text x="455.00" y="359.50" font-size="11.4" text-anchor="end">8.4</text>
<path d="M460.2,374.8 V441.1" fill="none" stroke="#9a9a9a" stroke-width="0.8"/>
<path d="M390.2,381.4h2.4M390.2,394.7h2.4M390.2,410.6h2.4M390.2,425.9h2.4M390.2,431.8h2.4M391.3,386.1h1.3M391.3,389.4h1.3M391.3,391.4h1.3M391.3,399.3h1.3M391.3,402.6h1.3M391.3,405.3h1.3M391.3,407.3h1.3M391.3,415.2h1.3M391.3,418.6h1.3M391.3,420.5h1.3M391.3,422.5h1.3M391.3,428.5h1.3M391.3,430.5h1.3M391.3,434.5h1.3M391.3,436.5h1.3M391.3,438.4h1.3" stroke="#111" stroke-width="0.7" fill="none"/>
<text x="385.4" y="382.8" font-size="3.4" fill="#999" stroke="none">10<tspan font-size="2.6" dy="-1.3">5</tspan></text><text x="385.4" y="396.1" font-size="3.4" fill="#999" stroke="none">10<tspan font-size="2.6" dy="-1.3">4</tspan></text><text x="385.4" y="412.0" font-size="3.4" fill="#999" stroke="none">10<tspan font-size="2.6" dy="-1.3">3</tspan></text><text x="385.4" y="427.3" font-size="3.4" fill="#999" stroke="none">10<tspan font-size="2.6" dy="-1.3">2</tspan></text><text x="388.4" y="433.2" font-size="3.4" fill="#999" stroke="none">0</text>
<path d="M394.6,441.1v1.5M397.3,441.1v1.5M399.4,441.1v1.5M401.4,441.1v1.5M403.4,441.1v1.5M408.8,441.1v1.5M411.5,441.1v1.5M413.6,441.1v1.5M415.6,441.1v1.5M417.6,441.1v1.5M419.0,441.1v1.5M423.0,441.1v1.5M425.0,441.1v1.5M427.8,441.1v1.5M429.8,441.1v1.5M431.8,441.1v1.5M433.2,441.1v1.5M434.5,441.1v1.5M439.2,441.1v1.5M441.3,441.1v1.5M444.0,441.1v1.5M446.0,441.1v1.5M448.0,441.1v1.5M449.4,441.1v1.5M450.7,441.1v1.5M455.5,441.1v1.5M457.5,441.1v1.5M406.1,441.1v2.6M421.0,441.1v2.6M437.2,441.1v2.6M453.4,441.1v2.6" stroke="#111" stroke-width="0.8" fill="none"/>
<text x="405.1" y="447.3" font-size="3.4" fill="#aaa" stroke="none">0</text><text x="418.4" y="447.3" font-size="3.4" fill="#aaa" stroke="none">10<tspan font-size="2.6" dy="-1.3">3</tspan></text><text x="434.6" y="447.3" font-size="3.4" fill="#aaa" stroke="none">10<tspan font-size="2.6" dy="-1.3">4</tspan></text><text x="450.8" y="447.3" font-size="3.4" fill="#aaa" stroke="none">10<tspan font-size="2.6" dy="-1.3">5</tspan></text>
<path d="M392.6,374.8 V441.1 H460.2" fill="none" stroke="#111" stroke-width="1.3"/>
<path d="M410.1,402.0h1.1v1.1h-1.1zM441.1,401.6h1.1v1.1h-1.1zM419.2,399.3h1.1v1.1h-1.1zM417.3,402.9h1.1v1.1h-1.1zM434.8,401.5h1.1v1.1h-1.1zM441.6,402.5h1.1v1.1h-1.1zM437.5,407.5h1.1v1.1h-1.1zM415.9,405.2h1.1v1.1h-1.1zM414.5,405.1h1.1v1.1h-1.1zM429.5,412.1h1.1v1.1h-1.1zM414.7,400.1h1.1v1.1h-1.1zM428.6,403.5h1.1v1.1h-1.1zM439.7,398.0h1.1v1.1h-1.1zM417.2,402.0h1.1v1.1h-1.1zM429.9,409.6h1.1v1.1h-1.1zM425.4,398.3h1.1v1.1h-1.1zM406.8,405.8h1.1v1.1h-1.1zM418.4,408.1h1.1v1.1h-1.1zM430.0,403.4h1.1v1.1h-1.1zM410.9,406.7h1.1v1.1h-1.1zM417.2,403.2h1.1v1.1h-1.1zM422.9,401.5h1.1v1.1h-1.1zM426.6,402.9h1.1v1.1h-1.1zM427.5,399.9h1.1v1.1h-1.1zM423.1,400.9h1.1v1.1h-1.1zM421.0,401.6h1.1v1.1h-1.1zM429.8,411.9h1.1v1.1h-1.1zM406.5,401.9h1.1v1.1h-1.1zM425.3,400.3h1.1v1.1h-1.1zM441.3,409.8h1.1v1.1h-1.1zM434.6,399.0h1.1v1.1h-1.1zM405.1,410.4h1.1v1.1h-1.1zM440.3,406.9h1.1v1.1h-1.1zM423.8,404.5h1.1v1.1h-1.1zM401.5,402.6h1.1v1.1h-1.1zM429.5,400.1h1.1v1.1h-1.1zM423.1,397.9h1.1v1.1h-1.1zM420.4,398.3h1.1v1.1h-1.1zM420.0,401.6h1.1v1.1h-1.1zM427.1,402.0h1.1v1.1h-1.1zM444.0,409.1h1.1v1.1h-1.1zM413.4,403.3h1.1v1.1h-1.1zM418.0,412.6h1.1v1.1h-1.1zM412.3,406.2h1.1v1.1h-1.1zM405.9,399.7h1.1v1.1h-1.1zM426.1,404.1h1.1v1.1h-1.1zM424.1,399.1h1.1v1.1h-1.1zM420.1,396.1h1.1v1.1h-1.1zM413.4,410.1h1.1v1.1h-1.1zM409.7,401.5h1.1v1.1h-1.1zM422.0,399.8h1.1v1.1h-1.1zM417.6,398.7h1.1v1.1h-1.1zM428.1,405.0h1.1v1.1h-1.1zM431.3,402.6h1.1v1.1h-1.1zM418.0,393.8h1.1v1.1h-1.1zM402.4,405.6h1.1v1.1h-1.1zM415.2,400.6h1.1v1.1h-1.1zM429.9,406.5h1.1v1.1h-1.1zM415.1,403.0h1.1v1.1h-1.1zM413.5,404.2h1.1v1.1h-1.1z" fill="#9aa6d6" opacity="0.45"/>
<g opacity="0.85">
<path d="M420.1,430.3 L413.1,430.4 L409.1,430.1 L405.6,429.2 L403.1,427.8 L401.3,425.8 L400.3,422.8 L400.2,417.3 L400.8,413.8 L402.5,411.3 L404.6,409.8 L408.1,408.7 L415.7,407.3 L417.7,406.3 L421.1,404.0 L425.1,402.0 L427.0,400.3 L429.1,396.8 L430.6,395.1 L432.1,394.3 L434.1,394.4 L435.6,395.4 L436.9,397.3 L437.6,399.8 L437.7,402.8 L437.1,405.8 L434.7,411.3 L433.6,414.8 L431.2,424.8 L430.0,426.8 L427.6,428.7 L424.6,429.7 L420.1,430.3Z" fill="#c8cce0" filter="url(#g1)"/>
<path d="M420.1,428.3 L414.1,428.4 L410.6,428.2 L407.6,427.5 L405.3,426.3 L404.0,424.8 L403.1,422.3 L402.9,417.8 L403.4,414.8 L405.1,412.4 L408.1,410.9 L416.6,409.3 L424.1,406.4 L427.1,406.0 L429.6,406.3 L430.2,406.8 L430.7,407.8 L431.0,412.3 L430.5,415.8 L428.6,423.8 L427.2,425.8 L425.6,427.0 L423.1,427.9 L420.1,428.3Z" fill="#a4acc8" filter="url(#g2)"/>
<path d="M419.1,426.3 L414.6,426.5 L411.6,426.3 L409.1,425.6 L407.6,424.8 L406.3,423.3 L405.6,421.3 L405.4,418.3 L405.9,415.8 L407.4,413.8 L410.1,412.4 L417.1,411.3 L422.6,409.9 L424.1,409.8 L425.6,410.1 L427.1,411.3 L427.6,412.3 L427.9,413.8 L427.6,416.3 L426.0,422.3 L425.1,423.9 L423.6,425.1 L421.6,425.9 L419.1,426.3Z" fill="#8890ac" filter="url(#g2)"/>
<path d="M417.1,423.8 L414.6,424.0 L412.6,423.9 L410.7,423.3 L409.3,422.3 L408.4,420.8 L408.1,418.8 L408.3,417.3 L409.2,415.8 L411.1,414.6 L413.6,414.0 L420.6,413.8 L422.6,414.4 L423.2,415.3 L423.3,416.8 L421.7,421.3 L420.1,422.8 L417.1,423.8Z" fill="#6c7490" filter="url(#g3)"/>
<path d="M415.1,420.4 L413.6,420.5 L412.6,420.1 L412.0,418.8 L412.4,417.8 L413.1,417.3 L414.1,417.1 L415.6,417.3 L416.3,417.8 L416.6,418.3 L416.5,419.3 L416.1,419.9 L415.1,420.4Z" fill="#7c8070" filter="url(#bl)"/>
</g>
<rect x="396.2" y="381.3" width="58.4" height="28.1" fill="none" stroke="#000" stroke-width="1.6"/>
<text x="455.00" y="434.80" font-size="11.4" text-anchor="end">20</text>
<path d="M460.2,448.5 V514.8" fill="none" stroke="#9a9a9a" stroke-width="0.8"/>
<path d="M390.2,455.1h2.4M390.2,468.4h2.4M390.2,484.3h2.4M390.2,499.6h2.4M390.2,505.5h2.4M391.3,459.8h1.3M391.3,463.1h1.3M391.3,465.1h1.3M391.3,473.0h1.3M391.3,476.3h1.3M391.3,479.0h1.3M391.3,481.0h1.3M391.3,488.9h1.3M391.3,492.3h1.3M391.3,494.2h1.3M391.3,496.2h1.3M391.3,502.2h1.3M391.3,504.2h1.3M391.3,508.2h1.3M391.3,510.2h1.3M391.3,512.1h1.3" stroke="#111" stroke-width="0.7" fill="none"/>
<text x="385.4" y="456.5" font-size="3.4" fill="#999" stroke="none">10<tspan font-size="2.6" dy="-1.3">5</tspan></text><text x="385.4" y="469.8" font-size="3.4" fill="#999" stroke="none">10<tspan font-size="2.6" dy="-1.3">4</tspan></text><text x="385.4" y="485.7" font-size="3.4" fill="#999" stroke="none">10<tspan font-size="2.6" dy="-1.3">3</tspan></text><text x="385.4" y="501.0" font-size="3.4" fill="#999" stroke="none">10<tspan font-size="2.6" dy="-1.3">2</tspan></text><text x="388.4" y="506.9" font-size="3.4" fill="#999" stroke="none">0</text>
<path d="M394.6,514.8v1.5M397.3,514.8v1.5M399.4,514.8v1.5M401.4,514.8v1.5M403.4,514.8v1.5M408.8,514.8v1.5M411.5,514.8v1.5M413.6,514.8v1.5M415.6,514.8v1.5M417.6,514.8v1.5M419.0,514.8v1.5M423.0,514.8v1.5M425.0,514.8v1.5M427.8,514.8v1.5M429.8,514.8v1.5M431.8,514.8v1.5M433.2,514.8v1.5M434.5,514.8v1.5M439.2,514.8v1.5M441.3,514.8v1.5M444.0,514.8v1.5M446.0,514.8v1.5M448.0,514.8v1.5M449.4,514.8v1.5M450.7,514.8v1.5M455.5,514.8v1.5M457.5,514.8v1.5M406.1,514.8v2.6M421.0,514.8v2.6M437.2,514.8v2.6M453.4,514.8v2.6" stroke="#111" stroke-width="0.8" fill="none"/>
<text x="405.1" y="521.0" font-size="3.4" fill="#aaa" stroke="none">0</text><text x="418.4" y="521.0" font-size="3.4" fill="#aaa" stroke="none">10<tspan font-size="2.6" dy="-1.3">3</tspan></text><text x="434.6" y="521.0" font-size="3.4" fill="#aaa" stroke="none">10<tspan font-size="2.6" dy="-1.3">4</tspan></text><text x="450.8" y="521.0" font-size="3.4" fill="#aaa" stroke="none">10<tspan font-size="2.6" dy="-1.3">5</tspan></text>
<path d="M392.6,448.5 V514.8 H460.2" fill="none" stroke="#111" stroke-width="1.3"/>
<path d="M409.2,478.8h1.1v1.1h-1.1zM429.1,477.2h1.1v1.1h-1.1zM419.4,474.0h1.1v1.1h-1.1zM430.3,481.5h1.1v1.1h-1.1zM410.9,480.2h1.1v1.1h-1.1zM432.6,477.2h1.1v1.1h-1.1zM425.3,473.2h1.1v1.1h-1.1zM412.8,474.2h1.1v1.1h-1.1zM401.2,476.4h1.1v1.1h-1.1zM393.7,475.3h1.1v1.1h-1.1zM409.0,471.0h1.1v1.1h-1.1zM426.6,475.7h1.1v1.1h-1.1zM422.4,476.4h1.1v1.1h-1.1zM393.9,474.9h1.1v1.1h-1.1zM409.6,476.0h1.1v1.1h-1.1zM399.8,475.0h1.1v1.1h-1.1zM454.1,475.3h1.1v1.1h-1.1zM442.1,477.9h1.1v1.1h-1.1zM421.2,477.4h1.1v1.1h-1.1zM430.5,473.2h1.1v1.1h-1.1zM407.0,480.4h1.1v1.1h-1.1zM432.3,477.2h1.1v1.1h-1.1zM429.4,476.8h1.1v1.1h-1.1zM444.3,479.5h1.1v1.1h-1.1zM432.8,480.9h1.1v1.1h-1.1zM425.5,480.8h1.1v1.1h-1.1zM456.1,478.3h1.1v1.1h-1.1zM411.9,480.0h1.1v1.1h-1.1zM421.3,472.5h1.1v1.1h-1.1zM429.5,479.1h1.1v1.1h-1.1zM412.8,474.8h1.1v1.1h-1.1zM416.3,474.7h1.1v1.1h-1.1zM406.8,472.9h1.1v1.1h-1.1zM420.3,476.2h1.1v1.1h-1.1zM402.9,468.8h1.1v1.1h-1.1zM431.2,478.6h1.1v1.1h-1.1zM437.1,479.5h1.1v1.1h-1.1zM425.9,480.0h1.1v1.1h-1.1zM421.1,472.5h1.1v1.1h-1.1z" fill="#9aa6d6" opacity="0.45"/>
<g opacity="0.85">
<path d="M415.6,505.1 L410.6,505.4 L405.6,504.8 L401.1,503.2 L397.3,500.5 L395.1,497.5 L394.4,495.5 L394.2,494.0 L394.4,492.5 L395.0,490.5 L397.0,487.5 L399.1,485.7 L401.6,484.3 L404.6,483.2 L408.6,482.4 L412.1,482.2 L420.6,482.5 L430.1,481.2 L433.1,481.7 L435.6,483.1 L436.4,484.0 L437.2,485.5 L437.4,488.5 L436.4,492.0 L434.2,495.0 L430.1,498.6 L425.1,501.9 L420.6,503.8 L415.6,505.1Z" fill="#c0cae8" filter="url(#g1)"/>
<path d="M413.6,503.6 L409.1,503.7 L405.1,502.9 L401.6,501.4 L398.6,499.0 L397.0,496.5 L396.5,493.5 L397.3,490.5 L399.2,488.0 L401.1,486.5 L403.6,485.2 L406.6,484.3 L410.1,483.8 L413.6,483.9 L421.6,484.7 L429.1,484.7 L430.6,485.0 L432.1,486.0 L433.0,488.0 L432.8,490.5 L431.9,492.5 L429.7,495.0 L425.1,498.8 L421.1,501.3 L417.6,502.7 L413.6,503.6Z" fill="#9cb0dc" filter="url(#g2)"/>
<path d="M414.1,501.5 L410.6,501.9 L407.1,501.6 L404.1,500.6 L401.5,499.0 L399.8,497.0 L398.9,494.5 L399.1,492.0 L400.6,489.5 L402.2,488.0 L404.6,486.7 L407.6,485.8 L410.6,485.5 L414.1,485.8 L418.6,486.8 L423.1,488.3 L425.2,489.5 L425.9,490.5 L425.9,492.0 L425.0,494.0 L423.4,496.0 L421.3,498.0 L419.1,499.6 L416.6,500.8 L414.1,501.5Z" fill="#7896c8" filter="url(#g2)"/>
<path d="M413.1,500.1 L410.6,500.4 L407.6,500.2 L404.6,499.2 L402.6,497.8 L401.3,496.0 L400.7,494.0 L401.1,492.0 L402.3,490.0 L404.1,488.6 L406.1,487.7 L408.1,487.2 L410.6,487.0 L413.1,487.2 L415.6,487.9 L418.1,489.0 L419.6,490.0 L420.5,491.0 L421.0,492.5 L420.8,494.0 L420.1,495.5 L418.9,497.0 L417.1,498.4 L415.1,499.5 L413.1,500.1Z" fill="#5c9cb4" filter="url(#bl)"/>
<path d="M410.6,499.0 L408.1,498.9 L406.1,498.4 L404.1,497.1 L402.8,495.5 L402.4,494.0 L402.8,492.0 L403.9,490.5 L405.6,489.3 L407.1,488.7 L409.1,488.4 L412.6,488.6 L415.7,490.0 L416.9,491.0 L417.5,492.0 L417.7,494.0 L417.1,495.5 L416.4,496.5 L413.6,498.3 L410.6,499.0Z" fill="#6caa84" filter="url(#bl)"/>
<path d="M411.1,497.5 L409.1,497.7 L407.6,497.4 L406.1,496.8 L405.1,496.0 L404.4,495.0 L404.2,493.5 L404.7,492.0 L405.6,491.0 L407.6,490.0 L410.1,489.7 L412.6,490.3 L414.3,491.5 L415.1,493.0 L415.1,494.0 L414.8,495.0 L413.4,496.5 L411.1,497.5Z" fill="#a0ae50" filter="url(#bl)"/>
<path d="M411.1,496.2 L408.6,496.4 L406.6,495.5 L405.7,494.0 L406.1,492.5 L407.1,491.5 L408.6,491.0 L410.6,491.1 L412.1,491.7 L413.1,493.0 L413.2,494.0 L412.6,495.2 L411.1,496.2Z" fill="#c0a63e" filter="url(#bl)"/>
<path d="M410.6,494.5 L409.6,494.9 L408.6,494.8 L408.0,494.5 L407.7,493.5 L408.6,492.6 L410.1,492.6 L411.0,493.5 L410.6,494.5Z" fill="#cc9430" filter="url(#bl)"/>
</g>
<rect x="396.2" y="455.0" width="58.4" height="28.1" fill="none" stroke="#000" stroke-width="1.6"/>
<text x="455.00" y="508.50" font-size="11.4" text-anchor="end">9.1</text>
<path d="M460.2,523.5 V589.8" fill="none" stroke="#9a9a9a" stroke-width="0.8"/>
<path d="M390.2,530.1h2.4M390.2,543.4h2.4M390.2,559.3h2.4M390.2,574.6h2.4M390.2,580.5h2.4M391.3,534.8h1.3M391.3,538.1h1.3M391.3,540.1h1.3M391.3,548.0h1.3M391.3,551.3h1.3M391.3,554.0h1.3M391.3,556.0h1.3M391.3,563.9h1.3M391.3,567.3h1.3M391.3,569.2h1.3M391.3,571.2h1.3M391.3,577.2h1.3M391.3,579.2h1.3M391.3,583.2h1.3M391.3,585.2h1.3M391.3,587.1h1.3" stroke="#111" stroke-width="0.7" fill="none"/>
<text x="385.4" y="531.5" font-size="3.4" fill="#999" stroke="none">10<tspan font-size="2.6" dy="-1.3">5</tspan></text><text x="385.4" y="544.8" font-size="3.4" fill="#999" stroke="none">10<tspan font-size="2.6" dy="-1.3">4</tspan></text><text x="385.4" y="560.7" font-size="3.4" fill="#999" stroke="none">10<tspan font-size="2.6" dy="-1.3">3</tspan></text><text x="385.4" y="576.0" font-size="3.4" fill="#999" stroke="none">10<tspan font-size="2.6" dy="-1.3">2</tspan></text><text x="388.4" y="581.9" font-size="3.4" fill="#999" stroke="none">0</text>
<path d="M394.6,589.8v1.5M397.3,589.8v1.5M399.4,589.8v1.5M401.4,589.8v1.5M403.4,589.8v1.5M408.8,589.8v1.5M411.5,589.8v1.5M413.6,589.8v1.5M415.6,589.8v1.5M417.6,589.8v1.5M419.0,589.8v1.5M423.0,589.8v1.5M425.0,589.8v1.5M427.8,589.8v1.5M429.8,589.8v1.5M431.8,589.8v1.5M433.2,589.8v1.5M434.5,589.8v1.5M439.2,589.8v1.5M441.3,589.8v1.5M444.0,589.8v1.5M446.0,589.8v1.5M448.0,589.8v1.5M449.4,589.8v1.5M450.7,589.8v1.5M455.5,589.8v1.5M457.5,589.8v1.5M406.1,589.8v2.6M421.0,589.8v2.6M437.2,589.8v2.6M453.4,589.8v2.6" stroke="#111" stroke-width="0.8" fill="none"/>
<text x="405.1" y="596.0" font-size="3.4" fill="#aaa" stroke="none">0</text><text x="418.4" y="596.0" font-size="3.4" fill="#aaa" stroke="none">10<tspan font-size="2.6" dy="-1.3">3</tspan></text><text x="434.6" y="596.0" font-size="3.4" fill="#aaa" stroke="none">10<tspan font-size="2.6" dy="-1.3">4</tspan></text><text x="450.8" y="596.0" font-size="3.4" fill="#aaa" stroke="none">10<tspan font-size="2.6" dy="-1.3">5</tspan></text>
<path d="M392.6,523.5 V589.8 H460.2" fill="none" stroke="#111" stroke-width="1.3"/>
<path d="M426.1,551.1h1.1v1.1h-1.1zM427.1,550.5h1.1v1.1h-1.1zM425.4,547.7h1.1v1.1h-1.1zM411.6,550.0h1.1v1.1h-1.1zM422.2,549.9h1.1v1.1h-1.1zM403.8,549.4h1.1v1.1h-1.1zM432.9,555.3h1.1v1.1h-1.1zM436.9,547.3h1.1v1.1h-1.1zM442.0,548.6h1.1v1.1h-1.1zM399.5,552.9h1.1v1.1h-1.1zM426.5,549.8h1.1v1.1h-1.1zM436.7,549.4h1.1v1.1h-1.1zM441.3,550.2h1.1v1.1h-1.1zM424.7,551.8h1.1v1.1h-1.1zM408.5,553.8h1.1v1.1h-1.1zM435.3,559.0h1.1v1.1h-1.1zM438.9,556.5h1.1v1.1h-1.1zM405.8,551.5h1.1v1.1h-1.1zM424.6,551.0h1.1v1.1h-1.1zM433.9,551.3h1.1v1.1h-1.1zM434.7,549.4h1.1v1.1h-1.1zM434.9,558.1h1.1v1.1h-1.1zM426.7,546.1h1.1v1.1h-1.1zM440.8,548.3h1.1v1.1h-1.1zM436.5,553.2h1.1v1.1h-1.1zM416.9,552.7h1.1v1.1h-1.1zM435.0,549.9h1.1v1.1h-1.1zM432.0,558.2h1.1v1.1h-1.1zM429.1,550.8h1.1v1.1h-1.1zM421.9,553.5h1.1v1.1h-1.1zM434.9,546.6h1.1v1.1h-1.1zM419.5,556.8h1.1v1.1h-1.1zM419.4,546.6h1.1v1.1h-1.1zM418.8,551.3h1.1v1.1h-1.1zM409.4,557.5h1.1v1.1h-1.1zM416.8,559.0h1.1v1.1h-1.1zM442.9,557.0h1.1v1.1h-1.1zM402.8,555.6h1.1v1.1h-1.1zM429.0,549.2h1.1v1.1h-1.1zM428.9,544.0h1.1v1.1h-1.1z" fill="#9aa6d6" opacity="0.45"/>
<g opacity="0.85">
<path d="M414.1,579.5 L409.1,579.7 L404.1,578.8 L400.1,577.2 L396.6,574.5 L394.6,571.5 L394.0,569.5 L393.8,568.0 L394.5,565.0 L395.3,563.5 L396.6,561.8 L399.1,559.7 L401.6,558.4 L404.6,557.4 L408.1,556.7 L412.1,556.5 L420.1,556.8 L427.6,555.6 L430.1,555.5 L433.1,556.1 L435.3,557.5 L436.2,558.5 L436.8,560.0 L437.0,563.0 L435.9,566.5 L433.6,569.5 L428.6,573.7 L423.6,576.7 L418.6,578.6 L414.1,579.5Z" fill="#c0cae8" filter="url(#g1)"/>
<path d="M411.6,578.0 L407.6,577.9 L403.6,576.9 L400.6,575.4 L397.9,573.0 L396.5,570.5 L396.1,567.5 L397.1,564.5 L399.1,562.0 L401.1,560.5 L403.6,559.3 L406.1,558.6 L409.6,558.1 L413.6,558.2 L421.1,559.0 L428.6,559.0 L430.6,559.5 L431.9,560.5 L432.6,562.5 L432.4,565.0 L431.0,567.5 L428.6,570.0 L423.6,573.8 L420.1,575.9 L416.1,577.3 L411.6,578.0Z" fill="#9cb0dc" filter="url(#g2)"/>
<path d="M412.6,576.0 L409.1,576.2 L405.6,575.6 L402.6,574.4 L400.3,572.5 L398.8,570.0 L398.5,567.5 L399.3,565.0 L400.9,563.0 L402.6,561.8 L405.1,560.6 L408.1,560.0 L411.1,559.8 L414.6,560.2 L419.1,561.3 L423.1,562.7 L425.0,564.0 L425.6,565.5 L425.3,567.0 L424.1,569.0 L421.8,571.5 L419.6,573.3 L417.6,574.5 L415.1,575.5 L412.6,576.0Z" fill="#7896c8" filter="url(#g2)"/>
<path d="M412.1,574.5 L409.1,574.8 L406.6,574.4 L404.1,573.5 L402.1,572.0 L400.7,570.0 L400.3,568.0 L400.7,566.0 L402.2,564.0 L403.6,562.9 L405.6,562.0 L408.1,561.4 L410.1,561.3 L412.6,561.5 L415.1,562.1 L417.6,563.2 L419.5,564.5 L420.2,565.5 L420.6,567.0 L420.4,568.5 L419.6,570.0 L418.3,571.5 L416.3,573.0 L414.6,573.8 L412.1,574.5Z" fill="#5c9cb4" filter="url(#bl)"/>
<path d="M412.1,573.1 L410.1,573.4 L407.6,573.3 L405.6,572.7 L403.6,571.5 L402.4,570.0 L402.0,568.5 L402.2,566.5 L403.2,565.0 L404.6,563.8 L406.1,563.1 L409.6,562.6 L413.1,563.2 L414.9,564.0 L416.1,564.9 L417.0,566.0 L417.4,567.0 L417.4,568.0 L417.0,569.5 L415.1,571.6 L412.1,573.1Z" fill="#6caa84" filter="url(#bl)"/>
<path d="M410.1,572.0 L408.1,572.0 L406.6,571.6 L405.1,570.8 L404.1,569.7 L403.6,568.5 L403.8,567.0 L404.3,566.0 L405.6,564.9 L408.1,564.0 L410.6,564.0 L413.1,565.0 L414.5,566.5 L414.8,567.5 L414.8,568.5 L414.1,570.0 L412.6,571.2 L410.1,572.0Z" fill="#a0ae50" filter="url(#bl)"/>
<path d="M410.6,570.7 L408.1,570.9 L406.1,570.0 L405.1,568.5 L405.1,567.5 L405.6,566.5 L406.9,565.5 L408.6,565.1 L410.6,565.3 L412.0,566.0 L412.8,567.0 L413.0,568.5 L412.1,569.8 L410.6,570.7Z" fill="#c0a63e" filter="url(#bl)"/>
<path d="M409.6,569.5 L408.1,569.5 L407.2,569.0 L406.7,568.0 L407.2,567.0 L408.1,566.5 L409.1,566.4 L410.6,567.0 L411.0,567.5 L411.0,568.5 L410.6,569.0 L409.6,569.5Z" fill="#cc9430" filter="url(#bl)"/>
</g>
<rect x="396.2" y="530.0" width="58.4" height="28.1" fill="none" stroke="#000" stroke-width="1.6"/>
<text x="455.00" y="583.50" font-size="11.4" text-anchor="end">6.6</text>
<path d="M460.2,597.9 V664.1999999999999" fill="none" stroke="#9a9a9a" stroke-width="0.8"/>
<path d="M390.2,604.5h2.4M390.2,617.8h2.4M390.2,633.7h2.4M390.2,649.0h2.4M390.2,654.9h2.4M391.3,609.2h1.3M391.3,612.5h1.3M391.3,614.5h1.3M391.3,622.4h1.3M391.3,625.7h1.3M391.3,628.4h1.3M391.3,630.4h1.3M391.3,638.3h1.3M391.3,641.7h1.3M391.3,643.6h1.3M391.3,645.6h1.3M391.3,651.6h1.3M391.3,653.6h1.3M391.3,657.6h1.3M391.3,659.6h1.3M391.3,661.5h1.3" stroke="#111" stroke-width="0.7" fill="none"/>
<text x="385.4" y="605.9" font-size="3.4" fill="#999" stroke="none">10<tspan font-size="2.6" dy="-1.3">5</tspan></text><text x="385.4" y="619.2" font-size="3.4" fill="#999" stroke="none">10<tspan font-size="2.6" dy="-1.3">4</tspan></text><text x="385.4" y="635.1" font-size="3.4" fill="#999" stroke="none">10<tspan font-size="2.6" dy="-1.3">3</tspan></text><text x="385.4" y="650.4" font-size="3.4" fill="#999" stroke="none">10<tspan font-size="2.6" dy="-1.3">2</tspan></text><text x="388.4" y="656.3" font-size="3.4" fill="#999" stroke="none">0</text>
<path d="M394.6,664.2v1.5M397.3,664.2v1.5M399.4,664.2v1.5M401.4,664.2v1.5M403.4,664.2v1.5M408.8,664.2v1.5M411.5,664.2v1.5M413.6,664.2v1.5M415.6,664.2v1.5M417.6,664.2v1.5M419.0,664.2v1.5M423.0,664.2v1.5M425.0,664.2v1.5M427.8,664.2v1.5M429.8,664.2v1.5M431.8,664.2v1.5M433.2,664.2v1.5M434.5,664.2v1.5M439.2,664.2v1.5M441.3,664.2v1.5M444.0,664.2v1.5M446.0,664.2v1.5M448.0,664.2v1.5M449.4,664.2v1.5M450.7,664.2v1.5M455.5,664.2v1.5M457.5,664.2v1.5M406.1,664.2v2.6M421.0,664.2v2.6M437.2,664.2v2.6M453.4,664.2v2.6" stroke="#111" stroke-width="0.8" fill="none"/>
<text x="405.1" y="670.4" font-size="3.4" fill="#aaa" stroke="none">0</text><text x="418.4" y="670.4" font-size="3.4" fill="#aaa" stroke="none">10<tspan font-size="2.6" dy="-1.3">3</tspan></text><text x="434.6" y="670.4" font-size="3.4" fill="#aaa" stroke="none">10<tspan font-size="2.6" dy="-1.3">4</tspan></text><text x="450.8" y="670.4" font-size="3.4" fill="#aaa" stroke="none">10<tspan font-size="2.6" dy="-1.3">5</tspan></text>
<path d="M392.6,597.9 V664.1999999999999 H460.2" fill="none" stroke="#111" stroke-width="1.3"/>
<path d="M406.0,632.8h1.1v1.1h-1.1zM400.4,623.4h1.1v1.1h-1.1zM408.3,624.2h1.1v1.1h-1.1zM412.7,630.7h1.1v1.1h-1.1zM423.5,631.5h1.1v1.1h-1.1zM425.4,628.8h1.1v1.1h-1.1zM401.9,624.9h1.1v1.1h-1.1zM432.2,625.8h1.1v1.1h-1.1zM416.2,630.8h1.1v1.1h-1.1zM425.4,624.9h1.1v1.1h-1.1zM420.3,629.5h1.1v1.1h-1.1zM432.1,629.4h1.1v1.1h-1.1zM437.8,626.2h1.1v1.1h-1.1zM427.4,631.5h1.1v1.1h-1.1zM410.5,625.0h1.1v1.1h-1.1zM439.6,629.1h1.1v1.1h-1.1zM419.5,628.0h1.1v1.1h-1.1zM394.7,624.8h1.1v1.1h-1.1zM409.7,627.0h1.1v1.1h-1.1zM429.0,627.7h1.1v1.1h-1.1zM414.3,627.3h1.1v1.1h-1.1zM430.2,621.7h1.1v1.1h-1.1zM426.6,636.2h1.1v1.1h-1.1zM410.9,633.9h1.1v1.1h-1.1zM414.9,618.9h1.1v1.1h-1.1zM414.4,632.9h1.1v1.1h-1.1zM409.5,626.7h1.1v1.1h-1.1zM417.4,621.6h1.1v1.1h-1.1zM436.4,630.0h1.1v1.1h-1.1zM410.3,626.3h1.1v1.1h-1.1zM401.8,630.5h1.1v1.1h-1.1zM415.0,627.2h1.1v1.1h-1.1zM417.0,619.9h1.1v1.1h-1.1zM440.5,629.5h1.1v1.1h-1.1zM425.3,628.7h1.1v1.1h-1.1zM414.4,632.0h1.1v1.1h-1.1zM426.6,623.5h1.1v1.1h-1.1zM435.9,629.6h1.1v1.1h-1.1zM427.7,630.7h1.1v1.1h-1.1z" fill="#9aa6d6" opacity="0.45"/>
<g opacity="0.85">
<path d="M415.6,654.4 L410.6,654.8 L405.6,654.3 L401.1,652.8 L397.4,650.4 L394.9,647.4 L394.3,645.9 L393.8,643.9 L393.9,641.9 L394.3,640.4 L396.1,637.4 L398.1,635.5 L400.1,634.2 L402.6,633.1 L406.1,632.1 L411.1,631.6 L420.6,631.8 L427.6,630.7 L430.1,630.6 L432.6,631.0 L435.1,632.2 L441.6,638.4 L442.8,639.9 L443.2,641.4 L442.8,642.9 L441.4,644.4 L439.6,645.5 L436.1,647.0 L428.0,649.9 L420.6,653.1 L415.6,654.4Z" fill="#c0cae8" filter="url(#g1)"/>
<path d="M413.6,652.9 L409.6,653.1 L405.6,652.6 L401.6,651.1 L398.6,648.9 L397.4,647.4 L396.6,645.9 L396.0,642.9 L396.8,639.9 L398.7,637.4 L400.6,635.9 L403.1,634.6 L408.1,633.3 L412.1,633.2 L421.1,633.7 L429.1,633.5 L431.6,634.1 L434.6,635.6 L438.4,638.4 L440.0,640.4 L440.1,641.9 L439.6,642.9 L438.6,643.9 L436.6,645.1 L433.1,646.5 L425.1,648.9 L418.1,651.8 L413.6,652.9Z" fill="#9cb0dc" filter="url(#g2)"/>
<path d="M413.6,651.0 L410.1,651.3 L406.6,651.0 L403.1,649.7 L400.6,647.9 L399.1,645.9 L398.4,643.4 L398.8,640.9 L400.5,638.4 L402.6,636.8 L405.6,635.5 L408.6,634.9 L412.1,634.8 L426.6,636.0 L429.6,636.5 L433.6,638.1 L435.3,639.4 L436.1,640.4 L436.3,641.4 L436.0,642.4 L435.0,643.4 L433.3,644.4 L430.1,645.6 L423.1,647.4 L416.6,650.1 L413.6,651.0Z" fill="#7896c8" filter="url(#g2)"/>
<path d="M413.1,649.5 L410.1,649.9 L407.1,649.6 L404.6,648.8 L402.4,647.4 L400.8,645.4 L400.2,643.4 L400.5,641.4 L401.7,639.4 L403.6,637.9 L406.1,636.8 L408.6,636.3 L411.6,636.2 L427.6,638.2 L430.8,639.4 L432.3,640.9 L432.2,641.9 L431.9,642.4 L430.1,643.6 L421.1,646.2 L415.6,648.6 L413.1,649.5Z" fill="#5c9cb4" filter="url(#bl)"/>
<path d="M411.1,648.4 L408.6,648.5 L406.6,648.2 L404.6,647.3 L403.0,645.9 L402.1,644.4 L401.9,642.4 L402.5,640.9 L403.8,639.4 L405.1,638.6 L407.1,637.8 L409.1,637.5 L411.6,637.6 L423.6,639.9 L425.1,640.4 L426.0,640.9 L426.2,641.4 L426.1,641.9 L425.1,642.6 L419.6,644.6 L414.1,647.5 L411.1,648.4Z" fill="#6caa84" filter="url(#bl)"/>
<path d="M411.1,647.0 L409.1,647.2 L407.6,647.0 L406.1,646.5 L404.6,645.5 L403.9,644.4 L403.6,642.9 L403.8,641.9 L404.6,640.7 L406.6,639.4 L409.6,638.8 L413.0,639.4 L415.9,640.9 L416.4,641.4 L416.7,642.4 L415.9,643.9 L413.7,645.9 L411.1,647.0Z" fill="#a0ae50" filter="url(#bl)"/>
<path d="M410.1,646.0 L407.6,645.9 L406.5,645.4 L405.4,644.4 L405.0,643.4 L405.1,642.4 L406.2,640.9 L407.6,640.2 L409.6,640.0 L411.7,640.4 L413.2,641.4 L413.8,642.4 L413.5,643.9 L412.1,645.2 L410.1,646.0Z" fill="#c0a63e" filter="url(#bl)"/>
<path d="M410.1,644.6 L408.6,644.7 L407.6,644.4 L406.8,643.4 L406.9,642.4 L407.6,641.7 L408.6,641.3 L410.1,641.4 L411.0,641.9 L411.4,642.4 L411.5,643.4 L411.1,644.0 L410.1,644.6Z" fill="#cc9430" filter="url(#bl)"/>
</g>
<rect x="396.2" y="604.4" width="58.4" height="28.1" fill="none" stroke="#000" stroke-width="1.6"/>
<text x="455.00" y="657.90" font-size="11.4" text-anchor="end">7.8</text>
<text x="341.20" y="291.80" font-size="11.6" textLength="17.76" lengthAdjust="spacingAndGlyphs">HIV</text>
<text x="359.82" y="287.71" font-size="11.5">+</text>
<text x="405.60" y="291.80" font-size="11.6" textLength="18.46" lengthAdjust="spacingAndGlyphs">HIV</text>
<text x="423.93" y="287.91" font-size="11.5">+</text>
<text x="431.30" y="291.80" font-size="11.6" textLength="20.16" lengthAdjust="spacingAndGlyphs">IRIS</text>
<text x="481.78" y="289.80" font-size="12" textLength="26.60" lengthAdjust="spacingAndGlyphs">Time</text>
<text x="469.68" y="303.30" font-size="12" textLength="49.60" lengthAdjust="spacingAndGlyphs">(months)</text>
<text x="493.90" y="331.20" font-size="11.2" text-anchor="middle">0</text>
<text x="493.90" y="407.60" font-size="11.2" text-anchor="middle">1</text>
<text x="493.90" y="480.00" font-size="11.2" text-anchor="middle">3</text>
<text x="493.90" y="555.30" font-size="11.2" text-anchor="middle">6</text>
<text x="493.90" y="629.90" font-size="11.2" text-anchor="middle">12</text>
<path d="M303.8,633.4 V301" stroke="#000" stroke-width="1.5"/><path d="M300.4,302 L303.8,296 L307.2,302Z" fill="#000"/>
<text transform="translate(307.3,654.9) rotate(-90)" font-size="11" text-anchor="middle" textLength="21.7" lengthAdjust="spacingAndGlyphs">Ki67</text>
<text x="316.40" y="683.50" font-size="11" textLength="39.60" lengthAdjust="spacingAndGlyphs">HLA-DR</text>
<path d="M363,679.9 H453" stroke="#000" stroke-width="1.5"/><path d="M452,676.5 L458,679.9 L452,683.3Z" fill="#000"/>
</svg></body></html>
